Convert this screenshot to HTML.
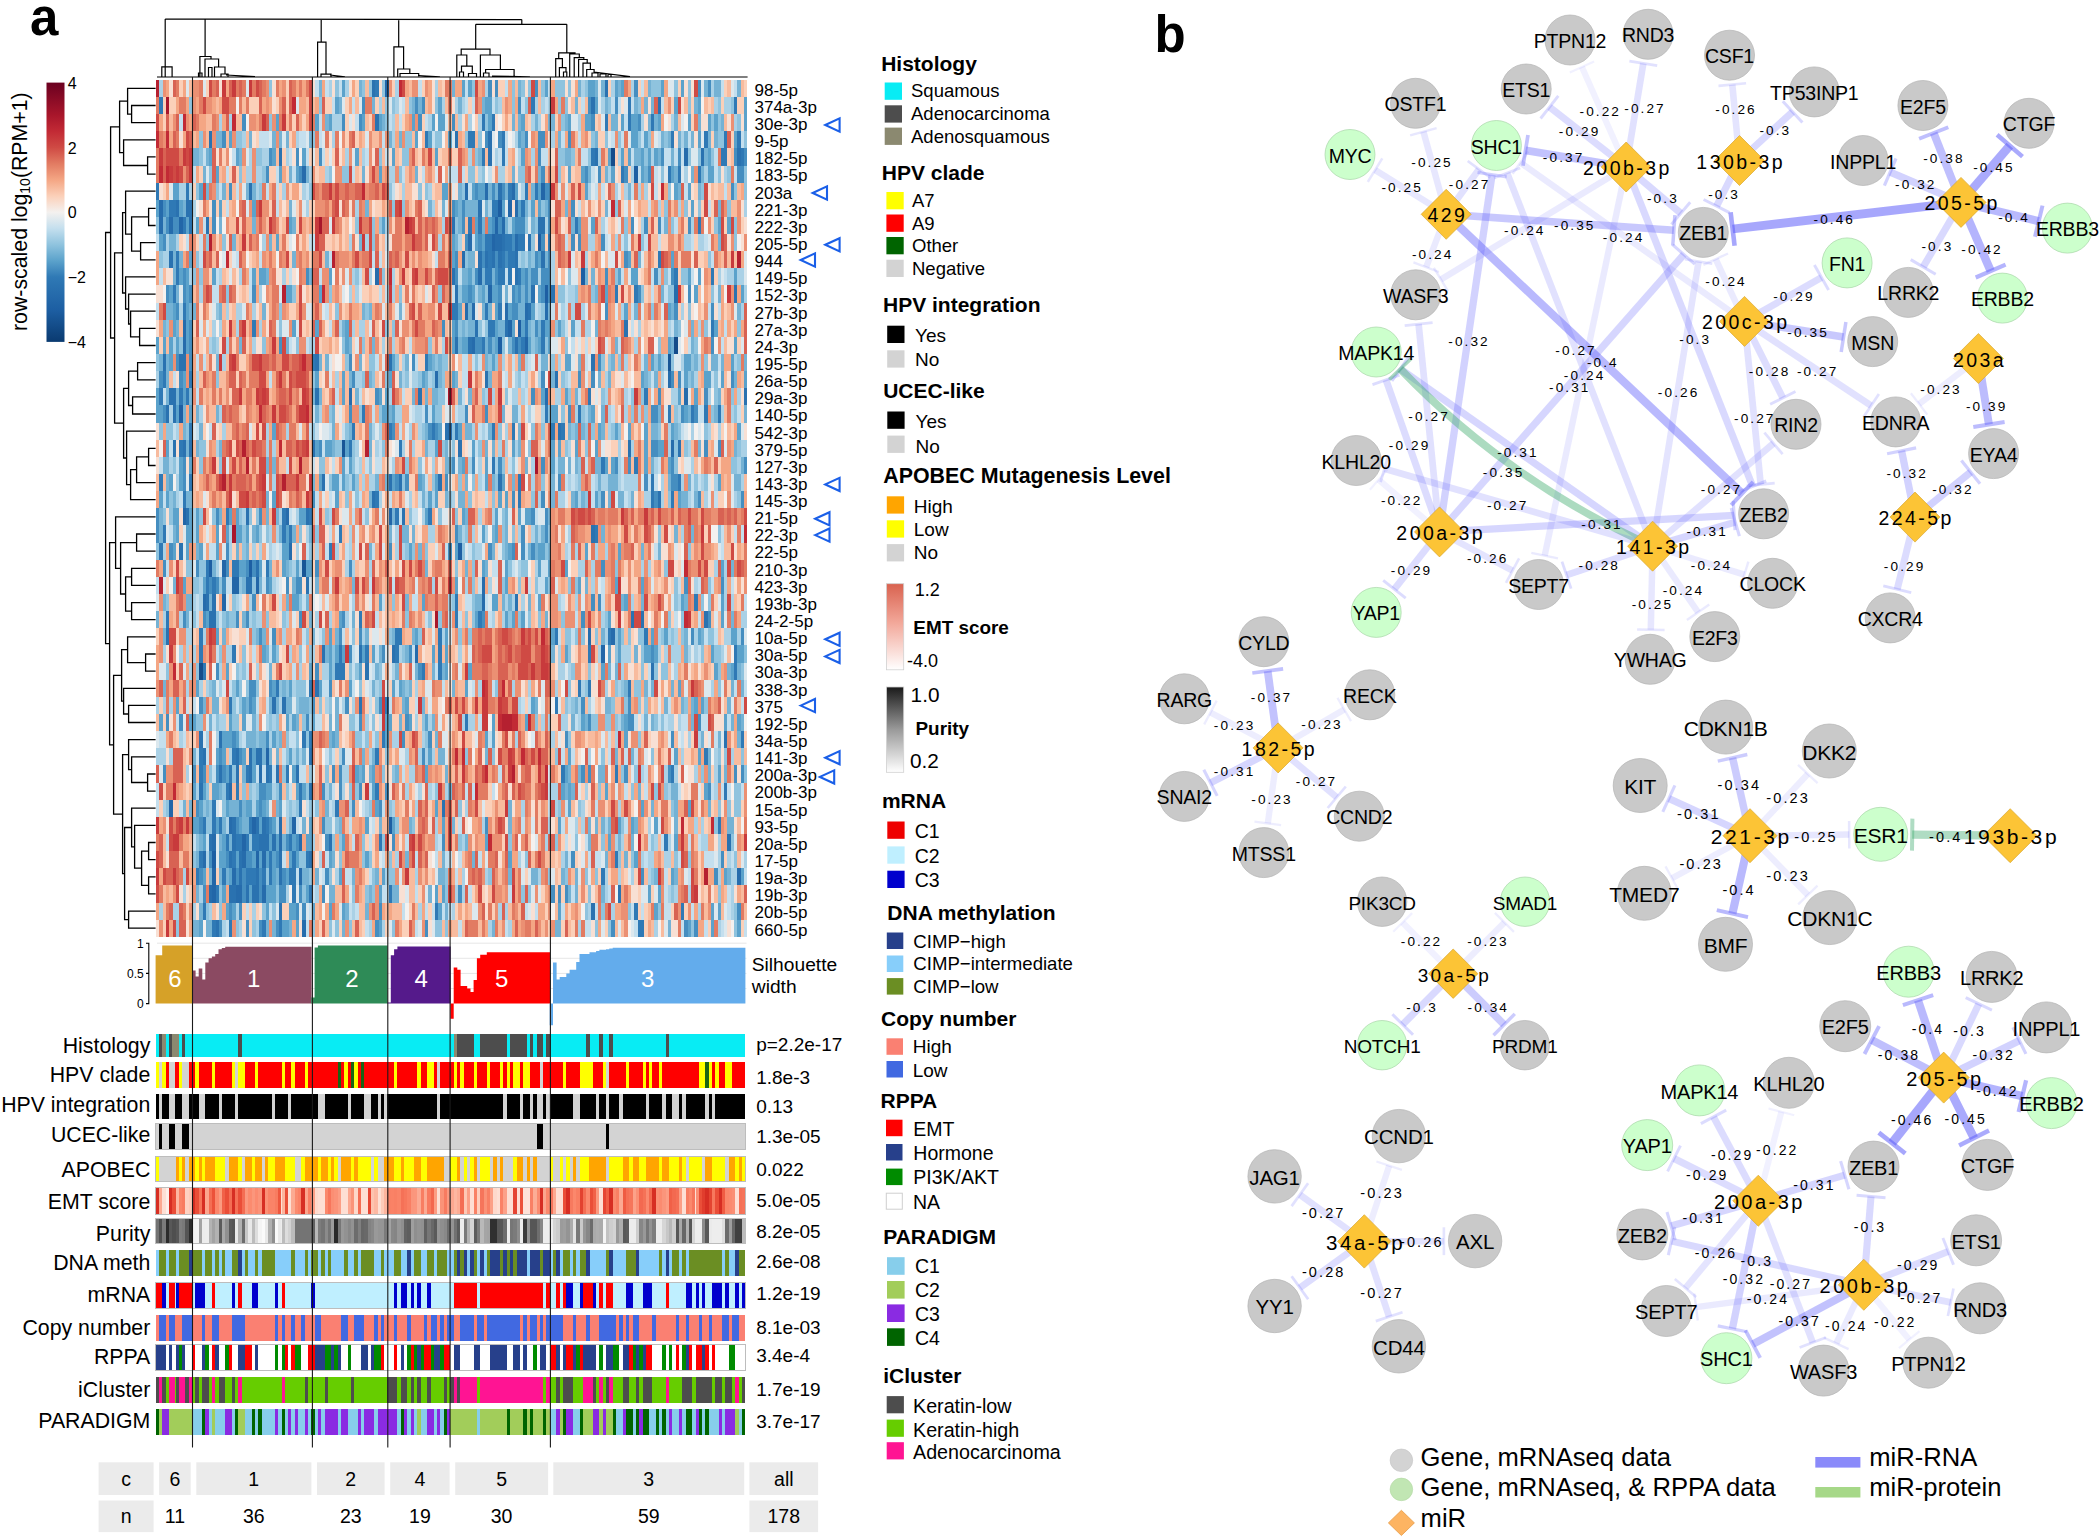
<!DOCTYPE html>
<html><head><meta charset="utf-8"><title>Figure</title>
<style>html,body{margin:0;padding:0;background:#fff;width:2100px;height:1537px;overflow:hidden}svg{display:block}</style></head>
<body>
<svg width="2100" height="1537" viewBox="0 0 2100 1537" font-family="'Liberation Sans', Arial, sans-serif" fill="#000">
<rect width="2100" height="1537" fill="#fff"/>
<text x="30.1" y="35.3" font-size="51" font-weight="bold">a</text>
<text x="1154.6" y="51.9" font-size="51" font-weight="bold">b</text>
<defs><linearGradient id="gb" x1="0" y1="0" x2="0" y2="1">
<stop offset="0.00%" stop-color="#6b0020"/>
<stop offset="12.50%" stop-color="#a8162b"/>
<stop offset="18.75%" stop-color="#c22a35"/>
<stop offset="25.00%" stop-color="#cf4a44"/>
<stop offset="31.25%" stop-color="#e27b62"/>
<stop offset="37.50%" stop-color="#f4a684"/>
<stop offset="43.75%" stop-color="#fbd0b9"/>
<stop offset="50.00%" stop-color="#f4f1ef"/>
<stop offset="56.25%" stop-color="#c4dfee"/>
<stop offset="62.50%" stop-color="#8fc3de"/>
<stop offset="68.75%" stop-color="#5ba2cb"/>
<stop offset="75.00%" stop-color="#2f79b5"/>
<stop offset="87.50%" stop-color="#1d5fa3"/>
<stop offset="100.00%" stop-color="#0a3a70"/>
</linearGradient>
<linearGradient id="ge" x1="0" y1="0" x2="0" y2="1"><stop offset="0" stop-color="#d9624f"/><stop offset="0.45" stop-color="#f2a799"/><stop offset="1" stop-color="#ffffff"/></linearGradient>
<linearGradient id="gp" x1="0" y1="0" x2="0" y2="1"><stop offset="0" stop-color="#1a1a1a"/><stop offset="0.5" stop-color="#9a9a9a"/><stop offset="1" stop-color="#ffffff"/></linearGradient>
</defs>
<rect x="46.5" y="82.6" width="18" height="259.3" fill="url(#gb)"/>
<text x="67.7" y="88.7" font-size="16">4</text>
<text x="67.7" y="153.5" font-size="16">2</text>
<text x="67.7" y="218.3" font-size="16">0</text>
<text x="67.7" y="283.1" font-size="16">−2</text>
<text x="67.7" y="347.9" font-size="16">−4</text>
<text transform="translate(27.3,331) rotate(-90)" font-size="21.3">row-scaled log<tspan font-size="14" dy="2.5">10</tspan><tspan dy="-2.5">(RPM+1)</tspan></text>
<g transform="translate(156,79.8) scale(3.3225,17.14)" shape-rendering="crispEdges">
<path fill="#144c8a" d="M137 4h1v1h-1zM156 15h1v1h-1zM13 34h1v1h-1z"/>
<path fill="#185696" d="M154 16h1v1h-1zM56 21h1v1h-1zM44 28h1v1h-1z"/>
<path fill="#1d5fa3" d="M144 5h1v1h-1zM103 7h1v1h-1zM115 9h1v1h-1zM128 11h1v1h-1zM117 12h1v1h-1zM109 14h1v1h-1zM103 15h1v1h-1zM7 19h1v1h-1zM91 27h1v1h-1zM16 28h1v1h-1zM28 28h1v1h-1zM70 43h1v1h-1zM17 45h1v1h-1z"/>
<path fill="#2266a8" d="M69 0h1v1h-1zM116 6h1v1h-1zM106 7h1v1h-1zM7 8h1v1h-1zM102 8h1v1h-1zM101 9h1v1h-1zM100 12h1v1h-1zM106 14h1v1h-1zM111 15h1v1h-1zM8 25h1v1h-1zM70 25h1v1h-1zM20 28h1v1h-1zM23 29h2v1h-2zM30 29h1v1h-1zM20 30h1v1h-1zM134 33h1v1h-1zM33 39h1v1h-1zM4 42h1v1h-1zM29 43h1v1h-1zM41 43h1v1h-1zM26 44h1v1h-1zM30 45h1v1h-1zM17 46h1v1h-1zM17 47h1v1h-1z"/>
<path fill="#266cac" d="M159 4h1v1h-1zM44 5h1v1h-1zM93 6h1v1h-1zM99 6h1v1h-1zM107 6h1v1h-1zM1 7h1v1h-1zM108 7h1v1h-1zM1 8h1v1h-1zM4 8h1v1h-1zM104 8h1v1h-1zM94 9h1v1h-1zM102 9h2v1h-2zM108 9h1v1h-1zM92 10h1v1h-1zM66 11h1v1h-1zM97 11h1v1h-1zM156 12h1v1h-1zM93 13h1v1h-1zM95 13h1v1h-1zM105 13h1v1h-1zM111 13h1v1h-1zM117 13h1v1h-1zM8 14h1v1h-1zM8 15h1v1h-1zM95 15h1v1h-1zM84 17h1v1h-1zM154 17h1v1h-1zM58 18h1v1h-1zM117 18h1v1h-1zM159 18h1v1h-1zM88 20h1v1h-1zM155 21h1v1h-1zM39 25h1v1h-1zM40 27h1v1h-1zM98 29h1v1h-1zM14 30h1v1h-1zM98 30h1v1h-1zM130 32h1v1h-1zM137 32h1v1h-1zM78 33h1v1h-1zM31 40h1v1h-1zM22 41h1v1h-1zM22 43h1v1h-1zM37 43h1v1h-1zM17 44h1v1h-1zM37 44h1v1h-1zM43 44h1v1h-1zM14 45h1v1h-1zM26 45h1v1h-1zM32 45h1v1h-1zM23 46h1v1h-1zM43 46h1v1h-1zM175 46h1v1h-1zM16 47h1v1h-1zM24 47h2v1h-2zM32 47h1v1h-1zM44 49h1v1h-1z"/>
<path fill="#2a72b0" d="M65 0h1v1h-1zM135 0h1v1h-1zM131 1h1v1h-1zM151 1h1v1h-1zM66 2h1v1h-1zM16 3h1v1h-1zM90 3h1v1h-1zM100 3h1v1h-1zM37 4h1v1h-1zM100 4h1v1h-1zM132 4h1v1h-1zM164 4h1v1h-1zM175 4h1v1h-1zM28 6h1v1h-1zM103 6h1v1h-1zM6 7h1v1h-1zM9 7h2v1h-2zM97 7h1v1h-1zM10 8h1v1h-1zM15 8h1v1h-1zM89 8h1v1h-1zM115 8h2v1h-2zM104 9h1v1h-1zM112 9h1v1h-1zM4 10h1v1h-1zM97 10h1v1h-1zM99 10h1v1h-1zM101 10h1v1h-1zM103 10h1v1h-1zM108 10h1v1h-1zM116 10h1v1h-1zM89 11h1v1h-1zM108 11h1v1h-1zM90 12h1v1h-1zM113 12h1v1h-1zM119 12h1v1h-1zM174 12h1v1h-1zM112 13h1v1h-1zM96 14h1v1h-1zM105 14h1v1h-1zM141 14h1v1h-1zM90 15h1v1h-1zM94 15h1v1h-1zM108 15h1v1h-1zM2 16h1v1h-1zM7 16h2v1h-2zM48 16h1v1h-1zM70 16h1v1h-1zM131 16h1v1h-1zM99 17h1v1h-1zM120 17h1v1h-1zM4 18h2v1h-2zM48 18h1v1h-1zM79 18h1v1h-1zM177 18h1v1h-1zM3 19h1v1h-1zM5 19h1v1h-1zM87 20h1v1h-1zM121 20h1v1h-1zM5 21h1v1h-1zM8 21h1v1h-1zM10 21h1v1h-1zM47 21h1v1h-1zM91 21h1v1h-1zM142 21h1v1h-1zM157 21h1v1h-1zM50 23h1v1h-1zM70 23h1v1h-1zM73 23h1v1h-1zM85 23h1v1h-1zM103 23h1v1h-1zM65 24h1v1h-1zM151 24h1v1h-1zM9 25h1v1h-1zM27 25h1v1h-1zM45 25h1v1h-1zM74 25h1v1h-1zM131 26h1v1h-1zM7 27h1v1h-1zM30 28h1v1h-1zM27 29h2v1h-2zM45 29h1v1h-1zM15 30h1v1h-1zM17 30h1v1h-1zM108 30h1v1h-1zM16 31h2v1h-2zM143 31h1v1h-1zM146 31h1v1h-1zM165 31h1v1h-1zM3 32h1v1h-1zM50 33h1v1h-1zM61 33h1v1h-1zM71 33h1v1h-1zM63 34h1v1h-1zM149 34h1v1h-1zM48 35h1v1h-1zM35 36h1v1h-1zM38 36h1v1h-1zM61 36h1v1h-1zM13 38h1v1h-1zM19 38h1v1h-1zM171 38h1v1h-1zM14 39h1v1h-1zM24 39h1v1h-1zM28 39h1v1h-1zM30 39h2v1h-2zM46 39h1v1h-1zM19 40h1v1h-1zM24 40h1v1h-1zM28 40h1v1h-1zM33 40h1v1h-1zM36 40h1v1h-1zM42 40h1v1h-1zM13 41h1v1h-1zM46 41h1v1h-1zM86 42h1v1h-1zM23 43h1v1h-1zM30 43h1v1h-1zM32 43h1v1h-1zM16 44h1v1h-1zM23 44h1v1h-1zM31 44h3v1h-3zM35 44h1v1h-1zM52 44h1v1h-1zM172 44h1v1h-1zM22 45h1v1h-1zM25 45h1v1h-1zM37 45h1v1h-1zM46 45h1v1h-1zM25 46h1v1h-1zM30 46h1v1h-1zM37 46h1v1h-1zM22 47h2v1h-2zM27 47h1v1h-1zM29 47h2v1h-2zM139 47h1v1h-1zM37 48h1v1h-1zM131 48h1v1h-1zM18 49h1v1h-1z"/>
<path fill="#2f79b5" d="M66 0h1v1h-1zM1 1h1v1h-1zM113 1h1v1h-1zM142 1h1v1h-1zM174 1h1v1h-1zM98 2h1v1h-1zM101 2h1v1h-1zM135 2h1v1h-1zM142 2h1v1h-1zM149 2h1v1h-1zM81 3h1v1h-1zM94 3h2v1h-2zM104 3h1v1h-1zM155 3h1v1h-1zM165 3h1v1h-1zM171 3h1v1h-1zM175 3h1v1h-1zM98 4h1v1h-1zM104 4h1v1h-1zM131 4h1v1h-1zM170 4h2v1h-2zM176 4h1v1h-1zM140 5h1v1h-1zM154 5h1v1h-1zM157 5h1v1h-1zM163 5h1v1h-1zM0 6h1v1h-1zM9 6h1v1h-1zM106 6h1v1h-1zM111 6h1v1h-1zM114 6h1v1h-1zM4 7h2v1h-2zM101 7h2v1h-2zM110 7h1v1h-1zM8 8h1v1h-1zM94 8h1v1h-1zM97 8h1v1h-1zM126 8h1v1h-1zM163 8h1v1h-1zM99 9h2v1h-2zM105 9h2v1h-2zM109 9h2v1h-2zM118 9h1v1h-1zM6 10h1v1h-1zM100 10h1v1h-1zM104 10h1v1h-1zM106 10h2v1h-2zM151 10h1v1h-1zM6 11h1v1h-1zM99 11h2v1h-2zM103 11h2v1h-2zM106 11h1v1h-1zM109 11h1v1h-1zM156 11h1v1h-1zM167 11h1v1h-1zM5 12h1v1h-1zM138 12h1v1h-1zM144 12h1v1h-1zM8 13h1v1h-1zM89 13h2v1h-2zM99 13h1v1h-1zM103 13h1v1h-1zM29 14h1v1h-1zM100 14h2v1h-2zM111 14h1v1h-1zM116 14h1v1h-1zM167 14h1v1h-1zM98 15h1v1h-1zM110 15h1v1h-1zM116 15h1v1h-1zM47 16h1v1h-1zM81 16h1v1h-1zM2 17h1v1h-1zM10 17h1v1h-1zM1 18h1v1h-1zM7 18h1v1h-1zM9 18h1v1h-1zM130 18h1v1h-1zM147 18h1v1h-1zM62 19h1v1h-1zM117 19h1v1h-1zM127 19h1v1h-1zM154 19h1v1h-1zM161 19h1v1h-1zM165 19h1v1h-1zM169 19h1v1h-1zM10 20h1v1h-1zM59 20h1v1h-1zM70 20h1v1h-1zM83 20h1v1h-1zM90 20h1v1h-1zM101 20h1v1h-1zM107 20h1v1h-1zM119 20h1v1h-1zM122 20h1v1h-1zM7 21h1v1h-1zM58 21h1v1h-1zM73 21h1v1h-1zM101 22h1v1h-1zM134 22h1v1h-1zM144 22h1v1h-1zM1 23h1v1h-1zM10 23h1v1h-1zM109 23h1v1h-1zM149 23h1v1h-1zM157 23h1v1h-1zM8 24h1v1h-1zM66 24h1v1h-1zM109 24h1v1h-1zM149 24h1v1h-1zM155 24h1v1h-1zM21 25h1v1h-1zM38 25h1v1h-1zM46 25h1v1h-1zM72 25h1v1h-1zM82 25h1v1h-1zM2 26h1v1h-1zM38 26h1v1h-1zM40 26h1v1h-1zM55 26h1v1h-1zM132 26h1v1h-1zM1 27h1v1h-1zM52 27h1v1h-1zM15 28h1v1h-1zM23 28h2v1h-2zM33 28h1v1h-1zM15 29h1v1h-1zM17 29h1v1h-1zM90 30h1v1h-1zM162 30h1v1h-1zM3 31h1v1h-1zM61 31h1v1h-1zM90 31h1v1h-1zM97 31h1v1h-1zM13 32h1v1h-1zM72 32h2v1h-2zM85 32h1v1h-1zM120 32h1v1h-1zM136 32h1v1h-1zM147 32h1v1h-1zM13 33h1v1h-1zM23 33h1v1h-1zM55 33h1v1h-1zM63 33h1v1h-1zM72 33h1v1h-1zM85 33h1v1h-1zM130 33h1v1h-1zM174 33h1v1h-1zM14 34h1v1h-1zM54 34h3v1h-3zM80 34h1v1h-1zM85 34h1v1h-1zM174 34h1v1h-1zM36 35h1v1h-1zM46 35h1v1h-1zM127 35h1v1h-1zM130 35h1v1h-1zM142 35h1v1h-1zM22 36h1v1h-1zM69 36h1v1h-1zM120 36h1v1h-1zM93 37h1v1h-1zM44 38h1v1h-1zM46 38h1v1h-1zM68 38h1v1h-1zM176 38h1v1h-1zM13 39h1v1h-1zM23 39h1v1h-1zM66 39h1v1h-1zM165 39h1v1h-1zM13 40h1v1h-1zM22 40h1v1h-1zM27 40h1v1h-1zM34 40h1v1h-1zM39 40h1v1h-1zM122 40h1v1h-1zM138 40h1v1h-1zM155 40h1v1h-1zM21 41h1v1h-1zM24 41h1v1h-1zM43 41h1v1h-1zM66 41h1v1h-1zM171 41h1v1h-1zM17 42h1v1h-1zM43 42h1v1h-1zM54 42h1v1h-1zM14 43h1v1h-1zM17 43h1v1h-1zM19 43h1v1h-1zM28 43h1v1h-1zM33 43h1v1h-1zM169 43h1v1h-1zM21 44h1v1h-1zM24 44h2v1h-2zM27 44h1v1h-1zM29 44h2v1h-2zM40 44h1v1h-1zM67 44h1v1h-1zM153 44h1v1h-1zM13 45h1v1h-1zM23 45h1v1h-1zM34 45h1v1h-1zM41 45h1v1h-1zM45 45h1v1h-1zM138 45h1v1h-1zM12 46h1v1h-1zM20 46h1v1h-1zM27 46h3v1h-3zM32 46h1v1h-1zM34 46h1v1h-1zM40 46h2v1h-2zM134 46h1v1h-1zM18 47h1v1h-1zM41 47h1v1h-1zM46 47h1v1h-1zM70 47h1v1h-1zM14 48h1v1h-1zM84 48h1v1h-1zM144 48h1v1h-1zM158 48h1v1h-1zM17 49h1v1h-1zM22 49h1v1h-1zM32 49h1v1h-1zM37 49h1v1h-1zM145 49h2v1h-2z"/>
<path fill="#458ec0" d="M100 0h1v1h-1zM102 0h1v1h-1zM114 0h1v1h-1zM144 0h1v1h-1zM163 0h1v1h-1zM166 0h1v1h-1zM62 1h1v1h-1zM78 1h1v1h-1zM80 1h1v1h-1zM109 1h1v1h-1zM130 1h1v1h-1zM138 1h1v1h-1zM26 2h1v1h-1zM56 2h1v1h-1zM61 2h1v1h-1zM79 2h1v1h-1zM89 2h1v1h-1zM131 2h1v1h-1zM145 2h1v1h-1zM20 3h1v1h-1zM99 3h1v1h-1zM103 3h1v1h-1zM111 3h1v1h-1zM115 3h2v1h-2zM124 3h1v1h-1zM34 4h1v1h-1zM42 4h1v1h-1zM49 4h1v1h-1zM115 4h1v1h-1zM152 4h1v1h-1zM157 4h1v1h-1zM174 4h1v1h-1zM177 4h1v1h-1zM33 5h1v1h-1zM43 5h1v1h-1zM116 5h1v1h-1zM129 5h1v1h-1zM133 5h1v1h-1zM141 5h1v1h-1zM148 5h1v1h-1zM175 5h2v1h-2zM22 6h1v1h-1zM96 6h1v1h-1zM101 6h1v1h-1zM104 6h1v1h-1zM117 6h2v1h-2zM173 6h1v1h-1zM2 7h1v1h-1zM17 7h1v1h-1zM89 7h1v1h-1zM92 7h1v1h-1zM118 7h1v1h-1zM125 7h1v1h-1zM3 8h1v1h-1zM5 8h2v1h-2zM17 8h1v1h-1zM92 8h1v1h-1zM101 8h1v1h-1zM103 8h1v1h-1zM108 8h3v1h-3zM118 8h1v1h-1zM143 8h1v1h-1zM147 8h1v1h-1zM151 8h1v1h-1zM160 8h1v1h-1zM2 9h1v1h-1zM93 9h1v1h-1zM97 9h1v1h-1zM107 9h1v1h-1zM116 9h1v1h-1zM125 9h1v1h-1zM127 9h1v1h-1zM134 9h1v1h-1zM90 10h1v1h-1zM98 10h1v1h-1zM102 10h1v1h-1zM105 10h1v1h-1zM114 10h1v1h-1zM118 10h1v1h-1zM141 10h1v1h-1zM8 11h1v1h-1zM45 11h1v1h-1zM90 11h1v1h-1zM96 11h1v1h-1zM102 11h1v1h-1zM111 11h1v1h-1zM113 11h2v1h-2zM116 11h3v1h-3zM135 11h1v1h-1zM150 11h1v1h-1zM155 11h1v1h-1zM3 12h1v1h-1zM8 12h1v1h-1zM10 12h1v1h-1zM29 12h1v1h-1zM94 12h1v1h-1zM103 12h1v1h-1zM107 12h1v1h-1zM109 12h1v1h-1zM111 12h1v1h-1zM116 12h1v1h-1zM118 12h1v1h-1zM145 12h1v1h-1zM160 12h1v1h-1zM6 13h1v1h-1zM107 13h2v1h-2zM135 13h1v1h-1zM156 13h1v1h-1zM167 13h1v1h-1zM10 14h1v1h-1zM86 14h1v1h-1zM90 14h1v1h-1zM114 14h1v1h-1zM10 15h1v1h-1zM37 15h1v1h-1zM96 15h2v1h-2zM100 15h1v1h-1zM107 15h1v1h-1zM109 15h1v1h-1zM167 15h1v1h-1zM6 16h1v1h-1zM10 16h1v1h-1zM58 16h1v1h-1zM77 16h1v1h-1zM133 16h1v1h-1zM1 17h1v1h-1zM7 17h1v1h-1zM59 17h1v1h-1zM116 17h1v1h-1zM127 17h1v1h-1zM131 17h1v1h-1zM155 17h1v1h-1zM157 17h1v1h-1zM173 17h1v1h-1zM66 18h1v1h-1zM113 18h1v1h-1zM151 18h1v1h-1zM165 18h1v1h-1zM2 19h1v1h-1zM58 19h1v1h-1zM81 19h1v1h-1zM93 19h1v1h-1zM99 19h1v1h-1zM124 19h1v1h-1zM149 19h2v1h-2zM158 19h1v1h-1zM162 19h1v1h-1zM71 20h1v1h-1zM82 20h1v1h-1zM84 20h1v1h-1zM49 21h1v1h-1zM149 21h2v1h-2zM165 21h1v1h-1zM169 21h1v1h-1zM8 22h1v1h-1zM89 22h1v1h-1zM95 22h1v1h-1zM103 22h1v1h-1zM116 22h1v1h-1zM138 22h1v1h-1zM142 22h1v1h-1zM155 22h1v1h-1zM177 22h1v1h-1zM8 23h1v1h-1zM72 23h1v1h-1zM75 23h1v1h-1zM87 23h1v1h-1zM121 23h1v1h-1zM147 23h1v1h-1zM155 23h2v1h-2zM47 24h1v1h-1zM107 24h1v1h-1zM116 24h1v1h-1zM134 24h1v1h-1zM150 24h1v1h-1zM163 24h1v1h-1zM176 24h1v1h-1zM0 25h1v1h-1zM18 25h1v1h-1zM31 25h1v1h-1zM113 25h1v1h-1zM117 25h1v1h-1zM0 26h1v1h-1zM90 26h1v1h-1zM110 26h1v1h-1zM117 26h1v1h-1zM4 27h1v1h-1zM21 27h1v1h-1zM70 27h1v1h-1zM88 27h1v1h-1zM100 27h1v1h-1zM107 27h1v1h-1zM110 27h1v1h-1zM113 27h1v1h-1zM2 28h1v1h-1zM12 28h1v1h-1zM21 28h1v1h-1zM27 28h1v1h-1zM29 28h1v1h-1zM48 28h1v1h-1zM58 28h1v1h-1zM134 28h1v1h-1zM16 29h1v1h-1zM18 29h1v1h-1zM20 29h1v1h-1zM33 29h1v1h-1zM39 29h1v1h-1zM42 29h2v1h-2zM159 29h1v1h-1zM170 29h1v1h-1zM29 30h1v1h-1zM131 30h1v1h-1zM133 30h1v1h-1zM8 31h1v1h-1zM14 31h1v1h-1zM24 31h1v1h-1zM27 31h1v1h-1zM43 31h1v1h-1zM56 31h1v1h-1zM98 31h1v1h-1zM128 31h1v1h-1zM166 31h1v1h-1zM31 32h1v1h-1zM35 32h1v1h-1zM55 32h1v1h-1zM61 32h1v1h-1zM161 32h1v1h-1zM176 32h1v1h-1zM58 33h1v1h-1zM68 33h1v1h-1zM76 33h1v1h-1zM149 33h1v1h-1zM18 34h1v1h-1zM48 34h1v1h-1zM79 34h1v1h-1zM28 35h2v1h-2zM34 35h1v1h-1zM52 35h1v1h-1zM13 36h1v1h-1zM28 36h1v1h-1zM47 36h1v1h-1zM57 36h1v1h-1zM67 36h1v1h-1zM128 36h1v1h-1zM142 36h1v1h-1zM3 37h1v1h-1zM7 37h1v1h-1zM45 37h1v1h-1zM61 37h1v1h-1zM75 37h1v1h-1zM130 37h1v1h-1zM142 37h2v1h-2zM163 37h1v1h-1zM23 38h1v1h-1zM33 38h1v1h-1zM74 38h1v1h-1zM82 38h1v1h-1zM123 38h1v1h-1zM155 38h1v1h-1zM19 39h1v1h-1zM25 39h1v1h-1zM56 39h1v1h-1zM80 39h1v1h-1zM2 40h1v1h-1zM11 40h1v1h-1zM14 40h1v1h-1zM18 40h1v1h-1zM20 40h1v1h-1zM53 40h1v1h-1zM55 40h1v1h-1zM128 40h1v1h-1zM130 40h1v1h-1zM141 40h1v1h-1zM154 40h1v1h-1zM174 40h1v1h-1zM176 40h1v1h-1zM31 41h2v1h-2zM37 41h1v1h-1zM50 41h1v1h-1zM55 41h1v1h-1zM61 41h1v1h-1zM69 41h1v1h-1zM166 41h1v1h-1zM12 42h1v1h-1zM25 42h1v1h-1zM31 42h1v1h-1zM59 42h1v1h-1zM67 42h1v1h-1zM13 43h1v1h-1zM24 43h1v1h-1zM34 43h1v1h-1zM50 43h1v1h-1zM99 43h1v1h-1zM39 44h1v1h-1zM42 44h1v1h-1zM51 44h1v1h-1zM71 44h1v1h-1zM86 44h1v1h-1zM16 45h1v1h-1zM21 45h1v1h-1zM27 45h2v1h-2zM36 45h1v1h-1zM125 45h1v1h-1zM170 45h1v1h-1zM13 46h1v1h-1zM24 46h1v1h-1zM26 46h1v1h-1zM31 46h1v1h-1zM38 46h1v1h-1zM51 46h1v1h-1zM146 46h1v1h-1zM168 46h1v1h-1zM14 47h1v1h-1zM26 47h1v1h-1zM31 47h1v1h-1zM37 47h2v1h-2zM43 47h1v1h-1zM50 47h1v1h-1zM91 47h1v1h-1zM119 47h1v1h-1zM121 47h1v1h-1zM123 47h1v1h-1zM22 48h1v1h-1zM25 48h1v1h-1zM42 48h1v1h-1zM44 48h1v1h-1zM67 48h1v1h-1zM175 48h1v1h-1zM19 49h1v1h-1zM27 49h1v1h-1zM31 49h1v1h-1zM36 49h1v1h-1zM66 49h1v1h-1zM81 49h1v1h-1zM137 49h1v1h-1zM159 49h1v1h-1zM162 49h1v1h-1z"/>
<path fill="#5ba2cb" d="M56 0h1v1h-1zM92 0h1v1h-1zM94 0h1v1h-1zM117 0h1v1h-1zM130 0h2v1h-2zM138 0h1v1h-1zM140 0h1v1h-1zM152 0h1v1h-1zM158 0h1v1h-1zM54 1h1v1h-1zM85 1h1v1h-1zM99 1h2v1h-2zM132 1h1v1h-1zM156 1h1v1h-1zM163 1h1v1h-1zM177 1h1v1h-1zM36 2h1v1h-1zM48 2h1v1h-1zM52 2h1v1h-1zM62 2h1v1h-1zM67 2h1v1h-1zM77 2h1v1h-1zM83 2h1v1h-1zM85 2h2v1h-2zM100 2h1v1h-1zM110 2h1v1h-1zM124 2h1v1h-1zM129 2h2v1h-2zM140 2h1v1h-1zM143 2h2v1h-2zM151 2h1v1h-1zM160 2h1v1h-1zM166 2h1v1h-1zM168 2h1v1h-1zM177 2h1v1h-1zM22 3h1v1h-1zM78 3h1v1h-1zM82 3h1v1h-1zM88 3h1v1h-1zM109 3h1v1h-1zM143 3h2v1h-2zM147 3h1v1h-1zM163 3h1v1h-1zM174 3h1v1h-1zM16 4h1v1h-1zM24 4h1v1h-1zM35 4h1v1h-1zM44 4h1v1h-1zM60 4h1v1h-1zM71 4h1v1h-1zM84 4h1v1h-1zM110 4h1v1h-1zM136 4h1v1h-1zM140 4h1v1h-1zM142 4h1v1h-1zM146 4h1v1h-1zM148 4h1v1h-1zM150 4h1v1h-1zM166 4h1v1h-1zM18 5h1v1h-1zM37 5h1v1h-1zM42 5h1v1h-1zM67 5h1v1h-1zM124 5h1v1h-1zM128 5h1v1h-1zM137 5h1v1h-1zM146 5h1v1h-1zM155 5h1v1h-1zM166 5h2v1h-2zM5 6h2v1h-2zM13 6h1v1h-1zM86 6h2v1h-2zM95 6h1v1h-1zM97 6h2v1h-2zM108 6h1v1h-1zM115 6h1v1h-1zM129 6h1v1h-1zM156 6h1v1h-1zM160 6h1v1h-1zM0 7h1v1h-1zM3 7h1v1h-1zM7 7h1v1h-1zM19 7h1v1h-1zM29 7h1v1h-1zM90 7h1v1h-1zM104 7h1v1h-1zM109 7h1v1h-1zM113 7h1v1h-1zM115 7h1v1h-1zM161 7h1v1h-1zM9 8h1v1h-1zM12 8h1v1h-1zM40 8h1v1h-1zM68 8h1v1h-1zM96 8h1v1h-1zM100 8h1v1h-1zM107 8h1v1h-1zM127 8h1v1h-1zM131 8h1v1h-1zM169 8h1v1h-1zM172 8h1v1h-1zM1 9h1v1h-1zM36 9h1v1h-1zM89 9h1v1h-1zM96 9h1v1h-1zM98 9h1v1h-1zM10 10h1v1h-1zM89 10h1v1h-1zM115 10h1v1h-1zM142 10h1v1h-1zM155 10h1v1h-1zM7 11h1v1h-1zM9 11h1v1h-1zM17 11h1v1h-1zM29 11h1v1h-1zM31 11h2v1h-2zM52 11h1v1h-1zM94 11h1v1h-1zM110 11h1v1h-1zM139 11h1v1h-1zM143 11h2v1h-2zM160 11h1v1h-1zM163 11h1v1h-1zM174 11h1v1h-1zM4 12h1v1h-1zM9 12h1v1h-1zM39 12h2v1h-2zM49 12h1v1h-1zM92 12h2v1h-2zM95 12h1v1h-1zM98 12h1v1h-1zM101 12h2v1h-2zM108 12h1v1h-1zM115 12h1v1h-1zM135 12h1v1h-1zM162 12h1v1h-1zM176 12h1v1h-1zM5 13h1v1h-1zM9 13h1v1h-1zM91 13h1v1h-1zM102 13h1v1h-1zM106 13h1v1h-1zM113 13h1v1h-1zM141 13h1v1h-1zM154 13h1v1h-1zM5 14h1v1h-1zM9 14h1v1h-1zM41 14h1v1h-1zM48 14h1v1h-1zM57 14h1v1h-1zM89 14h1v1h-1zM102 14h1v1h-1zM107 14h1v1h-1zM110 14h1v1h-1zM117 14h2v1h-2zM121 14h1v1h-1zM125 14h1v1h-1zM168 14h1v1h-1zM0 15h1v1h-1zM2 15h1v1h-1zM4 15h1v1h-1zM6 15h1v1h-1zM9 15h1v1h-1zM57 15h1v1h-1zM89 15h1v1h-1zM92 15h2v1h-2zM102 15h1v1h-1zM112 15h1v1h-1zM115 15h1v1h-1zM118 15h1v1h-1zM154 15h1v1h-1zM174 15h1v1h-1zM4 16h1v1h-1zM71 16h1v1h-1zM82 16h1v1h-1zM101 16h1v1h-1zM123 16h2v1h-2zM149 16h1v1h-1zM151 16h1v1h-1zM159 16h2v1h-2zM173 16h1v1h-1zM8 17h1v1h-1zM48 17h1v1h-1zM56 17h1v1h-1zM70 17h1v1h-1zM80 17h1v1h-1zM89 17h1v1h-1zM146 17h1v1h-1zM159 17h1v1h-1zM165 17h2v1h-2zM170 17h1v1h-1zM177 17h1v1h-1zM0 18h1v1h-1zM8 18h1v1h-1zM56 18h1v1h-1zM67 18h1v1h-1zM69 18h1v1h-1zM116 18h1v1h-1zM123 18h1v1h-1zM157 18h1v1h-1zM162 18h1v1h-1zM0 19h2v1h-2zM6 19h1v1h-1zM10 19h1v1h-1zM68 19h2v1h-2zM71 19h1v1h-1zM83 19h1v1h-1zM119 19h2v1h-2zM131 19h1v1h-1zM159 19h1v1h-1zM35 20h1v1h-1zM85 20h1v1h-1zM91 20h1v1h-1zM133 20h1v1h-1zM138 20h1v1h-1zM142 20h1v1h-1zM147 20h1v1h-1zM155 20h1v1h-1zM175 20h1v1h-1zM3 21h1v1h-1zM48 21h1v1h-1zM51 21h2v1h-2zM57 21h1v1h-1zM84 21h1v1h-1zM95 21h1v1h-1zM107 21h1v1h-1zM119 21h1v1h-1zM121 21h1v1h-1zM126 21h1v1h-1zM132 21h1v1h-1zM147 21h1v1h-1zM151 21h2v1h-2zM7 22h1v1h-1zM10 22h1v1h-1zM56 22h1v1h-1zM58 22h1v1h-1zM92 22h1v1h-1zM99 22h1v1h-1zM119 22h1v1h-1zM135 22h1v1h-1zM137 22h1v1h-1zM147 22h1v1h-1zM154 22h1v1h-1zM4 23h1v1h-1zM7 23h1v1h-1zM49 23h1v1h-1zM53 23h2v1h-2zM56 23h1v1h-1zM59 23h1v1h-1zM71 23h1v1h-1zM79 23h1v1h-1zM84 23h1v1h-1zM99 23h1v1h-1zM104 23h1v1h-1zM169 23h1v1h-1zM1 24h1v1h-1zM3 24h1v1h-1zM35 24h1v1h-1zM54 24h1v1h-1zM82 24h1v1h-1zM84 24h1v1h-1zM103 24h1v1h-1zM105 24h1v1h-1zM126 24h1v1h-1zM132 24h1v1h-1zM157 24h1v1h-1zM5 25h2v1h-2zM10 25h1v1h-1zM12 25h1v1h-1zM22 25h1v1h-1zM24 25h1v1h-1zM43 25h2v1h-2zM81 25h1v1h-1zM92 25h1v1h-1zM102 25h1v1h-1zM109 25h1v1h-1zM111 25h2v1h-2zM6 26h1v1h-1zM9 26h2v1h-2zM12 26h1v1h-1zM18 26h1v1h-1zM21 26h1v1h-1zM24 26h2v1h-2zM27 26h1v1h-1zM30 26h1v1h-1zM39 26h1v1h-1zM98 26h1v1h-1zM102 26h1v1h-1zM5 27h1v1h-1zM9 27h1v1h-1zM13 27h1v1h-1zM18 27h1v1h-1zM38 27h2v1h-2zM76 27h1v1h-1zM90 27h1v1h-1zM106 27h1v1h-1zM115 27h2v1h-2zM129 27h1v1h-1zM139 27h1v1h-1zM25 28h2v1h-2zM31 28h1v1h-1zM38 28h1v1h-1zM42 28h1v1h-1zM45 28h2v1h-2zM98 28h1v1h-1zM105 28h1v1h-1zM115 28h1v1h-1zM118 28h1v1h-1zM123 28h1v1h-1zM170 28h1v1h-1zM8 29h1v1h-1zM14 29h1v1h-1zM34 29h1v1h-1zM90 29h1v1h-1zM105 29h1v1h-1zM117 29h1v1h-1zM127 29h1v1h-1zM138 29h1v1h-1zM146 29h1v1h-1zM41 30h2v1h-2zM67 30h1v1h-1zM80 30h1v1h-1zM101 30h2v1h-2zM115 30h1v1h-1zM141 30h1v1h-1zM158 30h1v1h-1zM170 30h1v1h-1zM15 31h1v1h-1zM55 31h1v1h-1zM96 31h1v1h-1zM105 31h1v1h-1zM107 31h1v1h-1zM110 31h1v1h-1zM136 31h1v1h-1zM170 31h1v1h-1zM18 32h1v1h-1zM52 32h1v1h-1zM78 32h1v1h-1zM87 32h1v1h-1zM119 32h1v1h-1zM139 32h1v1h-1zM149 32h1v1h-1zM153 32h1v1h-1zM163 32h1v1h-1zM173 32h2v1h-2zM32 33h1v1h-1zM35 33h1v1h-1zM52 33h1v1h-1zM54 33h1v1h-1zM56 33h1v1h-1zM62 33h1v1h-1zM65 33h1v1h-1zM83 33h1v1h-1zM87 33h1v1h-1zM123 33h1v1h-1zM136 33h1v1h-1zM139 33h1v1h-1zM147 33h2v1h-2zM150 33h1v1h-1zM167 33h1v1h-1zM175 33h2v1h-2zM21 34h1v1h-1zM46 34h1v1h-1zM52 34h1v1h-1zM61 34h1v1h-1zM87 34h1v1h-1zM94 34h1v1h-1zM134 34h1v1h-1zM168 34h1v1h-1zM173 34h1v1h-1zM12 35h1v1h-1zM24 35h1v1h-1zM35 35h1v1h-1zM40 35h1v1h-1zM49 35h1v1h-1zM58 35h1v1h-1zM71 35h1v1h-1zM73 35h1v1h-1zM93 35h1v1h-1zM157 35h1v1h-1zM6 36h1v1h-1zM26 36h1v1h-1zM29 36h1v1h-1zM75 36h1v1h-1zM113 36h1v1h-1zM162 36h1v1h-1zM164 36h1v1h-1zM1 37h1v1h-1zM10 37h2v1h-2zM22 37h1v1h-1zM26 37h1v1h-1zM39 37h1v1h-1zM41 37h1v1h-1zM47 37h1v1h-1zM69 37h2v1h-2zM76 37h1v1h-1zM81 37h1v1h-1zM101 37h1v1h-1zM111 37h1v1h-1zM128 37h1v1h-1zM141 37h1v1h-1zM171 37h1v1h-1zM175 37h1v1h-1zM20 38h3v1h-3zM24 38h1v1h-1zM35 38h1v1h-1zM53 38h1v1h-1zM69 38h1v1h-1zM99 38h1v1h-1zM101 38h1v1h-1zM141 38h1v1h-1zM18 39h1v1h-1zM20 39h1v1h-1zM26 39h1v1h-1zM29 39h1v1h-1zM40 39h1v1h-1zM82 39h1v1h-1zM124 39h1v1h-1zM156 39h1v1h-1zM163 39h1v1h-1zM21 40h1v1h-1zM29 40h1v1h-1zM41 40h1v1h-1zM60 40h1v1h-1zM62 40h1v1h-1zM65 40h1v1h-1zM81 40h1v1h-1zM123 40h1v1h-1zM169 40h1v1h-1zM11 41h1v1h-1zM14 41h1v1h-1zM17 41h2v1h-2zM33 41h2v1h-2zM42 41h1v1h-1zM44 41h1v1h-1zM65 41h1v1h-1zM122 41h1v1h-1zM124 41h1v1h-1zM135 41h1v1h-1zM165 41h1v1h-1zM13 42h1v1h-1zM21 42h1v1h-1zM27 42h2v1h-2zM30 42h1v1h-1zM32 42h1v1h-1zM37 42h1v1h-1zM66 42h1v1h-1zM84 42h1v1h-1zM124 42h1v1h-1zM146 42h1v1h-1zM160 42h1v1h-1zM11 43h2v1h-2zM18 43h1v1h-1zM25 43h1v1h-1zM31 43h1v1h-1zM35 43h1v1h-1zM46 43h1v1h-1zM63 43h1v1h-1zM71 43h1v1h-1zM86 43h1v1h-1zM121 43h1v1h-1zM139 43h1v1h-1zM143 43h1v1h-1zM150 43h1v1h-1zM14 44h1v1h-1zM20 44h1v1h-1zM34 44h1v1h-1zM36 44h1v1h-1zM41 44h1v1h-1zM45 44h2v1h-2zM56 44h1v1h-1zM99 44h1v1h-1zM136 44h1v1h-1zM156 44h1v1h-1zM19 45h2v1h-2zM24 45h1v1h-1zM29 45h1v1h-1zM31 45h1v1h-1zM33 45h1v1h-1zM35 45h1v1h-1zM40 45h1v1h-1zM42 45h1v1h-1zM52 45h1v1h-1zM63 45h1v1h-1zM106 45h1v1h-1zM144 45h1v1h-1zM14 46h1v1h-1zM22 46h1v1h-1zM35 46h1v1h-1zM39 46h1v1h-1zM55 46h1v1h-1zM68 46h1v1h-1zM155 46h1v1h-1zM171 46h1v1h-1zM176 46h1v1h-1zM20 47h1v1h-1zM28 47h1v1h-1zM33 47h3v1h-3zM45 47h1v1h-1zM67 47h1v1h-1zM84 47h1v1h-1zM86 47h1v1h-1zM148 47h1v1h-1zM151 47h1v1h-1zM21 48h1v1h-1zM23 48h1v1h-1zM33 48h1v1h-1zM40 48h2v1h-2zM47 48h1v1h-1zM52 48h1v1h-1zM56 48h1v1h-1zM85 48h1v1h-1zM121 48h1v1h-1zM150 48h1v1h-1zM167 48h1v1h-1zM169 48h1v1h-1zM13 49h1v1h-1zM38 49h2v1h-2zM42 49h1v1h-1zM67 49h1v1h-1zM160 49h1v1h-1zM167 49h1v1h-1zM175 49h1v1h-1z"/>
<path fill="#75b2d4" d="M49 0h1v1h-1zM61 0h1v1h-1zM89 0h1v1h-1zM109 0h1v1h-1zM127 0h1v1h-1zM132 0h1v1h-1zM134 0h1v1h-1zM139 0h1v1h-1zM148 0h1v1h-1zM165 0h1v1h-1zM168 0h2v1h-2zM175 0h1v1h-1zM55 1h1v1h-1zM65 1h1v1h-1zM77 1h1v1h-1zM79 1h1v1h-1zM91 1h1v1h-1zM98 1h1v1h-1zM126 1h1v1h-1zM135 1h1v1h-1zM144 1h1v1h-1zM147 1h1v1h-1zM149 1h1v1h-1zM162 1h1v1h-1zM51 2h1v1h-1zM68 2h1v1h-1zM107 2h1v1h-1zM109 2h1v1h-1zM114 2h1v1h-1zM118 2h2v1h-2zM123 2h1v1h-1zM137 2h2v1h-2zM148 2h1v1h-1zM150 2h1v1h-1zM156 2h1v1h-1zM163 2h1v1h-1zM170 2h1v1h-1zM18 3h2v1h-2zM28 3h1v1h-1zM35 3h1v1h-1zM37 3h1v1h-1zM39 3h1v1h-1zM46 3h1v1h-1zM70 3h1v1h-1zM73 3h1v1h-1zM110 3h1v1h-1zM121 3h1v1h-1zM132 3h1v1h-1zM152 3h1v1h-1zM154 3h1v1h-1zM157 3h1v1h-1zM159 3h1v1h-1zM161 3h1v1h-1zM166 3h1v1h-1zM168 3h1v1h-1zM11 4h2v1h-2zM15 4h1v1h-1zM25 4h1v1h-1zM97 4h1v1h-1zM123 4h2v1h-2zM144 4h2v1h-2zM151 4h1v1h-1zM155 4h1v1h-1zM165 4h1v1h-1zM14 5h1v1h-1zM40 5h1v1h-1zM45 5h1v1h-1zM62 5h1v1h-1zM78 5h1v1h-1zM107 5h1v1h-1zM115 5h1v1h-1zM130 5h1v1h-1zM135 5h1v1h-1zM147 5h1v1h-1zM156 5h1v1h-1zM161 5h1v1h-1zM164 5h1v1h-1zM15 6h1v1h-1zM20 6h1v1h-1zM27 6h1v1h-1zM29 6h1v1h-1zM91 6h1v1h-1zM100 6h1v1h-1zM102 6h1v1h-1zM105 6h1v1h-1zM113 6h1v1h-1zM142 6h1v1h-1zM157 6h1v1h-1zM163 6h1v1h-1zM8 7h1v1h-1zM40 7h1v1h-1zM63 7h1v1h-1zM82 7h1v1h-1zM86 7h1v1h-1zM91 7h1v1h-1zM93 7h4v1h-4zM99 7h1v1h-1zM111 7h1v1h-1zM117 7h1v1h-1zM123 7h1v1h-1zM135 7h1v1h-1zM169 7h1v1h-1zM2 8h1v1h-1zM19 8h1v1h-1zM29 8h1v1h-1zM41 8h1v1h-1zM91 8h1v1h-1zM98 8h1v1h-1zM105 8h1v1h-1zM113 8h1v1h-1zM125 8h1v1h-1zM153 8h1v1h-1zM4 9h2v1h-2zM23 9h1v1h-1zM34 9h1v1h-1zM61 9h1v1h-1zM90 9h1v1h-1zM169 9h1v1h-1zM5 10h1v1h-1zM7 10h1v1h-1zM41 10h1v1h-1zM51 10h1v1h-1zM94 10h2v1h-2zM112 10h1v1h-1zM117 10h1v1h-1zM145 10h1v1h-1zM5 11h1v1h-1zM33 11h1v1h-1zM46 11h1v1h-1zM92 11h2v1h-2zM98 11h1v1h-1zM101 11h1v1h-1zM112 11h1v1h-1zM129 11h1v1h-1zM131 11h1v1h-1zM6 12h1v1h-1zM97 12h1v1h-1zM105 12h1v1h-1zM110 12h1v1h-1zM112 12h1v1h-1zM132 12h1v1h-1zM152 12h1v1h-1zM169 12h1v1h-1zM3 13h2v1h-2zM10 13h2v1h-2zM19 13h1v1h-1zM32 13h1v1h-1zM62 13h1v1h-1zM64 13h1v1h-1zM73 13h1v1h-1zM94 13h1v1h-1zM98 13h1v1h-1zM100 13h1v1h-1zM109 13h2v1h-2zM118 13h1v1h-1zM144 13h1v1h-1zM155 13h1v1h-1zM175 13h1v1h-1zM2 14h1v1h-1zM6 14h1v1h-1zM56 14h1v1h-1zM92 14h1v1h-1zM94 14h2v1h-2zM103 14h2v1h-2zM112 14h1v1h-1zM115 14h1v1h-1zM132 14h1v1h-1zM156 14h1v1h-1zM161 14h1v1h-1zM25 15h1v1h-1zM39 15h1v1h-1zM58 15h1v1h-1zM65 15h1v1h-1zM91 15h1v1h-1zM99 15h1v1h-1zM101 15h1v1h-1zM106 15h1v1h-1zM114 15h1v1h-1zM138 15h1v1h-1zM155 15h1v1h-1zM161 15h1v1h-1zM1 16h1v1h-1zM3 16h1v1h-1zM18 16h1v1h-1zM49 16h1v1h-1zM51 16h1v1h-1zM61 16h1v1h-1zM75 16h1v1h-1zM83 16h1v1h-1zM85 16h1v1h-1zM99 16h1v1h-1zM109 16h1v1h-1zM116 16h2v1h-2zM127 16h1v1h-1zM137 16h1v1h-1zM147 16h1v1h-1zM162 16h1v1h-1zM167 16h2v1h-2zM170 16h1v1h-1zM177 16h1v1h-1zM3 17h1v1h-1zM58 17h1v1h-1zM64 17h1v1h-1zM73 17h1v1h-1zM81 17h1v1h-1zM85 17h1v1h-1zM90 17h1v1h-1zM100 17h1v1h-1zM119 17h1v1h-1zM133 17h1v1h-1zM136 17h1v1h-1zM147 17h1v1h-1zM150 17h1v1h-1zM161 17h1v1h-1zM174 17h1v1h-1zM3 18h1v1h-1zM6 18h1v1h-1zM10 18h1v1h-1zM47 18h1v1h-1zM49 18h1v1h-1zM60 18h1v1h-1zM77 18h1v1h-1zM81 18h1v1h-1zM83 18h2v1h-2zM91 18h1v1h-1zM94 18h1v1h-1zM126 18h1v1h-1zM169 18h1v1h-1zM8 19h1v1h-1zM12 19h1v1h-1zM18 19h1v1h-1zM48 19h1v1h-1zM53 19h1v1h-1zM70 19h1v1h-1zM104 19h1v1h-1zM107 19h2v1h-2zM130 19h1v1h-1zM134 19h1v1h-1zM151 19h1v1h-1zM160 19h1v1h-1zM168 19h1v1h-1zM177 19h1v1h-1zM8 20h1v1h-1zM13 20h1v1h-1zM53 20h1v1h-1zM58 20h1v1h-1zM64 20h1v1h-1zM81 20h1v1h-1zM93 20h2v1h-2zM100 20h1v1h-1zM109 20h1v1h-1zM124 20h1v1h-1zM126 20h1v1h-1zM128 20h1v1h-1zM134 20h1v1h-1zM149 20h2v1h-2zM156 20h1v1h-1zM9 21h1v1h-1zM12 21h1v1h-1zM19 21h1v1h-1zM53 21h1v1h-1zM64 21h1v1h-1zM81 21h1v1h-1zM87 21h1v1h-1zM99 21h1v1h-1zM101 21h1v1h-1zM109 21h1v1h-1zM163 21h1v1h-1zM174 21h1v1h-1zM2 22h2v1h-2zM33 22h1v1h-1zM35 22h1v1h-1zM87 22h2v1h-2zM91 22h1v1h-1zM111 22h1v1h-1zM121 22h2v1h-2zM124 22h1v1h-1zM126 22h1v1h-1zM132 22h2v1h-2zM149 22h1v1h-1zM176 22h1v1h-1zM3 23h1v1h-1zM47 23h1v1h-1zM66 23h1v1h-1zM69 23h1v1h-1zM80 23h1v1h-1zM93 23h1v1h-1zM101 23h1v1h-1zM107 23h1v1h-1zM119 23h1v1h-1zM133 23h1v1h-1zM136 23h3v1h-3zM154 23h1v1h-1zM160 23h1v1h-1zM174 23h2v1h-2zM5 24h1v1h-1zM9 24h2v1h-2zM33 24h1v1h-1zM64 24h1v1h-1zM80 24h1v1h-1zM87 24h1v1h-1zM91 24h2v1h-2zM119 24h1v1h-1zM125 24h1v1h-1zM128 24h1v1h-1zM136 24h1v1h-1zM139 24h2v1h-2zM143 24h1v1h-1zM158 24h2v1h-2zM162 24h1v1h-1zM1 25h1v1h-1zM19 25h1v1h-1zM33 25h1v1h-1zM36 25h1v1h-1zM71 25h1v1h-1zM93 25h1v1h-1zM105 25h1v1h-1zM118 25h1v1h-1zM1 26h1v1h-1zM5 26h1v1h-1zM29 26h1v1h-1zM37 26h1v1h-1zM41 26h1v1h-1zM46 26h1v1h-1zM70 26h1v1h-1zM74 26h2v1h-2zM77 26h1v1h-1zM91 26h1v1h-1zM101 26h1v1h-1zM105 26h1v1h-1zM114 26h1v1h-1zM116 26h1v1h-1zM134 26h1v1h-1zM156 26h1v1h-1zM161 26h1v1h-1zM12 27h1v1h-1zM24 27h1v1h-1zM27 27h1v1h-1zM64 27h1v1h-1zM79 27h1v1h-1zM101 27h1v1h-1zM105 27h1v1h-1zM112 27h1v1h-1zM114 27h1v1h-1zM118 27h1v1h-1zM146 27h1v1h-1zM151 27h1v1h-1zM17 28h1v1h-1zM34 28h1v1h-1zM39 28h1v1h-1zM81 28h1v1h-1zM93 28h1v1h-1zM99 28h1v1h-1zM173 28h1v1h-1zM5 29h1v1h-1zM26 29h1v1h-1zM31 29h1v1h-1zM41 29h1v1h-1zM48 29h1v1h-1zM59 29h1v1h-1zM129 29h1v1h-1zM2 30h1v1h-1zM9 30h2v1h-2zM16 30h1v1h-1zM39 30h1v1h-1zM45 30h1v1h-1zM75 30h1v1h-1zM96 30h2v1h-2zM104 30h1v1h-1zM106 30h1v1h-1zM112 30h1v1h-1zM140 30h1v1h-1zM146 30h1v1h-1zM159 30h1v1h-1zM0 31h1v1h-1zM9 31h1v1h-1zM21 31h1v1h-1zM26 31h1v1h-1zM46 31h1v1h-1zM59 31h1v1h-1zM117 31h1v1h-1zM173 31h1v1h-1zM2 32h1v1h-1zM20 32h1v1h-1zM30 32h1v1h-1zM32 32h1v1h-1zM47 32h1v1h-1zM54 32h1v1h-1zM63 32h1v1h-1zM71 32h1v1h-1zM77 32h1v1h-1zM134 32h1v1h-1zM159 32h1v1h-1zM164 32h1v1h-1zM33 33h1v1h-1zM51 33h1v1h-1zM67 33h1v1h-1zM75 33h1v1h-1zM119 33h1v1h-1zM144 33h1v1h-1zM159 33h1v1h-1zM34 34h1v1h-1zM66 34h1v1h-1zM72 34h1v1h-1zM78 34h1v1h-1zM83 34h1v1h-1zM86 34h1v1h-1zM136 34h1v1h-1zM138 34h1v1h-1zM172 34h1v1h-1zM175 34h1v1h-1zM2 35h1v1h-1zM17 35h1v1h-1zM38 35h1v1h-1zM65 35h1v1h-1zM74 35h1v1h-1zM76 35h1v1h-1zM89 35h1v1h-1zM141 35h1v1h-1zM147 35h1v1h-1zM149 35h1v1h-1zM155 35h1v1h-1zM173 35h1v1h-1zM176 35h1v1h-1zM14 36h1v1h-1zM17 36h2v1h-2zM27 36h1v1h-1zM34 36h1v1h-1zM36 36h1v1h-1zM39 36h2v1h-2zM43 36h3v1h-3zM54 36h1v1h-1zM74 36h1v1h-1zM80 36h1v1h-1zM114 36h1v1h-1zM126 36h1v1h-1zM135 36h2v1h-2zM153 36h1v1h-1zM158 36h1v1h-1zM161 36h1v1h-1zM172 36h1v1h-1zM16 37h1v1h-1zM29 37h1v1h-1zM42 37h1v1h-1zM52 37h1v1h-1zM54 37h1v1h-1zM73 37h1v1h-1zM83 37h1v1h-1zM125 37h1v1h-1zM129 37h1v1h-1zM140 37h1v1h-1zM147 37h1v1h-1zM149 37h1v1h-1zM161 37h1v1h-1zM173 37h1v1h-1zM176 37h1v1h-1zM27 38h3v1h-3zM31 38h2v1h-2zM37 38h1v1h-1zM52 38h1v1h-1zM54 38h1v1h-1zM84 38h1v1h-1zM164 38h1v1h-1zM169 38h1v1h-1zM175 38h1v1h-1zM11 39h1v1h-1zM32 39h1v1h-1zM34 39h1v1h-1zM36 39h1v1h-1zM42 39h1v1h-1zM44 39h1v1h-1zM62 39h1v1h-1zM65 39h1v1h-1zM85 39h2v1h-2zM99 39h1v1h-1zM138 39h1v1h-1zM143 39h1v1h-1zM166 39h1v1h-1zM26 40h1v1h-1zM61 40h1v1h-1zM64 40h1v1h-1zM72 40h1v1h-1zM87 40h1v1h-1zM124 40h1v1h-1zM127 40h1v1h-1zM133 40h2v1h-2zM166 40h1v1h-1zM171 40h1v1h-1zM19 41h1v1h-1zM52 41h1v1h-1zM88 41h1v1h-1zM123 41h1v1h-1zM125 41h1v1h-1zM145 41h1v1h-1zM155 41h2v1h-2zM8 42h1v1h-1zM10 42h1v1h-1zM15 42h1v1h-1zM22 42h3v1h-3zM26 42h1v1h-1zM33 42h1v1h-1zM36 42h1v1h-1zM51 42h1v1h-1zM106 42h1v1h-1zM149 42h1v1h-1zM156 42h1v1h-1zM166 42h1v1h-1zM20 43h1v1h-1zM26 43h2v1h-2zM40 43h1v1h-1zM44 43h1v1h-1zM55 43h1v1h-1zM67 43h1v1h-1zM76 43h1v1h-1zM89 43h1v1h-1zM106 43h1v1h-1zM130 43h1v1h-1zM132 43h1v1h-1zM134 43h1v1h-1zM136 43h1v1h-1zM144 43h1v1h-1zM156 43h1v1h-1zM172 43h2v1h-2zM13 44h1v1h-1zM19 44h1v1h-1zM22 44h1v1h-1zM38 44h1v1h-1zM93 44h1v1h-1zM130 44h1v1h-1zM139 44h1v1h-1zM143 44h1v1h-1zM12 45h1v1h-1zM53 45h1v1h-1zM75 45h1v1h-1zM86 45h1v1h-1zM95 45h1v1h-1zM123 45h1v1h-1zM135 45h1v1h-1zM141 45h1v1h-1zM16 46h1v1h-1zM19 46h1v1h-1zM21 46h1v1h-1zM36 46h1v1h-1zM44 46h2v1h-2zM48 46h1v1h-1zM59 46h1v1h-1zM66 46h1v1h-1zM85 46h2v1h-2zM106 46h1v1h-1zM113 46h2v1h-2zM122 46h1v1h-1zM126 46h1v1h-1zM150 46h1v1h-1zM156 46h1v1h-1zM172 46h1v1h-1zM12 47h1v1h-1zM52 47h2v1h-2zM64 47h1v1h-1zM71 47h2v1h-2zM82 47h1v1h-1zM124 47h1v1h-1zM126 47h1v1h-1zM134 47h1v1h-1zM13 48h1v1h-1zM57 48h1v1h-1zM63 48h1v1h-1zM87 48h1v1h-1zM11 49h2v1h-2zM15 49h2v1h-2zM33 49h1v1h-1zM35 49h1v1h-1zM40 49h1v1h-1zM56 49h1v1h-1zM101 49h1v1h-1zM120 49h2v1h-2zM154 49h1v1h-1z"/>
<path fill="#8fc3de" d="M34 0h1v1h-1zM54 0h1v1h-1zM62 0h1v1h-1zM64 0h1v1h-1zM68 0h1v1h-1zM95 0h1v1h-1zM107 0h1v1h-1zM110 0h1v1h-1zM112 0h1v1h-1zM116 0h1v1h-1zM120 0h3v1h-3zM124 0h1v1h-1zM129 0h1v1h-1zM149 0h3v1h-3zM156 0h1v1h-1zM160 0h1v1h-1zM10 1h1v1h-1zM49 1h1v1h-1zM69 1h1v1h-1zM71 1h1v1h-1zM76 1h1v1h-1zM84 1h1v1h-1zM102 1h1v1h-1zM107 1h1v1h-1zM111 1h1v1h-1zM121 1h1v1h-1zM123 1h1v1h-1zM136 1h1v1h-1zM145 1h1v1h-1zM160 1h1v1h-1zM169 1h1v1h-1zM173 1h1v1h-1zM34 2h1v1h-1zM69 2h1v1h-1zM99 2h1v1h-1zM122 2h1v1h-1zM167 2h1v1h-1zM169 2h1v1h-1zM175 2h1v1h-1zM13 3h1v1h-1zM24 3h2v1h-2zM47 3h1v1h-1zM75 3h2v1h-2zM84 3h2v1h-2zM93 3h1v1h-1zM97 3h1v1h-1zM131 3h1v1h-1zM135 3h1v1h-1zM139 3h1v1h-1zM145 3h1v1h-1zM148 3h1v1h-1zM153 3h1v1h-1zM169 3h2v1h-2zM177 3h1v1h-1zM13 4h1v1h-1zM30 4h2v1h-2zM67 4h1v1h-1zM74 4h2v1h-2zM96 4h1v1h-1zM121 4h2v1h-2zM125 4h1v1h-1zM130 4h1v1h-1zM147 4h1v1h-1zM160 4h1v1h-1zM163 4h1v1h-1zM167 4h1v1h-1zM16 5h1v1h-1zM25 5h1v1h-1zM32 5h1v1h-1zM52 5h1v1h-1zM56 5h2v1h-2zM73 5h1v1h-1zM94 5h2v1h-2zM98 5h1v1h-1zM109 5h2v1h-2zM121 5h1v1h-1zM152 5h1v1h-1zM169 5h1v1h-1zM172 5h1v1h-1zM177 5h1v1h-1zM12 6h1v1h-1zM18 6h1v1h-1zM31 6h1v1h-1zM46 6h1v1h-1zM70 6h1v1h-1zM79 6h1v1h-1zM81 6h1v1h-1zM92 6h1v1h-1zM154 6h1v1h-1zM164 6h1v1h-1zM174 6h1v1h-1zM177 6h1v1h-1zM71 7h1v1h-1zM74 7h1v1h-1zM116 7h1v1h-1zM138 7h1v1h-1zM153 7h1v1h-1zM159 7h1v1h-1zM163 7h1v1h-1zM172 7h1v1h-1zM0 8h1v1h-1zM60 8h1v1h-1zM65 8h1v1h-1zM67 8h1v1h-1zM90 8h1v1h-1zM111 8h1v1h-1zM114 8h1v1h-1zM141 8h1v1h-1zM155 8h1v1h-1zM168 8h1v1h-1zM174 8h1v1h-1zM15 9h1v1h-1zM20 9h1v1h-1zM65 9h1v1h-1zM113 9h1v1h-1zM141 9h1v1h-1zM146 9h1v1h-1zM174 9h1v1h-1zM1 10h1v1h-1zM12 10h1v1h-1zM93 10h1v1h-1zM110 10h1v1h-1zM113 10h1v1h-1zM166 10h1v1h-1zM11 11h1v1h-1zM13 11h1v1h-1zM60 11h1v1h-1zM68 11h1v1h-1zM95 11h1v1h-1zM124 11h1v1h-1zM138 11h1v1h-1zM153 11h1v1h-1zM158 11h2v1h-2zM21 12h1v1h-1zM41 12h1v1h-1zM52 12h1v1h-1zM73 12h1v1h-1zM85 12h1v1h-1zM91 12h1v1h-1zM99 12h1v1h-1zM121 12h2v1h-2zM126 12h1v1h-1zM131 12h1v1h-1zM146 12h1v1h-1zM154 12h2v1h-2zM167 12h1v1h-1zM18 13h1v1h-1zM37 13h1v1h-1zM54 13h1v1h-1zM63 13h1v1h-1zM116 13h1v1h-1zM149 13h1v1h-1zM160 13h1v1h-1zM3 14h1v1h-1zM37 14h1v1h-1zM69 14h1v1h-1zM71 14h1v1h-1zM91 14h1v1h-1zM93 14h1v1h-1zM97 14h1v1h-1zM99 14h1v1h-1zM113 14h1v1h-1zM120 14h1v1h-1zM122 14h1v1h-1zM157 14h1v1h-1zM165 14h1v1h-1zM175 14h1v1h-1zM7 15h1v1h-1zM17 15h1v1h-1zM32 15h1v1h-1zM42 15h1v1h-1zM56 15h1v1h-1zM62 15h1v1h-1zM82 15h1v1h-1zM104 15h1v1h-1zM113 15h1v1h-1zM117 15h1v1h-1zM123 15h1v1h-1zM151 15h1v1h-1zM162 15h1v1h-1zM0 16h1v1h-1zM57 16h1v1h-1zM64 16h2v1h-2zM72 16h1v1h-1zM84 16h1v1h-1zM86 16h2v1h-2zM96 16h1v1h-1zM100 16h1v1h-1zM102 16h1v1h-1zM119 16h1v1h-1zM134 16h1v1h-1zM136 16h1v1h-1zM139 16h1v1h-1zM150 16h1v1h-1zM152 16h1v1h-1zM155 16h1v1h-1zM161 16h1v1h-1zM165 16h1v1h-1zM175 16h1v1h-1zM18 17h1v1h-1zM47 17h1v1h-1zM62 17h1v1h-1zM65 17h1v1h-1zM69 17h1v1h-1zM75 17h1v1h-1zM79 17h1v1h-1zM83 17h1v1h-1zM86 17h1v1h-1zM109 17h1v1h-1zM122 17h1v1h-1zM148 17h1v1h-1zM160 17h1v1h-1zM168 17h1v1h-1zM85 18h2v1h-2zM98 18h1v1h-1zM105 18h1v1h-1zM124 18h1v1h-1zM134 18h1v1h-1zM143 18h1v1h-1zM146 18h1v1h-1zM168 18h1v1h-1zM173 18h1v1h-1zM52 19h1v1h-1zM61 19h1v1h-1zM67 19h1v1h-1zM84 19h2v1h-2zM118 19h1v1h-1zM122 19h1v1h-1zM128 19h1v1h-1zM143 19h1v1h-1zM147 19h1v1h-1zM156 19h1v1h-1zM167 19h1v1h-1zM174 19h1v1h-1zM1 20h1v1h-1zM3 20h2v1h-2zM9 20h1v1h-1zM47 20h1v1h-1zM57 20h1v1h-1zM80 20h1v1h-1zM89 20h1v1h-1zM103 20h1v1h-1zM113 20h1v1h-1zM116 20h1v1h-1zM125 20h1v1h-1zM129 20h1v1h-1zM131 20h1v1h-1zM137 20h1v1h-1zM139 20h1v1h-1zM151 20h1v1h-1zM157 20h1v1h-1zM165 20h1v1h-1zM13 21h2v1h-2zM54 21h2v1h-2zM59 21h1v1h-1zM68 21h1v1h-1zM86 21h1v1h-1zM89 21h1v1h-1zM97 21h1v1h-1zM112 21h1v1h-1zM123 21h1v1h-1zM129 21h1v1h-1zM156 21h1v1h-1zM159 21h1v1h-1zM175 21h1v1h-1zM5 22h1v1h-1zM13 22h1v1h-1zM19 22h1v1h-1zM49 22h2v1h-2zM59 22h1v1h-1zM64 22h1v1h-1zM75 22h1v1h-1zM79 22h1v1h-1zM104 22h1v1h-1zM107 22h1v1h-1zM127 22h1v1h-1zM156 22h1v1h-1zM173 22h2v1h-2zM52 23h1v1h-1zM57 23h1v1h-1zM60 23h1v1h-1zM74 23h1v1h-1zM83 23h1v1h-1zM91 23h1v1h-1zM95 23h1v1h-1zM102 23h1v1h-1zM116 23h1v1h-1zM127 23h1v1h-1zM162 23h1v1h-1zM165 23h1v1h-1zM4 24h1v1h-1zM57 24h1v1h-1zM60 24h1v1h-1zM88 24h1v1h-1zM94 24h1v1h-1zM101 24h1v1h-1zM113 24h1v1h-1zM129 24h1v1h-1zM133 24h1v1h-1zM154 24h1v1h-1zM175 24h1v1h-1zM2 25h1v1h-1zM4 25h1v1h-1zM13 25h1v1h-1zM17 25h1v1h-1zM25 25h1v1h-1zM28 25h1v1h-1zM30 25h1v1h-1zM51 25h1v1h-1zM63 25h1v1h-1zM76 25h1v1h-1zM85 25h1v1h-1zM90 25h1v1h-1zM104 25h1v1h-1zM26 26h1v1h-1zM31 26h1v1h-1zM33 26h1v1h-1zM43 26h1v1h-1zM48 26h1v1h-1zM93 26h1v1h-1zM104 26h1v1h-1zM107 26h1v1h-1zM118 26h1v1h-1zM151 26h1v1h-1zM169 26h1v1h-1zM0 27h1v1h-1zM26 27h1v1h-1zM46 27h1v1h-1zM75 27h1v1h-1zM77 27h1v1h-1zM81 27h1v1h-1zM92 27h1v1h-1zM95 27h1v1h-1zM104 27h1v1h-1zM117 27h1v1h-1zM160 27h1v1h-1zM9 28h2v1h-2zM13 28h2v1h-2zM40 28h1v1h-1zM90 28h1v1h-1zM95 28h1v1h-1zM106 28h1v1h-1zM110 28h2v1h-2zM138 28h1v1h-1zM153 28h1v1h-1zM11 29h2v1h-2zM19 29h1v1h-1zM25 29h1v1h-1zM29 29h1v1h-1zM95 29h1v1h-1zM104 29h1v1h-1zM109 29h1v1h-1zM114 29h1v1h-1zM118 29h1v1h-1zM124 29h1v1h-1zM126 29h1v1h-1zM156 29h1v1h-1zM166 29h1v1h-1zM3 30h1v1h-1zM23 30h1v1h-1zM43 30h1v1h-1zM71 30h1v1h-1zM89 30h1v1h-1zM95 30h1v1h-1zM156 30h1v1h-1zM164 30h1v1h-1zM166 30h1v1h-1zM11 31h1v1h-1zM18 31h1v1h-1zM20 31h1v1h-1zM22 31h2v1h-2zM29 31h1v1h-1zM33 31h1v1h-1zM38 31h1v1h-1zM75 31h1v1h-1zM82 31h1v1h-1zM85 31h1v1h-1zM93 31h1v1h-1zM95 31h1v1h-1zM106 31h1v1h-1zM109 31h1v1h-1zM112 31h1v1h-1zM115 31h1v1h-1zM122 31h1v1h-1zM135 31h1v1h-1zM154 31h1v1h-1zM158 31h1v1h-1zM29 32h1v1h-1zM45 32h1v1h-1zM50 32h1v1h-1zM59 32h1v1h-1zM70 32h1v1h-1zM79 32h1v1h-1zM91 32h1v1h-1zM94 32h1v1h-1zM123 32h2v1h-2zM126 32h1v1h-1zM128 32h1v1h-1zM132 32h1v1h-1zM138 32h1v1h-1zM140 32h1v1h-1zM142 32h1v1h-1zM145 32h2v1h-2zM152 32h1v1h-1zM155 32h1v1h-1zM158 32h1v1h-1zM166 32h2v1h-2zM19 33h1v1h-1zM26 33h1v1h-1zM36 33h1v1h-1zM43 33h1v1h-1zM46 33h1v1h-1zM53 33h1v1h-1zM74 33h1v1h-1zM124 33h1v1h-1zM138 33h1v1h-1zM146 33h1v1h-1zM164 33h1v1h-1zM168 33h2v1h-2zM177 33h1v1h-1zM3 34h1v1h-1zM12 34h1v1h-1zM24 34h1v1h-1zM26 34h1v1h-1zM53 34h1v1h-1zM58 34h1v1h-1zM60 34h1v1h-1zM67 34h1v1h-1zM125 34h1v1h-1zM130 34h1v1h-1zM146 34h1v1h-1zM150 34h1v1h-1zM152 34h2v1h-2zM169 34h1v1h-1zM176 34h1v1h-1zM16 35h1v1h-1zM23 35h1v1h-1zM25 35h1v1h-1zM27 35h1v1h-1zM30 35h1v1h-1zM37 35h1v1h-1zM39 35h1v1h-1zM42 35h3v1h-3zM61 35h1v1h-1zM67 35h1v1h-1zM75 35h1v1h-1zM102 35h1v1h-1zM124 35h1v1h-1zM129 35h1v1h-1zM138 35h1v1h-1zM140 35h1v1h-1zM144 35h2v1h-2zM169 35h1v1h-1zM23 36h1v1h-1zM25 36h1v1h-1zM42 36h1v1h-1zM46 36h1v1h-1zM49 36h1v1h-1zM52 36h1v1h-1zM66 36h1v1h-1zM123 36h1v1h-1zM125 36h1v1h-1zM137 36h1v1h-1zM141 36h1v1h-1zM145 36h1v1h-1zM147 36h1v1h-1zM159 36h1v1h-1zM165 36h1v1h-1zM12 37h2v1h-2zM18 37h1v1h-1zM23 37h2v1h-2zM34 37h1v1h-1zM36 37h1v1h-1zM44 37h1v1h-1zM58 37h2v1h-2zM65 37h1v1h-1zM80 37h1v1h-1zM114 37h1v1h-1zM131 37h2v1h-2zM135 37h2v1h-2zM138 37h1v1h-1zM150 37h1v1h-1zM152 37h1v1h-1zM30 38h1v1h-1zM36 38h1v1h-1zM39 38h1v1h-1zM42 38h1v1h-1zM45 38h1v1h-1zM60 38h2v1h-2zM63 38h1v1h-1zM66 38h1v1h-1zM81 38h1v1h-1zM124 38h1v1h-1zM145 38h1v1h-1zM39 39h1v1h-1zM52 39h1v1h-1zM69 39h1v1h-1zM93 39h1v1h-1zM101 39h1v1h-1zM120 39h1v1h-1zM134 39h1v1h-1zM149 39h1v1h-1zM169 39h1v1h-1zM171 39h1v1h-1zM176 39h1v1h-1zM16 40h1v1h-1zM23 40h1v1h-1zM38 40h1v1h-1zM46 40h1v1h-1zM51 40h1v1h-1zM68 40h1v1h-1zM71 40h1v1h-1zM140 40h1v1h-1zM144 40h1v1h-1zM164 40h1v1h-1zM177 40h1v1h-1zM15 41h1v1h-1zM20 41h1v1h-1zM26 41h1v1h-1zM28 41h1v1h-1zM30 41h1v1h-1zM36 41h1v1h-1zM39 41h1v1h-1zM45 41h1v1h-1zM58 41h1v1h-1zM60 41h1v1h-1zM84 41h1v1h-1zM133 41h1v1h-1zM143 41h1v1h-1zM150 41h1v1h-1zM153 41h1v1h-1zM174 41h2v1h-2zM3 42h1v1h-1zM14 42h1v1h-1zM16 42h1v1h-1zM20 42h1v1h-1zM40 42h1v1h-1zM42 42h1v1h-1zM46 42h1v1h-1zM48 42h1v1h-1zM64 42h1v1h-1zM70 42h1v1h-1zM91 42h1v1h-1zM121 42h1v1h-1zM127 42h1v1h-1zM155 42h1v1h-1zM169 42h1v1h-1zM172 42h1v1h-1zM174 42h2v1h-2zM15 43h2v1h-2zM51 43h2v1h-2zM54 43h1v1h-1zM72 43h1v1h-1zM77 43h1v1h-1zM140 43h1v1h-1zM168 43h1v1h-1zM12 44h1v1h-1zM28 44h1v1h-1zM53 44h1v1h-1zM55 44h1v1h-1zM62 44h1v1h-1zM68 44h1v1h-1zM91 44h1v1h-1zM106 44h1v1h-1zM120 44h1v1h-1zM126 44h1v1h-1zM134 44h1v1h-1zM149 44h1v1h-1zM173 44h1v1h-1zM11 45h1v1h-1zM43 45h2v1h-2zM55 45h1v1h-1zM62 45h1v1h-1zM64 45h1v1h-1zM70 45h1v1h-1zM111 45h1v1h-1zM139 45h1v1h-1zM143 45h1v1h-1zM156 45h1v1h-1zM160 45h1v1h-1zM174 45h1v1h-1zM33 46h1v1h-1zM46 46h1v1h-1zM52 46h1v1h-1zM65 46h1v1h-1zM70 46h2v1h-2zM87 46h1v1h-1zM100 46h1v1h-1zM118 46h1v1h-1zM123 46h1v1h-1zM129 46h1v1h-1zM132 46h1v1h-1zM149 46h1v1h-1zM19 47h1v1h-1zM36 47h1v1h-1zM44 47h1v1h-1zM59 47h1v1h-1zM63 47h1v1h-1zM65 47h1v1h-1zM87 47h1v1h-1zM110 47h1v1h-1zM112 47h1v1h-1zM130 47h1v1h-1zM155 47h1v1h-1zM169 47h1v1h-1zM15 48h1v1h-1zM19 48h1v1h-1zM32 48h1v1h-1zM35 48h1v1h-1zM129 48h1v1h-1zM134 48h1v1h-1zM142 48h1v1h-1zM151 48h1v1h-1zM174 48h1v1h-1zM6 49h1v1h-1zM24 49h1v1h-1zM29 49h1v1h-1zM47 49h1v1h-1zM52 49h1v1h-1zM54 49h1v1h-1zM58 49h1v1h-1zM71 49h1v1h-1zM84 49h2v1h-2zM87 49h1v1h-1zM132 49h1v1h-1zM136 49h1v1h-1zM161 49h1v1h-1zM174 49h1v1h-1z"/>
<path fill="#aad1e6" d="M1 0h1v1h-1zM52 0h1v1h-1zM57 0h1v1h-1zM72 0h1v1h-1zM84 0h1v1h-1zM99 0h1v1h-1zM128 0h1v1h-1zM137 0h1v1h-1zM143 0h1v1h-1zM167 0h1v1h-1zM67 1h1v1h-1zM72 1h1v1h-1zM86 1h1v1h-1zM90 1h1v1h-1zM92 1h1v1h-1zM103 1h1v1h-1zM114 1h1v1h-1zM116 1h1v1h-1zM118 1h1v1h-1zM134 1h1v1h-1zM168 1h1v1h-1zM171 1h2v1h-2zM19 2h1v1h-1zM22 2h1v1h-1zM53 2h3v1h-3zM71 2h1v1h-1zM82 2h1v1h-1zM91 2h1v1h-1zM94 2h1v1h-1zM97 2h1v1h-1zM113 2h1v1h-1zM115 2h1v1h-1zM127 2h1v1h-1zM146 2h1v1h-1zM155 2h1v1h-1zM174 2h1v1h-1zM26 3h1v1h-1zM42 3h1v1h-1zM53 3h1v1h-1zM71 3h1v1h-1zM108 3h1v1h-1zM119 3h1v1h-1zM158 3h1v1h-1zM28 4h1v1h-1zM32 4h2v1h-2zM39 4h1v1h-1zM57 4h1v1h-1zM62 4h1v1h-1zM94 4h1v1h-1zM102 4h1v1h-1zM109 4h1v1h-1zM113 4h1v1h-1zM133 4h1v1h-1zM139 4h1v1h-1zM149 4h1v1h-1zM27 5h2v1h-2zM30 5h2v1h-2zM46 5h1v1h-1zM51 5h1v1h-1zM70 5h2v1h-2zM97 5h1v1h-1zM103 5h2v1h-2zM136 5h1v1h-1zM143 5h1v1h-1zM159 5h1v1h-1zM165 5h1v1h-1zM171 5h1v1h-1zM7 6h2v1h-2zM10 6h1v1h-1zM30 6h1v1h-1zM38 6h1v1h-1zM44 6h1v1h-1zM74 6h1v1h-1zM82 6h1v1h-1zM110 6h1v1h-1zM130 6h1v1h-1zM138 6h1v1h-1zM141 6h1v1h-1zM145 6h1v1h-1zM147 6h1v1h-1zM11 7h1v1h-1zM45 7h1v1h-1zM60 7h1v1h-1zM83 7h1v1h-1zM100 7h1v1h-1zM112 7h1v1h-1zM151 7h1v1h-1zM157 7h1v1h-1zM177 7h1v1h-1zM69 8h1v1h-1zM86 8h1v1h-1zM106 8h1v1h-1zM117 8h1v1h-1zM134 8h1v1h-1zM146 8h1v1h-1zM161 8h1v1h-1zM3 9h1v1h-1zM6 9h1v1h-1zM32 9h1v1h-1zM58 9h1v1h-1zM63 9h1v1h-1zM85 9h1v1h-1zM91 9h1v1h-1zM130 9h2v1h-2zM138 9h1v1h-1zM159 9h2v1h-2zM163 9h2v1h-2zM2 10h2v1h-2zM109 10h1v1h-1zM111 10h1v1h-1zM119 10h1v1h-1zM129 10h1v1h-1zM10 11h1v1h-1zM19 11h1v1h-1zM25 11h1v1h-1zM38 11h1v1h-1zM59 11h1v1h-1zM64 11h1v1h-1zM71 11h1v1h-1zM115 11h1v1h-1zM119 11h1v1h-1zM151 11h1v1h-1zM169 11h1v1h-1zM172 11h2v1h-2zM175 11h2v1h-2zM13 12h1v1h-1zM31 12h1v1h-1zM58 12h1v1h-1zM60 12h1v1h-1zM71 12h1v1h-1zM96 12h1v1h-1zM124 12h2v1h-2zM177 12h1v1h-1zM7 13h1v1h-1zM21 13h1v1h-1zM24 13h2v1h-2zM29 13h1v1h-1zM115 13h1v1h-1zM122 13h1v1h-1zM125 13h1v1h-1zM128 13h1v1h-1zM140 13h1v1h-1zM158 13h1v1h-1zM176 13h1v1h-1zM17 14h1v1h-1zM19 14h1v1h-1zM24 14h1v1h-1zM31 14h1v1h-1zM55 14h1v1h-1zM59 14h1v1h-1zM61 14h2v1h-2zM129 14h2v1h-2zM145 14h1v1h-1zM154 14h1v1h-1zM163 14h1v1h-1zM5 15h1v1h-1zM16 15h1v1h-1zM18 15h1v1h-1zM21 15h1v1h-1zM29 15h1v1h-1zM46 15h2v1h-2zM68 15h1v1h-1zM71 15h1v1h-1zM86 15h1v1h-1zM144 15h1v1h-1zM20 16h1v1h-1zM74 16h1v1h-1zM104 16h1v1h-1zM111 16h1v1h-1zM121 16h1v1h-1zM141 16h1v1h-1zM153 16h1v1h-1zM158 16h1v1h-1zM163 16h1v1h-1zM174 16h1v1h-1zM0 17h1v1h-1zM12 17h1v1h-1zM54 17h1v1h-1zM60 17h2v1h-2zM74 17h1v1h-1zM77 17h2v1h-2zM82 17h1v1h-1zM108 17h1v1h-1zM111 17h1v1h-1zM115 17h1v1h-1zM123 17h1v1h-1zM135 17h1v1h-1zM152 17h1v1h-1zM162 17h1v1h-1zM70 18h1v1h-1zM99 18h1v1h-1zM101 18h1v1h-1zM107 18h2v1h-2zM110 18h1v1h-1zM120 18h2v1h-2zM135 18h1v1h-1zM141 18h1v1h-1zM155 18h2v1h-2zM166 18h1v1h-1zM175 18h1v1h-1zM4 19h1v1h-1zM13 19h1v1h-1zM19 19h1v1h-1zM49 19h1v1h-1zM72 19h2v1h-2zM78 19h2v1h-2zM91 19h2v1h-2zM112 19h1v1h-1zM116 19h1v1h-1zM126 19h1v1h-1zM129 19h1v1h-1zM136 19h1v1h-1zM141 19h1v1h-1zM145 19h1v1h-1zM157 19h1v1h-1zM170 19h1v1h-1zM173 19h1v1h-1zM6 20h1v1h-1zM20 20h1v1h-1zM33 20h1v1h-1zM39 20h1v1h-1zM65 20h1v1h-1zM67 20h1v1h-1zM76 20h1v1h-1zM79 20h1v1h-1zM95 20h1v1h-1zM98 20h1v1h-1zM105 20h1v1h-1zM136 20h1v1h-1zM154 20h1v1h-1zM161 20h1v1h-1zM166 20h1v1h-1zM169 20h1v1h-1zM18 21h1v1h-1zM33 21h1v1h-1zM35 21h1v1h-1zM60 21h1v1h-1zM66 21h1v1h-1zM74 21h1v1h-1zM77 21h1v1h-1zM82 21h2v1h-2zM103 21h1v1h-1zM105 21h1v1h-1zM108 21h1v1h-1zM124 21h1v1h-1zM139 21h1v1h-1zM143 21h1v1h-1zM154 21h1v1h-1zM160 21h1v1h-1zM176 21h2v1h-2zM4 22h1v1h-1zM61 22h1v1h-1zM71 22h1v1h-1zM83 22h1v1h-1zM94 22h1v1h-1zM97 22h1v1h-1zM102 22h1v1h-1zM113 22h1v1h-1zM139 22h1v1h-1zM150 22h1v1h-1zM161 22h1v1h-1zM175 22h1v1h-1zM6 23h1v1h-1zM35 23h1v1h-1zM58 23h1v1h-1zM62 23h1v1h-1zM64 23h2v1h-2zM97 23h1v1h-1zM113 23h1v1h-1zM124 23h1v1h-1zM126 23h1v1h-1zM132 23h1v1h-1zM134 23h2v1h-2zM139 23h1v1h-1zM141 23h4v1h-4zM152 23h1v1h-1zM158 23h1v1h-1zM164 23h1v1h-1zM168 23h1v1h-1zM176 23h1v1h-1zM6 24h1v1h-1zM67 24h1v1h-1zM76 24h1v1h-1zM81 24h1v1h-1zM83 24h1v1h-1zM89 24h1v1h-1zM115 24h1v1h-1zM121 24h2v1h-2zM127 24h1v1h-1zM142 24h1v1h-1zM147 24h2v1h-2zM152 24h1v1h-1zM160 24h1v1h-1zM165 24h1v1h-1zM174 24h1v1h-1zM11 25h1v1h-1zM26 25h1v1h-1zM37 25h1v1h-1zM42 25h1v1h-1zM52 25h1v1h-1zM80 25h1v1h-1zM97 25h1v1h-1zM101 25h1v1h-1zM11 26h1v1h-1zM22 26h1v1h-1zM34 26h1v1h-1zM36 26h1v1h-1zM45 26h1v1h-1zM58 26h1v1h-1zM72 26h1v1h-1zM82 26h2v1h-2zM92 26h1v1h-1zM95 26h1v1h-1zM99 26h1v1h-1zM109 26h1v1h-1zM113 26h1v1h-1zM115 26h1v1h-1zM124 26h1v1h-1zM158 26h1v1h-1zM2 27h1v1h-1zM22 27h1v1h-1zM29 27h1v1h-1zM31 27h1v1h-1zM34 27h1v1h-1zM42 27h1v1h-1zM48 27h1v1h-1zM54 27h1v1h-1zM58 27h1v1h-1zM72 27h1v1h-1zM74 27h1v1h-1zM96 27h2v1h-2zM123 27h1v1h-1zM126 27h1v1h-1zM132 27h1v1h-1zM135 27h1v1h-1zM18 28h1v1h-1zM41 28h1v1h-1zM43 28h1v1h-1zM57 28h1v1h-1zM59 28h1v1h-1zM64 28h1v1h-1zM109 28h1v1h-1zM114 28h1v1h-1zM127 28h2v1h-2zM131 28h1v1h-1zM146 28h1v1h-1zM148 28h1v1h-1zM168 28h1v1h-1zM171 28h1v1h-1zM13 29h1v1h-1zM35 29h1v1h-1zM83 29h1v1h-1zM93 29h1v1h-1zM100 29h1v1h-1zM131 29h1v1h-1zM162 29h1v1h-1zM171 29h1v1h-1zM11 30h1v1h-1zM13 30h1v1h-1zM24 30h1v1h-1zM28 30h1v1h-1zM59 30h1v1h-1zM88 30h1v1h-1zM105 30h1v1h-1zM107 30h1v1h-1zM110 30h1v1h-1zM121 30h1v1h-1zM126 30h1v1h-1zM143 30h1v1h-1zM157 30h1v1h-1zM171 30h1v1h-1zM173 30h1v1h-1zM2 31h1v1h-1zM7 31h1v1h-1zM28 31h1v1h-1zM30 31h2v1h-2zM39 31h1v1h-1zM48 31h1v1h-1zM52 31h1v1h-1zM57 31h1v1h-1zM101 31h1v1h-1zM104 31h1v1h-1zM134 31h1v1h-1zM176 31h2v1h-2zM9 32h2v1h-2zM14 32h1v1h-1zM38 32h1v1h-1zM62 32h1v1h-1zM86 32h1v1h-1zM135 32h1v1h-1zM151 32h1v1h-1zM154 32h1v1h-1zM156 32h1v1h-1zM162 32h1v1h-1zM171 32h2v1h-2zM175 32h1v1h-1zM2 33h1v1h-1zM7 33h1v1h-1zM9 33h1v1h-1zM11 33h1v1h-1zM21 33h2v1h-2zM40 33h1v1h-1zM47 33h1v1h-1zM73 33h1v1h-1zM91 33h1v1h-1zM121 33h1v1h-1zM133 33h1v1h-1zM140 33h3v1h-3zM151 33h1v1h-1zM153 33h1v1h-1zM155 33h3v1h-3zM160 33h1v1h-1zM162 33h1v1h-1zM170 33h1v1h-1zM10 34h1v1h-1zM19 34h1v1h-1zM25 34h1v1h-1zM30 34h1v1h-1zM43 34h1v1h-1zM50 34h2v1h-2zM71 34h1v1h-1zM121 34h2v1h-2zM124 34h1v1h-1zM140 34h1v1h-1zM156 34h1v1h-1zM9 35h1v1h-1zM13 35h1v1h-1zM15 35h1v1h-1zM19 35h1v1h-1zM41 35h1v1h-1zM66 35h1v1h-1zM78 35h1v1h-1zM97 35h1v1h-1zM107 35h1v1h-1zM112 35h1v1h-1zM120 35h1v1h-1zM128 35h1v1h-1zM135 35h1v1h-1zM139 35h1v1h-1zM167 35h1v1h-1zM0 36h1v1h-1zM2 36h1v1h-1zM4 36h1v1h-1zM37 36h1v1h-1zM51 36h1v1h-1zM56 36h1v1h-1zM59 36h1v1h-1zM109 36h1v1h-1zM124 36h1v1h-1zM127 36h1v1h-1zM130 36h1v1h-1zM19 37h2v1h-2zM30 37h1v1h-1zM33 37h1v1h-1zM35 37h1v1h-1zM40 37h1v1h-1zM46 37h1v1h-1zM63 37h1v1h-1zM78 37h1v1h-1zM82 37h1v1h-1zM92 37h1v1h-1zM94 37h2v1h-2zM116 37h1v1h-1zM118 37h1v1h-1zM122 37h2v1h-2zM127 37h1v1h-1zM139 37h1v1h-1zM154 37h2v1h-2zM157 37h1v1h-1zM7 38h1v1h-1zM15 38h1v1h-1zM18 38h1v1h-1zM25 38h1v1h-1zM34 38h1v1h-1zM71 38h2v1h-2zM80 38h1v1h-1zM108 38h1v1h-1zM119 38h1v1h-1zM138 38h1v1h-1zM160 38h1v1h-1zM163 38h1v1h-1zM0 39h3v1h-3zM4 39h1v1h-1zM22 39h1v1h-1zM41 39h1v1h-1zM43 39h1v1h-1zM55 39h1v1h-1zM64 39h1v1h-1zM75 39h1v1h-1zM79 39h1v1h-1zM81 39h1v1h-1zM83 39h1v1h-1zM130 39h1v1h-1zM158 39h1v1h-1zM168 39h1v1h-1zM173 39h1v1h-1zM9 40h1v1h-1zM56 40h2v1h-2zM76 40h2v1h-2zM146 40h1v1h-1zM153 40h1v1h-1zM156 40h1v1h-1zM162 40h1v1h-1zM168 40h1v1h-1zM12 41h1v1h-1zM29 41h1v1h-1zM35 41h1v1h-1zM51 41h1v1h-1zM56 41h1v1h-1zM75 41h1v1h-1zM79 41h1v1h-1zM82 41h1v1h-1zM87 41h1v1h-1zM119 41h2v1h-2zM129 41h1v1h-1zM154 41h1v1h-1zM168 41h1v1h-1zM2 42h1v1h-1zM29 42h1v1h-1zM39 42h1v1h-1zM41 42h1v1h-1zM53 42h1v1h-1zM58 42h1v1h-1zM63 42h1v1h-1zM71 42h1v1h-1zM78 42h1v1h-1zM93 42h1v1h-1zM110 42h1v1h-1zM120 42h1v1h-1zM128 42h1v1h-1zM139 42h1v1h-1zM21 43h1v1h-1zM36 43h1v1h-1zM39 43h1v1h-1zM84 43h1v1h-1zM98 43h1v1h-1zM118 43h1v1h-1zM126 43h1v1h-1zM128 43h1v1h-1zM135 43h1v1h-1zM148 43h1v1h-1zM162 43h1v1h-1zM164 43h1v1h-1zM47 44h1v1h-1zM84 44h1v1h-1zM92 44h1v1h-1zM117 44h1v1h-1zM138 44h1v1h-1zM140 44h1v1h-1zM150 44h1v1h-1zM154 44h1v1h-1zM164 44h2v1h-2zM169 44h1v1h-1zM15 45h1v1h-1zM49 45h1v1h-1zM72 45h1v1h-1zM109 45h1v1h-1zM122 45h1v1h-1zM146 45h1v1h-1zM148 45h2v1h-2zM153 45h2v1h-2zM169 45h1v1h-1zM172 45h1v1h-1zM177 45h1v1h-1zM8 46h1v1h-1zM54 46h1v1h-1zM69 46h1v1h-1zM78 46h1v1h-1zM92 46h1v1h-1zM99 46h1v1h-1zM115 46h1v1h-1zM135 46h1v1h-1zM139 46h1v1h-1zM143 46h1v1h-1zM148 46h1v1h-1zM169 46h1v1h-1zM173 46h2v1h-2zM8 47h1v1h-1zM13 47h1v1h-1zM39 47h1v1h-1zM48 47h1v1h-1zM90 47h1v1h-1zM92 47h1v1h-1zM135 47h1v1h-1zM154 47h1v1h-1zM156 47h1v1h-1zM160 47h1v1h-1zM173 47h1v1h-1zM1 48h1v1h-1zM5 48h2v1h-2zM11 48h1v1h-1zM16 48h1v1h-1zM24 48h1v1h-1zM29 48h1v1h-1zM59 48h1v1h-1zM79 48h1v1h-1zM89 48h1v1h-1zM103 48h1v1h-1zM105 48h1v1h-1zM130 48h1v1h-1zM137 48h1v1h-1zM163 48h1v1h-1zM173 48h1v1h-1zM20 49h1v1h-1zM25 49h1v1h-1zM30 49h1v1h-1zM64 49h1v1h-1zM68 49h1v1h-1zM100 49h1v1h-1zM106 49h1v1h-1zM127 49h1v1h-1zM150 49h1v1h-1zM169 49h1v1h-1z"/>
<path fill="#c4dfee" d="M48 0h1v1h-1zM51 0h1v1h-1zM55 0h1v1h-1zM79 0h1v1h-1zM93 0h1v1h-1zM105 0h1v1h-1zM118 0h1v1h-1zM146 0h1v1h-1zM170 0h1v1h-1zM174 0h1v1h-1zM53 1h1v1h-1zM59 1h1v1h-1zM74 1h1v1h-1zM93 1h1v1h-1zM95 1h1v1h-1zM101 1h1v1h-1zM110 1h1v1h-1zM117 1h1v1h-1zM128 1h1v1h-1zM137 1h1v1h-1zM139 1h1v1h-1zM143 1h1v1h-1zM152 1h1v1h-1zM7 2h1v1h-1zM49 2h1v1h-1zM60 2h1v1h-1zM70 2h1v1h-1zM73 2h1v1h-1zM81 2h1v1h-1zM141 2h1v1h-1zM31 3h3v1h-3zM43 3h2v1h-2zM49 3h1v1h-1zM68 3h1v1h-1zM83 3h1v1h-1zM105 3h1v1h-1zM122 3h1v1h-1zM127 3h1v1h-1zM137 3h1v1h-1zM140 3h1v1h-1zM146 3h1v1h-1zM151 3h1v1h-1zM160 3h1v1h-1zM176 3h1v1h-1zM14 4h1v1h-1zM23 4h1v1h-1zM40 4h1v1h-1zM45 4h1v1h-1zM50 4h1v1h-1zM63 4h1v1h-1zM69 4h1v1h-1zM103 4h1v1h-1zM105 4h1v1h-1zM116 4h2v1h-2zM128 4h2v1h-2zM143 4h1v1h-1zM153 4h2v1h-2zM156 4h1v1h-1zM158 4h1v1h-1zM168 4h1v1h-1zM11 5h1v1h-1zM21 5h1v1h-1zM36 5h1v1h-1zM41 5h1v1h-1zM59 5h1v1h-1zM74 5h1v1h-1zM80 5h1v1h-1zM88 5h3v1h-3zM92 5h1v1h-1zM100 5h1v1h-1zM131 5h1v1h-1zM145 5h1v1h-1zM150 5h1v1h-1zM168 5h1v1h-1zM174 5h1v1h-1zM19 6h1v1h-1zM24 6h1v1h-1zM33 6h1v1h-1zM36 6h1v1h-1zM45 6h1v1h-1zM71 6h1v1h-1zM94 6h1v1h-1zM132 6h1v1h-1zM134 6h1v1h-1zM143 6h1v1h-1zM150 6h1v1h-1zM159 6h1v1h-1zM171 6h1v1h-1zM21 7h1v1h-1zM36 7h1v1h-1zM127 7h1v1h-1zM148 7h1v1h-1zM166 7h1v1h-1zM11 8h1v1h-1zM14 8h1v1h-1zM152 8h1v1h-1zM156 8h1v1h-1zM0 9h1v1h-1zM9 9h1v1h-1zM13 9h1v1h-1zM46 9h2v1h-2zM69 9h1v1h-1zM95 9h1v1h-1zM123 9h1v1h-1zM135 9h1v1h-1zM140 9h1v1h-1zM147 9h1v1h-1zM151 9h1v1h-1zM161 9h1v1h-1zM165 9h1v1h-1zM13 10h1v1h-1zM24 10h1v1h-1zM31 10h1v1h-1zM52 10h1v1h-1zM65 10h1v1h-1zM67 10h1v1h-1zM84 10h1v1h-1zM167 10h1v1h-1zM1 11h1v1h-1zM18 11h1v1h-1zM28 11h1v1h-1zM40 11h1v1h-1zM49 11h1v1h-1zM61 11h1v1h-1zM91 11h1v1h-1zM105 11h1v1h-1zM140 11h1v1h-1zM149 11h1v1h-1zM154 11h1v1h-1zM161 11h1v1h-1zM171 11h1v1h-1zM17 12h2v1h-2zM28 12h1v1h-1zM67 12h1v1h-1zM69 12h1v1h-1zM89 12h1v1h-1zM123 12h1v1h-1zM149 12h1v1h-1zM153 12h1v1h-1zM0 13h1v1h-1zM51 13h1v1h-1zM114 13h1v1h-1zM119 13h1v1h-1zM123 13h1v1h-1zM143 13h1v1h-1zM166 13h1v1h-1zM169 13h1v1h-1zM52 14h1v1h-1zM98 14h1v1h-1zM123 14h1v1h-1zM126 14h2v1h-2zM143 14h1v1h-1zM155 14h1v1h-1zM171 14h1v1h-1zM40 15h1v1h-1zM45 15h1v1h-1zM76 15h1v1h-1zM125 15h1v1h-1zM129 15h1v1h-1zM139 15h1v1h-1zM160 15h1v1h-1zM170 15h1v1h-1zM12 16h1v1h-1zM14 16h1v1h-1zM66 16h1v1h-1zM78 16h1v1h-1zM92 16h2v1h-2zM95 16h1v1h-1zM97 16h1v1h-1zM107 16h1v1h-1zM112 16h1v1h-1zM115 16h1v1h-1zM129 16h1v1h-1zM146 16h1v1h-1zM169 16h1v1h-1zM5 17h1v1h-1zM34 17h1v1h-1zM92 17h2v1h-2zM105 17h1v1h-1zM110 17h1v1h-1zM124 17h1v1h-1zM149 17h1v1h-1zM158 17h1v1h-1zM167 17h1v1h-1zM2 18h1v1h-1zM12 18h1v1h-1zM54 18h1v1h-1zM61 18h1v1h-1zM74 18h1v1h-1zM92 18h1v1h-1zM111 18h1v1h-1zM127 18h1v1h-1zM142 18h1v1h-1zM47 19h1v1h-1zM65 19h1v1h-1zM77 19h1v1h-1zM80 19h1v1h-1zM82 19h1v1h-1zM90 19h1v1h-1zM109 19h1v1h-1zM137 19h1v1h-1zM163 19h2v1h-2zM175 19h1v1h-1zM5 20h1v1h-1zM12 20h1v1h-1zM16 20h1v1h-1zM46 20h1v1h-1zM48 20h1v1h-1zM52 20h1v1h-1zM56 20h1v1h-1zM73 20h1v1h-1zM97 20h1v1h-1zM99 20h1v1h-1zM158 20h1v1h-1zM4 21h1v1h-1zM50 21h1v1h-1zM67 21h1v1h-1zM88 21h1v1h-1zM96 21h1v1h-1zM1 22h1v1h-1zM6 22h1v1h-1zM39 22h1v1h-1zM47 22h1v1h-1zM53 22h1v1h-1zM57 22h1v1h-1zM60 22h1v1h-1zM63 22h1v1h-1zM66 22h2v1h-2zM106 22h1v1h-1zM120 22h1v1h-1zM129 22h1v1h-1zM140 22h1v1h-1zM151 22h1v1h-1zM55 23h1v1h-1zM81 23h1v1h-1zM98 23h1v1h-1zM123 23h1v1h-1zM125 23h1v1h-1zM131 23h1v1h-1zM140 23h1v1h-1zM148 23h1v1h-1zM150 23h1v1h-1zM161 23h1v1h-1zM163 23h1v1h-1zM2 24h1v1h-1zM7 24h1v1h-1zM48 24h1v1h-1zM52 24h1v1h-1zM61 24h1v1h-1zM70 24h1v1h-1zM79 24h1v1h-1zM99 24h1v1h-1zM131 24h1v1h-1zM141 24h1v1h-1zM161 24h1v1h-1zM168 24h1v1h-1zM40 25h1v1h-1zM48 25h1v1h-1zM59 25h1v1h-1zM62 25h1v1h-1zM73 25h1v1h-1zM77 25h2v1h-2zM114 25h1v1h-1zM4 26h1v1h-1zM52 26h1v1h-1zM170 26h1v1h-1zM174 26h1v1h-1zM176 26h1v1h-1zM16 27h2v1h-2zM35 27h1v1h-1zM37 27h1v1h-1zM45 27h1v1h-1zM51 27h1v1h-1zM57 27h1v1h-1zM65 27h1v1h-1zM87 27h1v1h-1zM94 27h1v1h-1zM111 27h1v1h-1zM124 27h1v1h-1zM150 27h1v1h-1zM170 27h1v1h-1zM3 28h1v1h-1zM101 28h2v1h-2zM107 28h1v1h-1zM116 28h2v1h-2zM0 29h1v1h-1zM21 29h2v1h-2zM32 29h1v1h-1zM36 29h1v1h-1zM46 29h1v1h-1zM64 29h1v1h-1zM71 29h1v1h-1zM97 29h1v1h-1zM112 29h1v1h-1zM115 29h2v1h-2zM134 29h1v1h-1zM157 29h1v1h-1zM163 29h1v1h-1zM167 29h1v1h-1zM173 29h1v1h-1zM12 30h1v1h-1zM25 30h1v1h-1zM37 30h1v1h-1zM44 30h1v1h-1zM68 30h1v1h-1zM77 30h2v1h-2zM93 30h2v1h-2zM99 30h1v1h-1zM122 30h1v1h-1zM134 30h1v1h-1zM177 30h1v1h-1zM10 31h1v1h-1zM12 31h1v1h-1zM19 31h1v1h-1zM66 31h1v1h-1zM81 31h1v1h-1zM88 31h1v1h-1zM91 31h1v1h-1zM100 31h1v1h-1zM126 31h1v1h-1zM156 31h1v1h-1zM163 31h1v1h-1zM44 32h1v1h-1zM49 32h1v1h-1zM56 32h1v1h-1zM121 32h1v1h-1zM125 32h1v1h-1zM165 32h1v1h-1zM168 32h1v1h-1zM18 33h1v1h-1zM29 33h1v1h-1zM34 33h1v1h-1zM59 33h1v1h-1zM66 33h1v1h-1zM77 33h1v1h-1zM163 33h1v1h-1zM27 34h1v1h-1zM41 34h1v1h-1zM59 34h1v1h-1zM65 34h1v1h-1zM84 34h1v1h-1zM148 34h1v1h-1zM22 35h1v1h-1zM50 35h2v1h-2zM59 35h1v1h-1zM64 35h1v1h-1zM72 35h1v1h-1zM86 35h1v1h-1zM95 35h1v1h-1zM101 35h1v1h-1zM148 35h1v1h-1zM174 35h1v1h-1zM177 35h1v1h-1zM9 36h1v1h-1zM11 36h1v1h-1zM24 36h1v1h-1zM30 36h1v1h-1zM33 36h1v1h-1zM64 36h1v1h-1zM70 36h1v1h-1zM78 36h1v1h-1zM110 36h1v1h-1zM112 36h1v1h-1zM154 36h1v1h-1zM176 36h1v1h-1zM6 37h1v1h-1zM17 37h1v1h-1zM48 37h2v1h-2zM60 37h1v1h-1zM67 37h1v1h-1zM97 37h1v1h-1zM126 37h1v1h-1zM144 37h1v1h-1zM146 37h1v1h-1zM151 37h1v1h-1zM153 37h1v1h-1zM158 37h2v1h-2zM164 37h2v1h-2zM172 37h1v1h-1zM1 38h2v1h-2zM8 38h1v1h-1zM26 38h1v1h-1zM40 38h2v1h-2zM62 38h1v1h-1zM65 38h1v1h-1zM100 38h1v1h-1zM136 38h1v1h-1zM158 38h1v1h-1zM168 38h1v1h-1zM12 39h1v1h-1zM15 39h1v1h-1zM38 39h1v1h-1zM51 39h1v1h-1zM53 39h1v1h-1zM122 39h1v1h-1zM125 39h1v1h-1zM136 39h1v1h-1zM141 39h1v1h-1zM144 39h1v1h-1zM17 40h1v1h-1zM30 40h1v1h-1zM32 40h1v1h-1zM35 40h1v1h-1zM43 40h2v1h-2zM74 40h1v1h-1zM103 40h1v1h-1zM147 40h1v1h-1zM0 41h1v1h-1zM40 41h1v1h-1zM53 41h1v1h-1zM64 41h1v1h-1zM83 41h1v1h-1zM93 41h1v1h-1zM95 41h1v1h-1zM101 41h1v1h-1zM118 41h1v1h-1zM141 41h1v1h-1zM147 41h1v1h-1zM157 41h1v1h-1zM167 41h1v1h-1zM170 41h1v1h-1zM172 41h1v1h-1zM176 41h1v1h-1zM0 42h1v1h-1zM7 42h1v1h-1zM45 42h1v1h-1zM47 42h1v1h-1zM52 42h1v1h-1zM62 42h1v1h-1zM68 42h1v1h-1zM118 42h1v1h-1zM123 42h1v1h-1zM132 42h1v1h-1zM42 43h1v1h-1zM58 43h1v1h-1zM65 43h1v1h-1zM91 43h1v1h-1zM110 43h1v1h-1zM122 43h1v1h-1zM141 43h1v1h-1zM3 44h1v1h-1zM11 44h1v1h-1zM15 44h1v1h-1zM59 44h1v1h-1zM64 44h1v1h-1zM75 44h1v1h-1zM85 44h1v1h-1zM123 44h1v1h-1zM129 44h1v1h-1zM148 44h1v1h-1zM152 44h1v1h-1zM160 44h1v1h-1zM163 44h1v1h-1zM38 45h1v1h-1zM51 45h1v1h-1zM68 45h1v1h-1zM78 45h1v1h-1zM84 45h1v1h-1zM87 45h2v1h-2zM91 45h1v1h-1zM97 45h1v1h-1zM124 45h1v1h-1zM130 45h1v1h-1zM132 45h2v1h-2zM147 45h1v1h-1zM157 45h1v1h-1zM165 45h3v1h-3zM173 45h1v1h-1zM42 46h1v1h-1zM50 46h1v1h-1zM57 46h2v1h-2zM64 46h1v1h-1zM90 46h1v1h-1zM153 46h1v1h-1zM160 46h1v1h-1zM177 46h1v1h-1zM47 47h1v1h-1zM68 47h2v1h-2zM78 47h1v1h-1zM94 47h1v1h-1zM106 47h1v1h-1zM125 47h1v1h-1zM136 47h1v1h-1zM153 47h1v1h-1zM172 47h1v1h-1zM27 48h1v1h-1zM34 48h1v1h-1zM46 48h1v1h-1zM58 48h1v1h-1zM60 48h1v1h-1zM74 48h1v1h-1zM81 48h1v1h-1zM83 48h1v1h-1zM86 48h1v1h-1zM88 48h1v1h-1zM111 48h1v1h-1zM114 48h1v1h-1zM122 48h1v1h-1zM132 48h1v1h-1zM143 48h1v1h-1zM146 48h1v1h-1zM153 48h2v1h-2zM161 48h1v1h-1zM172 48h1v1h-1zM21 49h1v1h-1zM45 49h1v1h-1zM63 49h1v1h-1zM78 49h1v1h-1zM91 49h1v1h-1zM105 49h1v1h-1zM129 49h2v1h-2zM144 49h1v1h-1zM158 49h1v1h-1zM165 49h1v1h-1zM170 49h1v1h-1zM177 49h1v1h-1z"/>
<path fill="#dce8ee" d="M9 0h1v1h-1zM14 0h1v1h-1zM27 0h1v1h-1zM133 0h1v1h-1zM154 0h2v1h-2zM164 0h1v1h-1zM173 0h1v1h-1zM42 1h1v1h-1zM56 1h1v1h-1zM61 1h1v1h-1zM70 1h1v1h-1zM73 1h1v1h-1zM133 1h1v1h-1zM141 1h1v1h-1zM58 2h1v1h-1zM87 2h1v1h-1zM125 2h2v1h-2zM134 2h1v1h-1zM158 2h1v1h-1zM34 3h1v1h-1zM38 3h1v1h-1zM45 3h1v1h-1zM50 3h1v1h-1zM63 3h1v1h-1zM89 3h1v1h-1zM101 3h1v1h-1zM107 3h1v1h-1zM136 3h1v1h-1zM142 3h1v1h-1zM150 3h1v1h-1zM164 3h1v1h-1zM27 4h1v1h-1zM47 4h1v1h-1zM52 4h1v1h-1zM59 4h1v1h-1zM101 4h1v1h-1zM108 4h1v1h-1zM161 4h2v1h-2zM15 5h1v1h-1zM84 5h1v1h-1zM132 5h1v1h-1zM151 5h1v1h-1zM153 5h1v1h-1zM158 5h1v1h-1zM4 6h1v1h-1zM26 6h1v1h-1zM89 6h1v1h-1zM109 6h1v1h-1zM121 6h1v1h-1zM123 6h1v1h-1zM131 6h1v1h-1zM139 6h1v1h-1zM27 7h1v1h-1zM41 7h1v1h-1zM44 7h1v1h-1zM87 7h1v1h-1zM98 7h1v1h-1zM105 7h1v1h-1zM136 7h1v1h-1zM141 7h1v1h-1zM52 8h1v1h-1zM112 8h1v1h-1zM130 8h1v1h-1zM135 8h1v1h-1zM139 8h1v1h-1zM40 9h1v1h-1zM136 9h1v1h-1zM142 9h1v1h-1zM166 9h1v1h-1zM20 10h1v1h-1zM23 10h1v1h-1zM69 10h1v1h-1zM125 10h1v1h-1zM136 10h2v1h-2zM146 10h1v1h-1zM177 10h1v1h-1zM22 11h1v1h-1zM57 11h1v1h-1zM125 11h2v1h-2zM142 11h1v1h-1zM170 11h1v1h-1zM177 11h1v1h-1zM7 12h1v1h-1zM37 12h1v1h-1zM56 12h1v1h-1zM61 12h1v1h-1zM81 12h1v1h-1zM104 12h1v1h-1zM106 12h1v1h-1zM168 12h1v1h-1zM17 13h1v1h-1zM26 13h1v1h-1zM45 13h2v1h-2zM50 13h1v1h-1zM68 13h1v1h-1zM72 13h1v1h-1zM74 13h1v1h-1zM96 13h1v1h-1zM104 13h1v1h-1zM121 13h1v1h-1zM129 13h1v1h-1zM138 13h1v1h-1zM146 13h1v1h-1zM152 13h1v1h-1zM174 13h1v1h-1zM13 14h1v1h-1zM15 14h1v1h-1zM36 14h1v1h-1zM38 14h2v1h-2zM42 14h1v1h-1zM64 14h1v1h-1zM159 14h1v1h-1zM166 14h1v1h-1zM41 15h1v1h-1zM60 15h1v1h-1zM105 15h1v1h-1zM119 15h2v1h-2zM127 15h1v1h-1zM131 15h1v1h-1zM135 15h1v1h-1zM157 15h1v1h-1zM176 15h1v1h-1zM52 16h1v1h-1zM68 16h1v1h-1zM113 16h1v1h-1zM125 16h1v1h-1zM130 16h1v1h-1zM156 16h2v1h-2zM52 17h1v1h-1zM76 17h1v1h-1zM104 17h1v1h-1zM107 17h1v1h-1zM129 17h1v1h-1zM140 17h1v1h-1zM153 17h1v1h-1zM169 17h1v1h-1zM87 18h1v1h-1zM106 18h1v1h-1zM132 18h1v1h-1zM149 18h1v1h-1zM160 18h1v1h-1zM55 19h1v1h-1zM76 19h1v1h-1zM87 19h2v1h-2zM111 19h1v1h-1zM113 19h1v1h-1zM153 19h1v1h-1zM11 20h1v1h-1zM28 20h1v1h-1zM43 20h1v1h-1zM50 20h2v1h-2zM66 20h1v1h-1zM75 20h1v1h-1zM159 20h1v1h-1zM163 20h1v1h-1zM176 20h1v1h-1zM72 21h1v1h-1zM94 21h1v1h-1zM116 21h1v1h-1zM134 21h1v1h-1zM168 21h1v1h-1zM171 21h1v1h-1zM21 22h1v1h-1zM70 22h1v1h-1zM80 22h1v1h-1zM90 22h1v1h-1zM96 22h1v1h-1zM100 22h1v1h-1zM108 22h1v1h-1zM125 22h1v1h-1zM159 22h2v1h-2zM9 23h1v1h-1zM33 23h1v1h-1zM51 23h1v1h-1zM88 23h1v1h-1zM120 23h1v1h-1zM146 23h1v1h-1zM166 23h1v1h-1zM173 23h1v1h-1zM14 24h1v1h-1zM50 24h1v1h-1zM53 24h1v1h-1zM59 24h1v1h-1zM75 24h1v1h-1zM123 24h1v1h-1zM138 24h1v1h-1zM166 24h1v1h-1zM173 24h1v1h-1zM41 25h1v1h-1zM56 25h2v1h-2zM67 25h1v1h-1zM86 25h2v1h-2zM103 25h1v1h-1zM106 25h1v1h-1zM110 25h1v1h-1zM115 25h2v1h-2zM3 26h1v1h-1zM8 26h1v1h-1zM15 26h1v1h-1zM28 26h1v1h-1zM32 26h1v1h-1zM54 26h1v1h-1zM60 26h1v1h-1zM71 26h1v1h-1zM97 26h1v1h-1zM123 26h1v1h-1zM8 27h1v1h-1zM14 27h1v1h-1zM20 27h1v1h-1zM33 27h1v1h-1zM36 27h1v1h-1zM60 27h1v1h-1zM68 27h1v1h-1zM84 27h1v1h-1zM93 27h1v1h-1zM98 27h1v1h-1zM103 27h1v1h-1zM156 27h1v1h-1zM169 27h1v1h-1zM11 28h1v1h-1zM19 28h1v1h-1zM32 28h1v1h-1zM104 28h1v1h-1zM108 28h1v1h-1zM158 28h1v1h-1zM2 29h1v1h-1zM37 29h1v1h-1zM52 29h1v1h-1zM78 29h1v1h-1zM102 29h1v1h-1zM120 29h1v1h-1zM133 29h1v1h-1zM149 29h1v1h-1zM0 30h1v1h-1zM21 30h1v1h-1zM47 30h1v1h-1zM49 30h1v1h-1zM51 30h1v1h-1zM58 30h1v1h-1zM64 30h1v1h-1zM100 30h1v1h-1zM114 30h1v1h-1zM128 30h1v1h-1zM155 30h1v1h-1zM169 30h1v1h-1zM41 31h1v1h-1zM58 31h1v1h-1zM111 31h1v1h-1zM168 31h1v1h-1zM171 31h1v1h-1zM27 32h1v1h-1zM34 32h1v1h-1zM48 32h1v1h-1zM58 32h1v1h-1zM65 32h2v1h-2zM68 32h1v1h-1zM83 32h1v1h-1zM88 32h1v1h-1zM160 32h1v1h-1zM177 32h1v1h-1zM44 33h1v1h-1zM60 33h1v1h-1zM69 33h1v1h-1zM94 33h1v1h-1zM161 33h1v1h-1zM171 33h1v1h-1zM1 34h2v1h-2zM8 34h1v1h-1zM33 34h1v1h-1zM64 34h1v1h-1zM68 34h1v1h-1zM70 34h1v1h-1zM77 34h1v1h-1zM91 34h1v1h-1zM123 34h1v1h-1zM132 34h1v1h-1zM137 34h1v1h-1zM155 34h1v1h-1zM177 34h1v1h-1zM18 35h1v1h-1zM20 35h1v1h-1zM45 35h1v1h-1zM63 35h1v1h-1zM69 35h1v1h-1zM81 35h2v1h-2zM94 35h1v1h-1zM116 35h1v1h-1zM159 35h1v1h-1zM165 35h2v1h-2zM170 35h1v1h-1zM41 36h1v1h-1zM55 36h1v1h-1zM82 36h1v1h-1zM116 36h1v1h-1zM121 36h1v1h-1zM131 36h1v1h-1zM151 36h1v1h-1zM173 36h1v1h-1zM8 37h1v1h-1zM15 37h1v1h-1zM27 37h2v1h-2zM64 37h1v1h-1zM85 37h1v1h-1zM88 37h1v1h-1zM148 37h1v1h-1zM0 38h1v1h-1zM14 38h1v1h-1zM86 38h2v1h-2zM96 38h1v1h-1zM113 38h1v1h-1zM121 38h1v1h-1zM134 38h1v1h-1zM154 38h1v1h-1zM157 38h1v1h-1zM166 38h1v1h-1zM170 38h1v1h-1zM45 39h1v1h-1zM57 39h2v1h-2zM73 39h2v1h-2zM87 39h1v1h-1zM133 39h1v1h-1zM147 39h1v1h-1zM155 39h1v1h-1zM1 40h1v1h-1zM47 40h1v1h-1zM118 40h1v1h-1zM143 40h1v1h-1zM78 41h1v1h-1zM127 41h1v1h-1zM138 41h1v1h-1zM163 41h1v1h-1zM18 42h1v1h-1zM34 42h1v1h-1zM38 42h1v1h-1zM98 42h1v1h-1zM43 43h1v1h-1zM53 43h1v1h-1zM64 43h1v1h-1zM113 43h1v1h-1zM124 43h2v1h-2zM151 43h1v1h-1zM18 44h1v1h-1zM114 44h1v1h-1zM125 44h1v1h-1zM155 44h1v1h-1zM174 44h1v1h-1zM18 45h1v1h-1zM67 45h1v1h-1zM99 45h1v1h-1zM110 45h1v1h-1zM128 45h1v1h-1zM134 45h1v1h-1zM168 45h1v1h-1zM176 45h1v1h-1zM49 46h1v1h-1zM73 46h1v1h-1zM84 46h1v1h-1zM110 46h1v1h-1zM112 46h1v1h-1zM119 46h1v1h-1zM127 46h1v1h-1zM130 46h1v1h-1zM142 46h1v1h-1zM159 46h1v1h-1zM42 47h1v1h-1zM58 47h1v1h-1zM75 47h1v1h-1zM81 47h1v1h-1zM113 47h1v1h-1zM115 47h1v1h-1zM146 47h2v1h-2zM150 47h1v1h-1zM36 48h1v1h-1zM43 48h1v1h-1zM45 48h1v1h-1zM55 48h1v1h-1zM95 48h2v1h-2zM112 48h1v1h-1zM168 48h1v1h-1zM171 48h1v1h-1zM53 49h1v1h-1zM70 49h1v1h-1zM79 49h1v1h-1zM83 49h1v1h-1zM134 49h1v1h-1zM139 49h1v1h-1zM143 49h1v1h-1zM153 49h1v1h-1zM171 49h1v1h-1z"/>
<path fill="#f4f1ef" d="M24 1h1v1h-1zM164 1h1v1h-1zM27 2h1v1h-1zM84 2h1v1h-1zM95 2h1v1h-1zM103 2h1v1h-1zM153 2h1v1h-1zM159 2h1v1h-1zM55 3h1v1h-1zM79 3h1v1h-1zM86 3h1v1h-1zM98 3h1v1h-1zM102 3h1v1h-1zM106 3h1v1h-1zM112 3h1v1h-1zM22 4h1v1h-1zM43 4h1v1h-1zM53 5h1v1h-1zM86 5h1v1h-1zM99 5h1v1h-1zM160 5h1v1h-1zM155 6h1v1h-1zM12 7h1v1h-1zM24 7h1v1h-1zM143 7h1v1h-1zM18 8h1v1h-1zM20 8h1v1h-1zM58 8h1v1h-1zM144 8h1v1h-1zM165 8h1v1h-1zM31 9h1v1h-1zM41 9h1v1h-1zM111 9h1v1h-1zM175 9h1v1h-1zM19 10h1v1h-1zM27 10h1v1h-1zM36 10h1v1h-1zM134 10h1v1h-1zM42 11h1v1h-1zM53 11h1v1h-1zM65 11h1v1h-1zM107 11h1v1h-1zM121 11h1v1h-1zM123 11h1v1h-1zM162 11h1v1h-1zM164 11h1v1h-1zM2 12h1v1h-1zM32 12h1v1h-1zM57 12h1v1h-1zM114 12h1v1h-1zM159 12h1v1h-1zM161 12h1v1h-1zM164 12h1v1h-1zM171 12h1v1h-1zM134 13h1v1h-1zM162 13h1v1h-1zM18 14h1v1h-1zM131 14h1v1h-1zM158 14h1v1h-1zM55 15h1v1h-1zM124 15h1v1h-1zM146 15h1v1h-1zM150 15h1v1h-1zM158 15h1v1h-1zM163 15h1v1h-1zM168 15h1v1h-1zM54 16h2v1h-2zM76 16h1v1h-1zM90 16h1v1h-1zM117 17h1v1h-1zM132 17h1v1h-1zM143 17h1v1h-1zM167 18h1v1h-1zM133 19h1v1h-1zM15 20h1v1h-1zM49 20h1v1h-1zM86 20h1v1h-1zM112 20h1v1h-1zM141 20h1v1h-1zM146 20h1v1h-1zM160 20h1v1h-1zM162 20h1v1h-1zM164 20h1v1h-1zM171 20h1v1h-1zM1 21h1v1h-1zM61 21h1v1h-1zM71 21h1v1h-1zM111 21h1v1h-1zM131 21h1v1h-1zM123 22h1v1h-1zM5 23h1v1h-1zM94 23h1v1h-1zM111 23h1v1h-1zM151 23h1v1h-1zM34 24h1v1h-1zM171 24h1v1h-1zM16 25h1v1h-1zM79 25h1v1h-1zM19 26h1v1h-1zM100 26h1v1h-1zM167 26h2v1h-2zM43 27h1v1h-1zM109 27h1v1h-1zM158 27h1v1h-1zM112 28h1v1h-1zM124 28h1v1h-1zM4 29h1v1h-1zM38 29h1v1h-1zM91 29h1v1h-1zM31 30h1v1h-1zM48 30h1v1h-1zM165 30h1v1h-1zM148 31h1v1h-1zM152 31h1v1h-1zM157 31h1v1h-1zM6 33h1v1h-1zM135 33h1v1h-1zM173 33h1v1h-1zM17 34h1v1h-1zM23 34h1v1h-1zM88 34h1v1h-1zM26 35h1v1h-1zM60 35h1v1h-1zM122 35h1v1h-1zM12 36h1v1h-1zM53 36h1v1h-1zM86 36h1v1h-1zM115 36h1v1h-1zM119 36h1v1h-1zM32 37h1v1h-1zM53 37h1v1h-1zM100 37h1v1h-1zM177 37h1v1h-1zM17 38h1v1h-1zM43 38h1v1h-1zM112 38h1v1h-1zM17 39h1v1h-1zM50 39h1v1h-1zM95 39h1v1h-1zM128 39h1v1h-1zM131 39h1v1h-1zM148 39h1v1h-1zM167 39h1v1h-1zM10 40h1v1h-1zM40 40h1v1h-1zM132 40h1v1h-1zM136 40h1v1h-1zM150 40h1v1h-1zM159 40h1v1h-1zM102 41h1v1h-1zM173 41h1v1h-1zM19 42h1v1h-1zM61 42h1v1h-1zM144 42h1v1h-1zM94 43h1v1h-1zM149 43h1v1h-1zM155 43h1v1h-1zM176 43h1v1h-1zM50 44h1v1h-1zM109 44h1v1h-1zM113 44h1v1h-1zM127 44h1v1h-1zM144 44h1v1h-1zM83 45h1v1h-1zM90 45h1v1h-1zM93 46h1v1h-1zM40 47h1v1h-1zM51 47h1v1h-1zM83 47h1v1h-1zM138 47h1v1h-1zM50 48h1v1h-1zM75 48h1v1h-1zM119 48h1v1h-1zM128 48h1v1h-1zM14 49h1v1h-1zM142 49h1v1h-1zM151 49h1v1h-1zM173 49h1v1h-1z"/>
<path fill="#f8e0d4" d="M4 0h1v1h-1zM19 0h1v1h-1zM35 0h1v1h-1zM47 0h1v1h-1zM53 0h1v1h-1zM58 0h1v1h-1zM67 0h1v1h-1zM83 0h1v1h-1zM101 0h1v1h-1zM111 0h1v1h-1zM123 0h1v1h-1zM125 0h1v1h-1zM159 0h1v1h-1zM161 0h1v1h-1zM35 1h1v1h-1zM83 1h1v1h-1zM89 1h1v1h-1zM124 1h1v1h-1zM140 1h1v1h-1zM148 1h1v1h-1zM158 1h1v1h-1zM59 2h1v1h-1zM92 2h1v1h-1zM102 2h1v1h-1zM116 2h1v1h-1zM139 2h1v1h-1zM147 2h1v1h-1zM154 2h1v1h-1zM164 2h2v1h-2zM172 2h1v1h-1zM176 2h1v1h-1zM7 3h1v1h-1zM29 3h1v1h-1zM52 3h1v1h-1zM118 3h1v1h-1zM156 3h1v1h-1zM162 3h1v1h-1zM18 4h1v1h-1zM41 4h1v1h-1zM55 4h1v1h-1zM65 4h1v1h-1zM70 4h1v1h-1zM119 4h1v1h-1zM63 5h1v1h-1zM79 5h1v1h-1zM101 5h1v1h-1zM108 5h1v1h-1zM123 5h1v1h-1zM138 5h1v1h-1zM170 5h1v1h-1zM1 6h1v1h-1zM43 6h1v1h-1zM72 6h1v1h-1zM77 6h2v1h-2zM80 6h1v1h-1zM90 6h1v1h-1zM135 6h1v1h-1zM148 6h1v1h-1zM151 6h1v1h-1zM161 6h1v1h-1zM166 6h1v1h-1zM13 7h1v1h-1zM16 7h1v1h-1zM38 7h1v1h-1zM55 7h1v1h-1zM58 7h1v1h-1zM65 7h1v1h-1zM81 7h1v1h-1zM85 7h1v1h-1zM107 7h1v1h-1zM119 7h1v1h-1zM126 7h1v1h-1zM129 7h1v1h-1zM132 7h1v1h-1zM160 7h1v1h-1zM162 7h1v1h-1zM176 7h1v1h-1zM122 8h1v1h-1zM138 8h1v1h-1zM177 8h1v1h-1zM8 9h1v1h-1zM21 9h1v1h-1zM60 9h1v1h-1zM70 9h1v1h-1zM82 9h1v1h-1zM114 9h1v1h-1zM126 9h1v1h-1zM172 9h1v1h-1zM176 9h1v1h-1zM83 10h1v1h-1zM96 10h1v1h-1zM139 10h1v1h-1zM161 10h1v1h-1zM3 11h2v1h-2zM24 11h1v1h-1zM36 11h2v1h-2zM41 11h1v1h-1zM55 11h1v1h-1zM145 11h1v1h-1zM0 12h2v1h-2zM24 12h1v1h-1zM44 12h1v1h-1zM76 12h1v1h-1zM82 12h1v1h-1zM13 13h1v1h-1zM16 13h1v1h-1zM30 13h1v1h-1zM33 13h1v1h-1zM53 13h1v1h-1zM97 13h1v1h-1zM159 13h1v1h-1zM161 13h1v1h-1zM168 13h1v1h-1zM0 14h1v1h-1zM33 14h1v1h-1zM51 14h1v1h-1zM67 14h1v1h-1zM73 14h1v1h-1zM108 14h1v1h-1zM124 14h1v1h-1zM142 14h1v1h-1zM144 14h1v1h-1zM149 14h1v1h-1zM152 14h1v1h-1zM14 15h1v1h-1zM19 15h1v1h-1zM30 15h2v1h-2zM121 15h1v1h-1zM126 15h1v1h-1zM172 15h2v1h-2zM17 16h1v1h-1zM53 16h1v1h-1zM59 16h1v1h-1zM62 16h1v1h-1zM118 16h1v1h-1zM126 16h1v1h-1zM143 16h1v1h-1zM166 16h1v1h-1zM6 17h1v1h-1zM50 17h1v1h-1zM67 17h1v1h-1zM72 17h1v1h-1zM98 17h1v1h-1zM114 17h1v1h-1zM138 17h2v1h-2zM142 17h1v1h-1zM172 17h1v1h-1zM63 18h1v1h-1zM68 18h1v1h-1zM93 18h1v1h-1zM131 18h1v1h-1zM133 18h1v1h-1zM153 18h2v1h-2zM176 18h1v1h-1zM14 19h1v1h-1zM54 19h1v1h-1zM94 19h1v1h-1zM105 19h2v1h-2zM121 19h1v1h-1zM139 19h1v1h-1zM0 20h1v1h-1zM18 20h1v1h-1zM55 20h1v1h-1zM104 20h1v1h-1zM108 20h1v1h-1zM168 20h1v1h-1zM177 20h1v1h-1zM6 21h1v1h-1zM15 21h1v1h-1zM65 21h1v1h-1zM70 21h1v1h-1zM75 21h1v1h-1zM90 21h1v1h-1zM93 21h1v1h-1zM100 21h1v1h-1zM106 21h1v1h-1zM125 21h1v1h-1zM135 21h2v1h-2zM140 21h1v1h-1zM164 21h1v1h-1zM0 22h1v1h-1zM9 22h1v1h-1zM48 22h1v1h-1zM52 22h1v1h-1zM65 22h1v1h-1zM82 22h1v1h-1zM85 22h1v1h-1zM112 22h1v1h-1zM157 22h1v1h-1zM163 22h1v1h-1zM45 23h1v1h-1zM105 23h1v1h-1zM167 23h1v1h-1zM15 24h1v1h-1zM23 24h1v1h-1zM38 24h1v1h-1zM68 24h1v1h-1zM90 24h1v1h-1zM117 24h1v1h-1zM135 24h1v1h-1zM144 24h1v1h-1zM3 25h1v1h-1zM7 25h1v1h-1zM29 25h1v1h-1zM55 25h1v1h-1zM64 25h1v1h-1zM69 25h1v1h-1zM84 25h1v1h-1zM88 25h1v1h-1zM44 26h1v1h-1zM51 26h1v1h-1zM63 26h1v1h-1zM76 26h1v1h-1zM79 26h1v1h-1zM106 26h1v1h-1zM111 26h1v1h-1zM121 26h1v1h-1zM150 26h1v1h-1zM154 26h1v1h-1zM6 27h1v1h-1zM41 27h1v1h-1zM62 27h1v1h-1zM89 27h1v1h-1zM130 27h1v1h-1zM149 27h1v1h-1zM152 27h2v1h-2zM157 27h1v1h-1zM174 27h1v1h-1zM8 28h1v1h-1zM71 28h1v1h-1zM73 28h1v1h-1zM97 28h1v1h-1zM100 28h1v1h-1zM156 28h1v1h-1zM40 29h1v1h-1zM44 29h1v1h-1zM47 29h1v1h-1zM101 29h1v1h-1zM128 29h1v1h-1zM140 29h2v1h-2zM154 29h1v1h-1zM161 29h1v1h-1zM174 29h1v1h-1zM176 29h1v1h-1zM18 30h1v1h-1zM26 30h1v1h-1zM63 30h1v1h-1zM111 30h1v1h-1zM117 30h1v1h-1zM123 30h1v1h-1zM153 30h1v1h-1zM37 31h1v1h-1zM47 31h1v1h-1zM50 31h1v1h-1zM60 31h1v1h-1zM68 31h1v1h-1zM83 31h1v1h-1zM118 31h1v1h-1zM137 31h1v1h-1zM140 31h1v1h-1zM23 32h2v1h-2zM64 32h1v1h-1zM67 32h1v1h-1zM129 32h1v1h-1zM144 32h1v1h-1zM3 33h1v1h-1zM24 33h1v1h-1zM27 33h1v1h-1zM37 33h1v1h-1zM70 33h1v1h-1zM80 33h1v1h-1zM120 33h1v1h-1zM125 33h1v1h-1zM137 33h1v1h-1zM145 33h1v1h-1zM29 34h1v1h-1zM32 34h1v1h-1zM62 34h1v1h-1zM74 34h1v1h-1zM120 34h1v1h-1zM142 34h2v1h-2zM151 34h1v1h-1zM160 34h1v1h-1zM163 34h1v1h-1zM31 35h1v1h-1zM33 35h1v1h-1zM54 35h1v1h-1zM88 35h1v1h-1zM110 35h1v1h-1zM114 35h1v1h-1zM125 35h1v1h-1zM131 35h2v1h-2zM136 35h1v1h-1zM151 35h1v1h-1zM153 35h1v1h-1zM19 36h1v1h-1zM58 36h1v1h-1zM65 36h1v1h-1zM85 36h1v1h-1zM134 36h1v1h-1zM170 36h1v1h-1zM4 37h1v1h-1zM38 37h1v1h-1zM51 37h1v1h-1zM56 37h2v1h-2zM66 37h1v1h-1zM77 37h1v1h-1zM87 37h1v1h-1zM124 37h1v1h-1zM145 37h1v1h-1zM156 37h1v1h-1zM168 37h3v1h-3zM56 38h1v1h-1zM95 38h1v1h-1zM102 38h1v1h-1zM122 38h1v1h-1zM142 38h1v1h-1zM149 38h2v1h-2zM159 38h1v1h-1zM165 38h1v1h-1zM3 39h1v1h-1zM35 39h1v1h-1zM98 39h1v1h-1zM102 39h1v1h-1zM127 39h1v1h-1zM170 39h1v1h-1zM63 40h1v1h-1zM70 40h1v1h-1zM109 40h1v1h-1zM157 40h1v1h-1zM160 40h2v1h-2zM175 40h1v1h-1zM54 41h1v1h-1zM57 41h1v1h-1zM70 41h1v1h-1zM73 41h1v1h-1zM80 41h1v1h-1zM106 41h1v1h-1zM130 41h1v1h-1zM158 41h1v1h-1zM160 41h1v1h-1zM44 42h1v1h-1zM76 42h1v1h-1zM92 42h1v1h-1zM107 42h1v1h-1zM113 42h1v1h-1zM126 42h1v1h-1zM129 42h1v1h-1zM163 42h1v1h-1zM170 42h1v1h-1zM173 42h1v1h-1zM3 43h1v1h-1zM45 43h1v1h-1zM82 43h1v1h-1zM93 43h1v1h-1zM105 43h1v1h-1zM119 43h1v1h-1zM131 43h1v1h-1zM174 43h1v1h-1zM70 44h1v1h-1zM73 44h1v1h-1zM124 44h1v1h-1zM128 44h1v1h-1zM168 44h1v1h-1zM3 45h1v1h-1zM48 45h1v1h-1zM54 45h1v1h-1zM82 45h1v1h-1zM103 45h1v1h-1zM127 45h1v1h-1zM53 46h1v1h-1zM7 47h1v1h-1zM9 47h1v1h-1zM73 47h2v1h-2zM99 47h1v1h-1zM131 47h1v1h-1zM143 47h2v1h-2zM163 47h1v1h-1zM167 47h1v1h-1zM174 47h1v1h-1zM12 48h1v1h-1zM18 48h1v1h-1zM31 48h1v1h-1zM99 48h1v1h-1zM113 48h1v1h-1zM0 49h1v1h-1zM9 49h1v1h-1zM26 49h1v1h-1zM43 49h1v1h-1zM82 49h1v1h-1zM131 49h1v1h-1zM155 49h2v1h-2zM172 49h1v1h-1z"/>
<path fill="#fbd0b9" d="M7 0h1v1h-1zM15 0h1v1h-1zM39 0h1v1h-1zM60 0h1v1h-1zM71 0h1v1h-1zM80 0h1v1h-1zM86 0h1v1h-1zM103 0h2v1h-2zM136 0h1v1h-1zM145 0h1v1h-1zM157 0h1v1h-1zM171 0h1v1h-1zM177 0h1v1h-1zM2 1h1v1h-1zM4 1h2v1h-2zM28 1h3v1h-3zM36 1h1v1h-1zM39 1h1v1h-1zM51 1h2v1h-2zM57 1h1v1h-1zM66 1h1v1h-1zM94 1h1v1h-1zM127 1h1v1h-1zM155 1h1v1h-1zM161 1h1v1h-1zM166 1h1v1h-1zM170 1h1v1h-1zM175 1h2v1h-2zM2 2h1v1h-1zM41 2h1v1h-1zM44 2h1v1h-1zM57 2h1v1h-1zM64 2h1v1h-1zM74 2h1v1h-1zM80 2h1v1h-1zM96 2h1v1h-1zM104 2h1v1h-1zM106 2h1v1h-1zM112 2h1v1h-1zM120 2h1v1h-1zM132 2h1v1h-1zM161 2h1v1h-1zM30 3h1v1h-1zM40 3h1v1h-1zM57 3h1v1h-1zM60 3h1v1h-1zM130 3h1v1h-1zM133 3h2v1h-2zM167 3h1v1h-1zM173 3h1v1h-1zM20 4h1v1h-1zM38 4h1v1h-1zM46 4h1v1h-1zM51 4h1v1h-1zM53 4h1v1h-1zM73 4h1v1h-1zM79 4h1v1h-1zM85 4h1v1h-1zM89 4h2v1h-2zM138 4h1v1h-1zM172 4h1v1h-1zM13 5h1v1h-1zM22 5h1v1h-1zM24 5h1v1h-1zM34 5h2v1h-2zM39 5h1v1h-1zM48 5h1v1h-1zM61 5h1v1h-1zM93 5h1v1h-1zM96 5h1v1h-1zM105 5h1v1h-1zM113 5h1v1h-1zM125 5h1v1h-1zM139 5h1v1h-1zM142 5h1v1h-1zM2 6h1v1h-1zM11 6h1v1h-1zM37 6h1v1h-1zM40 6h1v1h-1zM73 6h1v1h-1zM83 6h1v1h-1zM162 6h1v1h-1zM168 6h1v1h-1zM18 7h1v1h-1zM20 7h1v1h-1zM34 7h1v1h-1zM42 7h1v1h-1zM46 7h2v1h-2zM66 7h2v1h-2zM77 7h1v1h-1zM80 7h1v1h-1zM131 7h1v1h-1zM134 7h1v1h-1zM140 7h1v1h-1zM144 7h1v1h-1zM164 7h1v1h-1zM167 7h1v1h-1zM25 8h1v1h-1zM37 8h1v1h-1zM42 8h1v1h-1zM56 8h1v1h-1zM59 8h1v1h-1zM71 8h1v1h-1zM123 8h1v1h-1zM136 8h1v1h-1zM145 8h1v1h-1zM150 8h1v1h-1zM159 8h1v1h-1zM167 8h1v1h-1zM171 8h1v1h-1zM176 8h1v1h-1zM7 9h1v1h-1zM12 9h1v1h-1zM18 9h1v1h-1zM39 9h1v1h-1zM43 9h1v1h-1zM45 9h1v1h-1zM51 9h2v1h-2zM54 9h1v1h-1zM56 9h1v1h-1zM67 9h1v1h-1zM92 9h1v1h-1zM117 9h1v1h-1zM119 9h1v1h-1zM152 9h2v1h-2zM162 9h1v1h-1zM22 10h1v1h-1zM28 10h1v1h-1zM40 10h1v1h-1zM46 10h1v1h-1zM127 10h1v1h-1zM130 10h1v1h-1zM150 10h1v1h-1zM157 10h1v1h-1zM163 10h2v1h-2zM16 11h1v1h-1zM21 11h1v1h-1zM39 11h1v1h-1zM69 11h1v1h-1zM72 11h1v1h-1zM76 11h1v1h-1zM130 11h1v1h-1zM132 11h1v1h-1zM146 11h1v1h-1zM157 11h1v1h-1zM168 11h1v1h-1zM25 12h1v1h-1zM27 12h1v1h-1zM46 12h1v1h-1zM62 12h2v1h-2zM65 12h2v1h-2zM74 12h1v1h-1zM79 12h1v1h-1zM139 12h1v1h-1zM141 12h1v1h-1zM143 12h1v1h-1zM147 12h1v1h-1zM22 13h1v1h-1zM40 13h2v1h-2zM56 13h1v1h-1zM84 13h1v1h-1zM101 13h1v1h-1zM157 13h1v1h-1zM164 13h1v1h-1zM171 13h1v1h-1zM11 14h1v1h-1zM16 14h1v1h-1zM21 14h1v1h-1zM44 14h1v1h-1zM46 14h1v1h-1zM88 14h1v1h-1zM146 14h1v1h-1zM148 14h1v1h-1zM151 14h1v1h-1zM173 14h1v1h-1zM1 15h1v1h-1zM13 15h1v1h-1zM23 15h1v1h-1zM27 15h1v1h-1zM49 15h1v1h-1zM53 15h1v1h-1zM59 15h1v1h-1zM67 15h1v1h-1zM69 15h1v1h-1zM75 15h1v1h-1zM85 15h1v1h-1zM128 15h1v1h-1zM130 15h1v1h-1zM132 15h1v1h-1zM136 15h1v1h-1zM159 15h1v1h-1zM175 15h1v1h-1zM25 16h2v1h-2zM50 16h1v1h-1zM73 16h1v1h-1zM79 16h2v1h-2zM88 16h1v1h-1zM105 16h1v1h-1zM122 16h1v1h-1zM135 16h1v1h-1zM24 17h1v1h-1zM49 17h1v1h-1zM91 17h1v1h-1zM95 17h1v1h-1zM112 17h1v1h-1zM121 17h1v1h-1zM22 18h1v1h-1zM51 18h1v1h-1zM59 18h1v1h-1zM64 18h2v1h-2zM75 18h2v1h-2zM104 18h1v1h-1zM137 18h1v1h-1zM158 18h1v1h-1zM164 18h1v1h-1zM170 18h1v1h-1zM26 19h1v1h-1zM56 19h1v1h-1zM86 19h1v1h-1zM114 19h2v1h-2zM123 19h1v1h-1zM132 19h1v1h-1zM176 19h1v1h-1zM14 20h1v1h-1zM19 20h1v1h-1zM29 20h1v1h-1zM31 20h1v1h-1zM62 20h1v1h-1zM111 20h1v1h-1zM123 20h1v1h-1zM144 20h1v1h-1zM152 20h1v1h-1zM167 20h1v1h-1zM170 20h1v1h-1zM173 20h1v1h-1zM23 21h1v1h-1zM78 21h2v1h-2zM92 21h1v1h-1zM120 21h1v1h-1zM128 21h1v1h-1zM137 21h2v1h-2zM141 21h1v1h-1zM12 22h1v1h-1zM18 22h1v1h-1zM46 22h1v1h-1zM54 22h1v1h-1zM69 22h1v1h-1zM98 22h1v1h-1zM109 22h1v1h-1zM136 22h1v1h-1zM158 22h1v1h-1zM169 22h1v1h-1zM12 23h1v1h-1zM76 23h2v1h-2zM89 23h1v1h-1zM117 23h1v1h-1zM39 24h1v1h-1zM51 24h1v1h-1zM56 24h1v1h-1zM77 24h1v1h-1zM85 24h2v1h-2zM95 24h1v1h-1zM97 24h2v1h-2zM104 24h1v1h-1zM108 24h1v1h-1zM124 24h1v1h-1zM169 24h2v1h-2zM91 25h1v1h-1zM108 25h1v1h-1zM7 26h1v1h-1zM14 26h1v1h-1zM16 26h1v1h-1zM57 26h1v1h-1zM66 26h1v1h-1zM68 26h1v1h-1zM78 26h1v1h-1zM88 26h1v1h-1zM139 26h1v1h-1zM143 26h1v1h-1zM155 26h1v1h-1zM165 26h1v1h-1zM173 26h1v1h-1zM23 27h1v1h-1zM28 27h1v1h-1zM30 27h1v1h-1zM55 27h1v1h-1zM71 27h1v1h-1zM82 27h2v1h-2zM102 27h1v1h-1zM144 27h1v1h-1zM5 28h1v1h-1zM37 28h1v1h-1zM47 28h1v1h-1zM52 28h1v1h-1zM56 28h1v1h-1zM61 28h2v1h-2zM66 28h1v1h-1zM82 28h1v1h-1zM89 28h1v1h-1zM91 28h1v1h-1zM113 28h1v1h-1zM125 28h2v1h-2zM141 28h1v1h-1zM143 28h1v1h-1zM149 28h1v1h-1zM152 28h1v1h-1zM157 28h1v1h-1zM166 28h2v1h-2zM3 29h1v1h-1zM85 29h1v1h-1zM108 29h1v1h-1zM113 29h1v1h-1zM143 29h2v1h-2zM151 29h1v1h-1zM155 29h1v1h-1zM22 30h1v1h-1zM33 30h1v1h-1zM36 30h1v1h-1zM55 30h1v1h-1zM73 30h1v1h-1zM92 30h1v1h-1zM109 30h1v1h-1zM137 30h1v1h-1zM168 30h1v1h-1zM175 30h1v1h-1zM25 31h1v1h-1zM36 31h1v1h-1zM42 31h1v1h-1zM73 31h1v1h-1zM94 31h1v1h-1zM102 31h1v1h-1zM114 31h1v1h-1zM132 31h1v1h-1zM149 31h1v1h-1zM155 31h1v1h-1zM0 32h1v1h-1zM6 32h1v1h-1zM11 32h1v1h-1zM19 32h1v1h-1zM22 32h1v1h-1zM25 32h2v1h-2zM41 32h1v1h-1zM60 32h1v1h-1zM81 32h1v1h-1zM131 32h1v1h-1zM143 32h1v1h-1zM170 32h1v1h-1zM38 33h1v1h-1zM81 33h2v1h-2zM90 33h1v1h-1zM92 33h1v1h-1zM126 33h1v1h-1zM143 33h1v1h-1zM152 33h1v1h-1zM6 34h1v1h-1zM15 34h1v1h-1zM22 34h1v1h-1zM35 34h1v1h-1zM38 34h1v1h-1zM45 34h1v1h-1zM47 34h1v1h-1zM57 34h1v1h-1zM128 34h1v1h-1zM131 34h1v1h-1zM145 34h1v1h-1zM147 34h1v1h-1zM167 34h1v1h-1zM14 35h1v1h-1zM56 35h1v1h-1zM62 35h1v1h-1zM70 35h1v1h-1zM77 35h1v1h-1zM126 35h1v1h-1zM172 35h1v1h-1zM1 36h1v1h-1zM10 36h1v1h-1zM50 36h1v1h-1zM63 36h1v1h-1zM76 36h2v1h-2zM94 36h1v1h-1zM111 36h1v1h-1zM132 36h1v1h-1zM146 36h1v1h-1zM149 36h1v1h-1zM2 37h1v1h-1zM21 37h1v1h-1zM25 37h1v1h-1zM71 37h2v1h-2zM79 37h1v1h-1zM119 37h2v1h-2zM6 38h1v1h-1zM10 38h2v1h-2zM57 38h1v1h-1zM83 38h1v1h-1zM88 38h1v1h-1zM91 38h1v1h-1zM103 38h1v1h-1zM106 38h1v1h-1zM111 38h1v1h-1zM125 38h1v1h-1zM129 38h1v1h-1zM148 38h1v1h-1zM161 38h1v1h-1zM173 38h1v1h-1zM177 38h1v1h-1zM9 39h1v1h-1zM27 39h1v1h-1zM48 39h1v1h-1zM54 39h1v1h-1zM68 39h1v1h-1zM71 39h1v1h-1zM135 39h1v1h-1zM150 39h1v1h-1zM153 39h1v1h-1zM159 39h2v1h-2zM25 40h1v1h-1zM50 40h1v1h-1zM52 40h1v1h-1zM69 40h1v1h-1zM86 40h1v1h-1zM121 40h1v1h-1zM167 40h1v1h-1zM170 40h1v1h-1zM2 41h1v1h-1zM9 41h1v1h-1zM16 41h1v1h-1zM41 41h1v1h-1zM62 41h1v1h-1zM77 41h1v1h-1zM100 41h1v1h-1zM128 41h1v1h-1zM142 41h1v1h-1zM146 41h1v1h-1zM159 41h1v1h-1zM164 41h1v1h-1zM1 42h1v1h-1zM5 42h2v1h-2zM74 42h1v1h-1zM82 42h1v1h-1zM99 42h2v1h-2zM115 42h1v1h-1zM130 42h1v1h-1zM135 42h1v1h-1zM143 42h1v1h-1zM148 42h1v1h-1zM151 42h1v1h-1zM154 42h1v1h-1zM167 42h1v1h-1zM176 42h1v1h-1zM48 43h1v1h-1zM66 43h1v1h-1zM78 43h1v1h-1zM90 43h1v1h-1zM115 43h1v1h-1zM147 43h1v1h-1zM157 43h1v1h-1zM159 43h1v1h-1zM165 43h1v1h-1zM49 44h1v1h-1zM63 44h1v1h-1zM65 44h1v1h-1zM95 44h1v1h-1zM104 44h1v1h-1zM122 44h1v1h-1zM133 44h1v1h-1zM65 45h1v1h-1zM120 45h1v1h-1zM126 45h1v1h-1zM142 45h1v1h-1zM163 45h1v1h-1zM171 45h1v1h-1zM18 46h1v1h-1zM63 46h1v1h-1zM82 46h1v1h-1zM111 46h1v1h-1zM121 46h1v1h-1zM133 46h1v1h-1zM136 46h1v1h-1zM141 46h1v1h-1zM144 46h1v1h-1zM154 46h1v1h-1zM163 46h1v1h-1zM10 47h1v1h-1zM79 47h1v1h-1zM95 47h1v1h-1zM98 47h1v1h-1zM116 47h1v1h-1zM120 47h1v1h-1zM122 47h1v1h-1zM127 47h1v1h-1zM129 47h1v1h-1zM145 47h1v1h-1zM149 47h1v1h-1zM165 47h1v1h-1zM9 48h1v1h-1zM26 48h1v1h-1zM28 48h1v1h-1zM30 48h1v1h-1zM38 48h2v1h-2zM76 48h1v1h-1zM82 48h1v1h-1zM90 48h1v1h-1zM92 48h1v1h-1zM101 48h1v1h-1zM117 48h1v1h-1zM124 48h1v1h-1zM145 48h1v1h-1zM147 48h1v1h-1zM155 48h1v1h-1zM159 48h1v1h-1zM2 49h1v1h-1zM28 49h1v1h-1zM49 49h1v1h-1zM55 49h1v1h-1zM62 49h1v1h-1zM69 49h1v1h-1zM74 49h2v1h-2zM118 49h1v1h-1zM122 49h1v1h-1zM125 49h1v1h-1zM135 49h1v1h-1zM147 49h1v1h-1zM166 49h1v1h-1zM176 49h1v1h-1z"/>
<path fill="#f8bb9e" d="M10 0h1v1h-1zM63 0h1v1h-1zM76 0h1v1h-1zM85 0h1v1h-1zM108 0h1v1h-1zM115 0h1v1h-1zM147 0h1v1h-1zM172 0h1v1h-1zM176 0h1v1h-1zM18 1h1v1h-1zM26 1h1v1h-1zM45 1h1v1h-1zM47 1h1v1h-1zM60 1h1v1h-1zM68 1h1v1h-1zM75 1h1v1h-1zM81 1h1v1h-1zM87 1h1v1h-1zM104 1h1v1h-1zM115 1h1v1h-1zM125 1h1v1h-1zM129 1h1v1h-1zM153 1h1v1h-1zM159 1h1v1h-1zM165 1h1v1h-1zM167 1h1v1h-1zM4 2h1v1h-1zM15 2h2v1h-2zM24 2h2v1h-2zM39 2h1v1h-1zM63 2h1v1h-1zM72 2h1v1h-1zM88 2h1v1h-1zM90 2h1v1h-1zM108 2h1v1h-1zM111 2h1v1h-1zM133 2h1v1h-1zM136 2h1v1h-1zM157 2h1v1h-1zM171 2h1v1h-1zM11 3h1v1h-1zM15 3h1v1h-1zM21 3h1v1h-1zM27 3h1v1h-1zM62 3h1v1h-1zM65 3h2v1h-2zM77 3h1v1h-1zM80 3h1v1h-1zM87 3h1v1h-1zM92 3h1v1h-1zM96 3h1v1h-1zM126 3h1v1h-1zM36 4h1v1h-1zM48 4h1v1h-1zM56 4h1v1h-1zM61 4h1v1h-1zM68 4h1v1h-1zM72 4h1v1h-1zM78 4h1v1h-1zM83 4h1v1h-1zM86 4h2v1h-2zM99 4h1v1h-1zM106 4h1v1h-1zM118 4h1v1h-1zM126 4h1v1h-1zM135 4h1v1h-1zM141 4h1v1h-1zM173 4h1v1h-1zM19 5h1v1h-1zM26 5h1v1h-1zM49 5h2v1h-2zM60 5h1v1h-1zM75 5h1v1h-1zM83 5h1v1h-1zM106 5h1v1h-1zM117 5h1v1h-1zM119 5h1v1h-1zM122 5h1v1h-1zM126 5h2v1h-2zM134 5h1v1h-1zM21 6h1v1h-1zM23 6h1v1h-1zM75 6h2v1h-2zM84 6h2v1h-2zM124 6h1v1h-1zM126 6h1v1h-1zM140 6h1v1h-1zM167 6h1v1h-1zM169 6h2v1h-2zM172 6h1v1h-1zM175 6h1v1h-1zM22 7h1v1h-1zM37 7h1v1h-1zM39 7h1v1h-1zM69 7h1v1h-1zM76 7h1v1h-1zM84 7h1v1h-1zM114 7h1v1h-1zM128 7h1v1h-1zM146 7h2v1h-2zM152 7h1v1h-1zM155 7h1v1h-1zM173 7h2v1h-2zM16 8h1v1h-1zM22 8h2v1h-2zM33 8h1v1h-1zM38 8h1v1h-1zM45 8h1v1h-1zM47 8h1v1h-1zM57 8h1v1h-1zM78 8h1v1h-1zM93 8h1v1h-1zM133 8h1v1h-1zM137 8h1v1h-1zM148 8h1v1h-1zM24 9h1v1h-1zM27 9h1v1h-1zM35 9h1v1h-1zM37 9h1v1h-1zM53 9h1v1h-1zM57 9h1v1h-1zM68 9h1v1h-1zM87 9h1v1h-1zM124 9h1v1h-1zM144 9h1v1h-1zM149 9h2v1h-2zM156 9h1v1h-1zM17 10h1v1h-1zM29 10h1v1h-1zM50 10h1v1h-1zM68 10h1v1h-1zM74 10h1v1h-1zM76 10h1v1h-1zM78 10h1v1h-1zM82 10h1v1h-1zM120 10h1v1h-1zM126 10h1v1h-1zM135 10h1v1h-1zM143 10h1v1h-1zM147 10h1v1h-1zM165 10h1v1h-1zM170 10h1v1h-1zM172 10h1v1h-1zM174 10h1v1h-1zM2 11h1v1h-1zM20 11h1v1h-1zM23 11h1v1h-1zM30 11h1v1h-1zM62 11h1v1h-1zM75 11h1v1h-1zM83 11h1v1h-1zM120 11h1v1h-1zM122 11h1v1h-1zM127 11h1v1h-1zM11 12h1v1h-1zM26 12h1v1h-1zM42 12h1v1h-1zM45 12h1v1h-1zM55 12h1v1h-1zM59 12h1v1h-1zM64 12h1v1h-1zM68 12h1v1h-1zM78 12h1v1h-1zM80 12h1v1h-1zM148 12h1v1h-1zM150 12h1v1h-1zM158 12h1v1h-1zM163 12h1v1h-1zM166 12h1v1h-1zM20 13h1v1h-1zM23 13h1v1h-1zM31 13h1v1h-1zM52 13h1v1h-1zM57 13h1v1h-1zM61 13h1v1h-1zM69 13h1v1h-1zM71 13h1v1h-1zM75 13h1v1h-1zM78 13h1v1h-1zM86 13h2v1h-2zM92 13h1v1h-1zM131 13h1v1h-1zM163 13h1v1h-1zM172 13h1v1h-1zM7 14h1v1h-1zM27 14h1v1h-1zM45 14h1v1h-1zM60 14h1v1h-1zM63 14h1v1h-1zM66 14h1v1h-1zM70 14h1v1h-1zM76 14h1v1h-1zM87 14h1v1h-1zM138 14h2v1h-2zM147 14h1v1h-1zM150 14h1v1h-1zM169 14h1v1h-1zM3 15h1v1h-1zM11 15h1v1h-1zM50 15h2v1h-2zM54 15h1v1h-1zM63 15h1v1h-1zM72 15h1v1h-1zM83 15h1v1h-1zM143 15h1v1h-1zM147 15h1v1h-1zM171 15h1v1h-1zM15 16h1v1h-1zM21 16h1v1h-1zM56 16h1v1h-1zM63 16h1v1h-1zM91 16h1v1h-1zM108 16h1v1h-1zM138 16h1v1h-1zM142 16h1v1h-1zM4 17h1v1h-1zM13 17h1v1h-1zM19 17h2v1h-2zM27 17h1v1h-1zM39 17h1v1h-1zM53 17h1v1h-1zM55 17h1v1h-1zM57 17h1v1h-1zM66 17h1v1h-1zM125 17h2v1h-2zM130 17h1v1h-1zM134 17h1v1h-1zM137 17h1v1h-1zM141 17h1v1h-1zM144 17h2v1h-2zM156 17h1v1h-1zM163 17h1v1h-1zM171 17h1v1h-1zM176 17h1v1h-1zM14 18h1v1h-1zM16 18h1v1h-1zM18 18h1v1h-1zM20 18h1v1h-1zM34 18h1v1h-1zM43 18h1v1h-1zM50 18h1v1h-1zM57 18h1v1h-1zM62 18h1v1h-1zM90 18h1v1h-1zM97 18h1v1h-1zM109 18h1v1h-1zM112 18h1v1h-1zM119 18h1v1h-1zM138 18h1v1h-1zM11 19h1v1h-1zM16 19h2v1h-2zM25 19h1v1h-1zM101 19h1v1h-1zM138 19h1v1h-1zM155 19h1v1h-1zM171 19h1v1h-1zM21 20h2v1h-2zM42 20h1v1h-1zM60 20h1v1h-1zM78 20h1v1h-1zM117 20h1v1h-1zM135 20h1v1h-1zM140 20h1v1h-1zM148 20h1v1h-1zM172 20h1v1h-1zM0 21h1v1h-1zM11 21h1v1h-1zM38 21h1v1h-1zM46 21h1v1h-1zM62 21h1v1h-1zM102 21h1v1h-1zM115 21h1v1h-1zM122 21h1v1h-1zM146 21h1v1h-1zM148 21h1v1h-1zM158 21h1v1h-1zM161 21h1v1h-1zM166 21h1v1h-1zM28 22h1v1h-1zM30 22h1v1h-1zM37 22h2v1h-2zM41 22h1v1h-1zM51 22h1v1h-1zM62 22h1v1h-1zM68 22h1v1h-1zM78 22h1v1h-1zM86 22h1v1h-1zM105 22h1v1h-1zM118 22h1v1h-1zM143 22h1v1h-1zM146 22h1v1h-1zM162 22h1v1h-1zM167 22h1v1h-1zM0 23h1v1h-1zM2 23h1v1h-1zM11 23h1v1h-1zM61 23h1v1h-1zM82 23h1v1h-1zM153 23h1v1h-1zM171 23h1v1h-1zM177 23h1v1h-1zM11 24h1v1h-1zM13 24h1v1h-1zM20 24h1v1h-1zM24 24h1v1h-1zM44 24h1v1h-1zM55 24h1v1h-1zM63 24h1v1h-1zM72 24h1v1h-1zM74 24h1v1h-1zM78 24h1v1h-1zM96 24h1v1h-1zM100 24h1v1h-1zM102 24h1v1h-1zM106 24h1v1h-1zM111 24h2v1h-2zM146 24h1v1h-1zM153 24h1v1h-1zM164 24h1v1h-1zM15 25h1v1h-1zM34 25h1v1h-1zM50 25h1v1h-1zM75 25h1v1h-1zM98 25h1v1h-1zM56 26h1v1h-1zM84 26h1v1h-1zM89 26h1v1h-1zM96 26h1v1h-1zM108 26h1v1h-1zM112 26h1v1h-1zM146 26h1v1h-1zM152 26h1v1h-1zM157 26h1v1h-1zM171 26h1v1h-1zM25 27h1v1h-1zM47 27h1v1h-1zM85 27h1v1h-1zM122 27h1v1h-1zM128 27h1v1h-1zM161 27h1v1h-1zM168 27h1v1h-1zM171 27h2v1h-2zM176 27h1v1h-1zM7 28h1v1h-1zM22 28h1v1h-1zM35 28h1v1h-1zM50 28h1v1h-1zM60 28h1v1h-1zM70 28h1v1h-1zM87 28h1v1h-1zM56 29h1v1h-1zM61 29h1v1h-1zM68 29h1v1h-1zM96 29h1v1h-1zM110 29h1v1h-1zM121 29h1v1h-1zM123 29h1v1h-1zM130 29h1v1h-1zM135 29h1v1h-1zM150 29h1v1h-1zM152 29h1v1h-1zM158 29h1v1h-1zM4 30h2v1h-2zM30 30h1v1h-1zM50 30h1v1h-1zM52 30h1v1h-1zM61 30h1v1h-1zM66 30h1v1h-1zM69 30h1v1h-1zM91 30h1v1h-1zM103 30h1v1h-1zM113 30h1v1h-1zM118 30h1v1h-1zM125 30h1v1h-1zM132 30h1v1h-1zM144 30h1v1h-1zM148 30h1v1h-1zM174 30h1v1h-1zM1 31h1v1h-1zM5 31h1v1h-1zM13 31h1v1h-1zM34 31h2v1h-2zM45 31h1v1h-1zM53 31h1v1h-1zM62 31h1v1h-1zM67 31h1v1h-1zM69 31h2v1h-2zM72 31h1v1h-1zM78 31h1v1h-1zM80 31h1v1h-1zM92 31h1v1h-1zM113 31h1v1h-1zM138 31h1v1h-1zM141 31h1v1h-1zM147 31h1v1h-1zM161 31h1v1h-1zM167 31h1v1h-1zM169 31h1v1h-1zM12 32h1v1h-1zM57 32h1v1h-1zM75 32h2v1h-2zM82 32h1v1h-1zM89 32h1v1h-1zM122 32h1v1h-1zM133 32h1v1h-1zM141 32h1v1h-1zM157 32h1v1h-1zM169 32h1v1h-1zM10 33h1v1h-1zM25 33h1v1h-1zM28 33h1v1h-1zM30 33h1v1h-1zM42 33h1v1h-1zM48 33h1v1h-1zM64 33h1v1h-1zM84 33h1v1h-1zM86 33h1v1h-1zM88 33h2v1h-2zM128 33h2v1h-2zM132 33h1v1h-1zM165 33h1v1h-1zM172 33h1v1h-1zM39 34h1v1h-1zM44 34h1v1h-1zM49 34h1v1h-1zM75 34h1v1h-1zM82 34h1v1h-1zM119 34h1v1h-1zM129 34h1v1h-1zM133 34h1v1h-1zM144 34h1v1h-1zM154 34h1v1h-1zM158 34h1v1h-1zM161 34h1v1h-1zM164 34h1v1h-1zM166 34h1v1h-1zM32 35h1v1h-1zM53 35h1v1h-1zM79 35h1v1h-1zM87 35h1v1h-1zM91 35h2v1h-2zM111 35h1v1h-1zM121 35h1v1h-1zM143 35h1v1h-1zM156 35h1v1h-1zM7 36h1v1h-1zM16 36h1v1h-1zM20 36h1v1h-1zM31 36h1v1h-1zM48 36h1v1h-1zM73 36h1v1h-1zM81 36h1v1h-1zM122 36h1v1h-1zM129 36h1v1h-1zM133 36h1v1h-1zM138 36h2v1h-2zM150 36h1v1h-1zM152 36h1v1h-1zM155 36h1v1h-1zM157 36h1v1h-1zM171 36h1v1h-1zM175 36h1v1h-1zM0 37h1v1h-1zM43 37h1v1h-1zM50 37h1v1h-1zM74 37h1v1h-1zM89 37h1v1h-1zM102 37h1v1h-1zM115 37h1v1h-1zM5 38h1v1h-1zM9 38h1v1h-1zM55 38h1v1h-1zM75 38h1v1h-1zM79 38h1v1h-1zM93 38h2v1h-2zM116 38h1v1h-1zM120 38h1v1h-1zM130 38h2v1h-2zM133 38h1v1h-1zM135 38h1v1h-1zM137 38h1v1h-1zM146 38h1v1h-1zM153 38h1v1h-1zM156 38h1v1h-1zM8 39h1v1h-1zM21 39h1v1h-1zM37 39h1v1h-1zM60 39h1v1h-1zM84 39h1v1h-1zM88 39h1v1h-1zM119 39h1v1h-1zM126 39h1v1h-1zM139 39h1v1h-1zM152 39h1v1h-1zM157 39h1v1h-1zM162 39h1v1h-1zM174 39h2v1h-2zM177 39h1v1h-1zM8 40h1v1h-1zM12 40h1v1h-1zM45 40h1v1h-1zM48 40h1v1h-1zM75 40h1v1h-1zM89 40h1v1h-1zM91 40h1v1h-1zM95 40h1v1h-1zM113 40h1v1h-1zM142 40h1v1h-1zM149 40h1v1h-1zM173 40h1v1h-1zM8 41h1v1h-1zM10 41h1v1h-1zM23 41h1v1h-1zM25 41h1v1h-1zM38 41h1v1h-1zM68 41h1v1h-1zM113 41h1v1h-1zM132 41h1v1h-1zM134 41h1v1h-1zM136 41h1v1h-1zM9 42h1v1h-1zM60 42h1v1h-1zM73 42h1v1h-1zM89 42h1v1h-1zM97 42h1v1h-1zM101 42h1v1h-1zM103 42h2v1h-2zM125 42h1v1h-1zM168 42h1v1h-1zM38 43h1v1h-1zM47 43h1v1h-1zM57 43h1v1h-1zM68 43h2v1h-2zM73 43h1v1h-1zM101 43h1v1h-1zM120 43h1v1h-1zM127 43h1v1h-1zM133 43h1v1h-1zM154 43h1v1h-1zM163 43h1v1h-1zM166 43h1v1h-1zM175 43h1v1h-1zM2 44h1v1h-1zM10 44h1v1h-1zM48 44h1v1h-1zM58 44h1v1h-1zM89 44h1v1h-1zM112 44h1v1h-1zM141 44h1v1h-1zM146 44h1v1h-1zM151 44h1v1h-1zM162 44h1v1h-1zM2 45h1v1h-1zM7 45h1v1h-1zM10 45h1v1h-1zM39 45h1v1h-1zM71 45h1v1h-1zM85 45h1v1h-1zM89 45h1v1h-1zM92 45h1v1h-1zM113 45h1v1h-1zM117 45h3v1h-3zM121 45h1v1h-1zM140 45h1v1h-1zM152 45h1v1h-1zM155 45h1v1h-1zM175 45h1v1h-1zM15 46h1v1h-1zM67 46h1v1h-1zM76 46h2v1h-2zM80 46h1v1h-1zM83 46h1v1h-1zM91 46h1v1h-1zM103 46h1v1h-1zM120 46h1v1h-1zM125 46h1v1h-1zM140 46h1v1h-1zM147 46h1v1h-1zM2 47h1v1h-1zM4 47h1v1h-1zM54 47h2v1h-2zM62 47h1v1h-1zM76 47h2v1h-2zM85 47h1v1h-1zM100 47h1v1h-1zM132 47h1v1h-1zM164 47h1v1h-1zM168 47h1v1h-1zM171 47h1v1h-1zM176 47h1v1h-1zM2 48h1v1h-1zM17 48h1v1h-1zM48 48h1v1h-1zM61 48h2v1h-2zM69 48h1v1h-1zM71 48h3v1h-3zM78 48h1v1h-1zM94 48h1v1h-1zM106 48h1v1h-1zM109 48h1v1h-1zM120 48h1v1h-1zM127 48h1v1h-1zM148 48h1v1h-1zM165 48h1v1h-1zM170 48h1v1h-1zM177 48h1v1h-1zM51 49h1v1h-1zM59 49h1v1h-1zM61 49h1v1h-1zM86 49h1v1h-1zM89 49h2v1h-2zM92 49h1v1h-1zM97 49h1v1h-1zM103 49h1v1h-1zM116 49h1v1h-1zM124 49h1v1h-1zM138 49h1v1h-1zM140 49h1v1h-1zM149 49h1v1h-1zM152 49h1v1h-1z"/>
<path fill="#f4a684" d="M3 0h1v1h-1zM8 0h1v1h-1zM21 0h1v1h-1zM37 0h1v1h-1zM42 0h1v1h-1zM44 0h1v1h-1zM50 0h1v1h-1zM59 0h1v1h-1zM75 0h1v1h-1zM82 0h1v1h-1zM90 0h2v1h-2zM97 0h1v1h-1zM106 0h1v1h-1zM119 0h1v1h-1zM126 0h1v1h-1zM142 0h1v1h-1zM153 0h1v1h-1zM6 1h1v1h-1zM9 1h1v1h-1zM12 1h1v1h-1zM17 1h1v1h-1zM19 1h1v1h-1zM32 1h1v1h-1zM34 1h1v1h-1zM43 1h2v1h-2zM48 1h1v1h-1zM58 1h1v1h-1zM82 1h1v1h-1zM106 1h1v1h-1zM108 1h1v1h-1zM120 1h1v1h-1zM146 1h1v1h-1zM1 2h1v1h-1zM10 2h1v1h-1zM13 2h2v1h-2zM20 2h1v1h-1zM30 2h1v1h-1zM43 2h1v1h-1zM45 2h1v1h-1zM75 2h1v1h-1zM93 2h1v1h-1zM105 2h1v1h-1zM117 2h1v1h-1zM128 2h1v1h-1zM152 2h1v1h-1zM4 3h1v1h-1zM8 3h1v1h-1zM12 3h1v1h-1zM41 3h1v1h-1zM61 3h1v1h-1zM72 3h1v1h-1zM91 3h1v1h-1zM114 3h1v1h-1zM120 3h1v1h-1zM123 3h1v1h-1zM128 3h1v1h-1zM149 3h1v1h-1zM81 4h1v1h-1zM93 4h1v1h-1zM107 4h1v1h-1zM112 4h1v1h-1zM12 5h1v1h-1zM20 5h1v1h-1zM38 5h1v1h-1zM68 5h1v1h-1zM77 5h1v1h-1zM81 5h1v1h-1zM87 5h1v1h-1zM3 6h1v1h-1zM25 6h1v1h-1zM34 6h1v1h-1zM41 6h2v1h-2zM88 6h1v1h-1zM112 6h1v1h-1zM128 6h1v1h-1zM133 6h1v1h-1zM146 6h1v1h-1zM153 6h1v1h-1zM176 6h1v1h-1zM15 7h1v1h-1zM23 7h1v1h-1zM52 7h1v1h-1zM64 7h1v1h-1zM68 7h1v1h-1zM88 7h1v1h-1zM122 7h1v1h-1zM142 7h1v1h-1zM145 7h1v1h-1zM149 7h1v1h-1zM158 7h1v1h-1zM27 8h2v1h-2zM44 8h1v1h-1zM46 8h1v1h-1zM66 8h1v1h-1zM74 8h1v1h-1zM85 8h1v1h-1zM119 8h1v1h-1zM142 8h1v1h-1zM157 8h1v1h-1zM19 9h1v1h-1zM25 9h1v1h-1zM44 9h1v1h-1zM55 9h1v1h-1zM74 9h1v1h-1zM132 9h1v1h-1zM137 9h1v1h-1zM158 9h1v1h-1zM168 9h1v1h-1zM0 10h1v1h-1zM8 10h1v1h-1zM30 10h1v1h-1zM33 10h1v1h-1zM35 10h1v1h-1zM44 10h1v1h-1zM58 10h1v1h-1zM80 10h2v1h-2zM87 10h1v1h-1zM91 10h1v1h-1zM131 10h1v1h-1zM133 10h1v1h-1zM140 10h1v1h-1zM149 10h1v1h-1zM169 10h1v1h-1zM176 10h1v1h-1zM0 11h1v1h-1zM27 11h1v1h-1zM134 11h1v1h-1zM136 11h1v1h-1zM141 11h1v1h-1zM147 11h1v1h-1zM166 11h1v1h-1zM30 12h1v1h-1zM34 12h1v1h-1zM53 12h1v1h-1zM72 12h1v1h-1zM120 12h1v1h-1zM127 12h1v1h-1zM129 12h1v1h-1zM165 12h1v1h-1zM170 12h1v1h-1zM175 12h1v1h-1zM15 13h1v1h-1zM28 13h1v1h-1zM34 13h1v1h-1zM39 13h1v1h-1zM42 13h1v1h-1zM49 13h1v1h-1zM59 13h2v1h-2zM65 13h1v1h-1zM80 13h2v1h-2zM132 13h1v1h-1zM137 13h1v1h-1zM139 13h1v1h-1zM142 13h1v1h-1zM147 13h1v1h-1zM151 13h1v1h-1zM170 13h1v1h-1zM1 14h1v1h-1zM14 14h1v1h-1zM20 14h1v1h-1zM23 14h1v1h-1zM32 14h1v1h-1zM50 14h1v1h-1zM53 14h1v1h-1zM81 14h2v1h-2zM137 14h1v1h-1zM153 14h1v1h-1zM162 14h1v1h-1zM170 14h1v1h-1zM172 14h1v1h-1zM174 14h1v1h-1zM176 14h1v1h-1zM15 15h1v1h-1zM28 15h1v1h-1zM33 15h1v1h-1zM36 15h1v1h-1zM52 15h1v1h-1zM77 15h1v1h-1zM88 15h1v1h-1zM122 15h1v1h-1zM152 15h2v1h-2zM164 15h1v1h-1zM11 16h1v1h-1zM27 16h1v1h-1zM67 16h1v1h-1zM94 16h1v1h-1zM106 16h1v1h-1zM120 16h1v1h-1zM145 16h1v1h-1zM171 16h2v1h-2zM11 17h1v1h-1zM16 17h1v1h-1zM33 17h1v1h-1zM35 17h1v1h-1zM46 17h1v1h-1zM87 17h2v1h-2zM97 17h1v1h-1zM101 17h2v1h-2zM106 17h1v1h-1zM113 17h1v1h-1zM151 17h1v1h-1zM164 17h1v1h-1zM175 17h1v1h-1zM15 18h1v1h-1zM26 18h1v1h-1zM29 18h1v1h-1zM35 18h1v1h-1zM55 18h1v1h-1zM73 18h1v1h-1zM80 18h1v1h-1zM82 18h1v1h-1zM102 18h1v1h-1zM115 18h1v1h-1zM122 18h1v1h-1zM125 18h1v1h-1zM128 18h1v1h-1zM139 18h1v1h-1zM148 18h1v1h-1zM150 18h1v1h-1zM152 18h1v1h-1zM161 18h1v1h-1zM163 18h1v1h-1zM171 18h1v1h-1zM174 18h1v1h-1zM9 19h1v1h-1zM29 19h1v1h-1zM41 19h1v1h-1zM50 19h1v1h-1zM57 19h1v1h-1zM66 19h1v1h-1zM74 19h2v1h-2zM89 19h1v1h-1zM96 19h2v1h-2zM100 19h1v1h-1zM102 19h1v1h-1zM110 19h1v1h-1zM142 19h1v1h-1zM148 19h1v1h-1zM2 20h1v1h-1zM7 20h1v1h-1zM34 20h1v1h-1zM44 20h1v1h-1zM54 20h1v1h-1zM61 20h1v1h-1zM74 20h1v1h-1zM92 20h1v1h-1zM106 20h1v1h-1zM115 20h1v1h-1zM120 20h1v1h-1zM132 20h1v1h-1zM143 20h1v1h-1zM145 20h1v1h-1zM174 20h1v1h-1zM17 21h1v1h-1zM36 21h1v1h-1zM80 21h1v1h-1zM117 21h1v1h-1zM144 21h1v1h-1zM167 21h1v1h-1zM173 21h1v1h-1zM15 22h1v1h-1zM24 22h1v1h-1zM42 22h1v1h-1zM73 22h1v1h-1zM77 22h1v1h-1zM81 22h1v1h-1zM84 22h1v1h-1zM148 22h1v1h-1zM153 22h1v1h-1zM164 22h1v1h-1zM170 22h3v1h-3zM13 23h1v1h-1zM17 23h1v1h-1zM29 23h1v1h-1zM48 23h1v1h-1zM63 23h1v1h-1zM86 23h1v1h-1zM90 23h1v1h-1zM92 23h1v1h-1zM96 23h1v1h-1zM118 23h1v1h-1zM170 23h1v1h-1zM172 23h1v1h-1zM0 24h1v1h-1zM12 24h1v1h-1zM16 24h1v1h-1zM18 24h1v1h-1zM49 24h1v1h-1zM58 24h1v1h-1zM62 24h1v1h-1zM69 24h1v1h-1zM71 24h1v1h-1zM93 24h1v1h-1zM110 24h1v1h-1zM145 24h1v1h-1zM156 24h1v1h-1zM177 24h1v1h-1zM20 25h1v1h-1zM47 25h1v1h-1zM58 25h1v1h-1zM65 25h1v1h-1zM83 25h1v1h-1zM96 25h1v1h-1zM120 25h1v1h-1zM123 25h2v1h-2zM139 25h1v1h-1zM144 25h1v1h-1zM156 25h1v1h-1zM163 25h1v1h-1zM13 26h1v1h-1zM17 26h1v1h-1zM42 26h1v1h-1zM53 26h1v1h-1zM61 26h1v1h-1zM64 26h1v1h-1zM69 26h1v1h-1zM80 26h2v1h-2zM87 26h1v1h-1zM122 26h1v1h-1zM129 26h2v1h-2zM135 26h1v1h-1zM137 26h2v1h-2zM140 26h1v1h-1zM142 26h1v1h-1zM145 26h1v1h-1zM3 27h1v1h-1zM11 27h1v1h-1zM15 27h1v1h-1zM32 27h1v1h-1zM49 27h1v1h-1zM56 27h1v1h-1zM59 27h1v1h-1zM66 27h1v1h-1zM69 27h1v1h-1zM99 27h1v1h-1zM133 27h2v1h-2zM138 27h1v1h-1zM145 27h1v1h-1zM147 27h1v1h-1zM155 27h1v1h-1zM163 27h1v1h-1zM167 27h1v1h-1zM175 27h1v1h-1zM1 28h1v1h-1zM53 28h1v1h-1zM68 28h1v1h-1zM72 28h1v1h-1zM75 28h1v1h-1zM77 28h1v1h-1zM86 28h1v1h-1zM92 28h1v1h-1zM94 28h1v1h-1zM130 28h1v1h-1zM140 28h1v1h-1zM144 28h2v1h-2zM150 28h1v1h-1zM9 29h2v1h-2zM49 29h1v1h-1zM55 29h1v1h-1zM57 29h1v1h-1zM69 29h1v1h-1zM75 29h1v1h-1zM87 29h1v1h-1zM99 29h1v1h-1zM106 29h1v1h-1zM122 29h1v1h-1zM132 29h1v1h-1zM136 29h1v1h-1zM148 29h1v1h-1zM168 29h1v1h-1zM172 29h1v1h-1zM175 29h1v1h-1zM19 30h1v1h-1zM27 30h1v1h-1zM34 30h1v1h-1zM38 30h1v1h-1zM53 30h1v1h-1zM56 30h2v1h-2zM70 30h1v1h-1zM72 30h1v1h-1zM76 30h1v1h-1zM79 30h1v1h-1zM130 30h1v1h-1zM135 30h1v1h-1zM145 30h1v1h-1zM149 30h1v1h-1zM154 30h1v1h-1zM4 31h1v1h-1zM40 31h1v1h-1zM54 31h1v1h-1zM71 31h1v1h-1zM103 31h1v1h-1zM116 31h1v1h-1zM121 31h1v1h-1zM127 31h1v1h-1zM131 31h1v1h-1zM151 31h1v1h-1zM162 31h1v1h-1zM175 31h1v1h-1zM21 32h1v1h-1zM36 32h1v1h-1zM39 32h2v1h-2zM46 32h1v1h-1zM53 32h1v1h-1zM69 32h1v1h-1zM74 32h1v1h-1zM84 32h1v1h-1zM92 32h1v1h-1zM101 32h1v1h-1zM148 32h1v1h-1zM0 33h1v1h-1zM8 33h1v1h-1zM12 33h1v1h-1zM15 33h1v1h-1zM41 33h1v1h-1zM45 33h1v1h-1zM79 33h1v1h-1zM93 33h1v1h-1zM101 33h1v1h-1zM122 33h1v1h-1zM158 33h1v1h-1zM166 33h1v1h-1zM0 34h1v1h-1zM9 34h1v1h-1zM20 34h1v1h-1zM31 34h1v1h-1zM40 34h1v1h-1zM69 34h1v1h-1zM92 34h1v1h-1zM141 34h1v1h-1zM157 34h1v1h-1zM162 34h1v1h-1zM170 34h1v1h-1zM4 35h1v1h-1zM7 35h1v1h-1zM80 35h1v1h-1zM90 35h1v1h-1zM105 35h1v1h-1zM113 35h1v1h-1zM137 35h1v1h-1zM146 35h1v1h-1zM152 35h1v1h-1zM154 35h1v1h-1zM168 35h1v1h-1zM32 36h1v1h-1zM72 36h1v1h-1zM83 36h2v1h-2zM89 36h1v1h-1zM97 36h1v1h-1zM143 36h1v1h-1zM148 36h1v1h-1zM160 36h1v1h-1zM167 36h1v1h-1zM37 37h1v1h-1zM86 37h1v1h-1zM90 37h1v1h-1zM96 37h1v1h-1zM110 37h1v1h-1zM174 37h1v1h-1zM3 38h1v1h-1zM58 38h1v1h-1zM64 38h1v1h-1zM67 38h1v1h-1zM76 38h1v1h-1zM90 38h1v1h-1zM128 38h1v1h-1zM132 38h1v1h-1zM140 38h1v1h-1zM151 38h1v1h-1zM174 38h1v1h-1zM49 39h1v1h-1zM63 39h1v1h-1zM70 39h1v1h-1zM72 39h1v1h-1zM77 39h1v1h-1zM96 39h1v1h-1zM108 39h1v1h-1zM118 39h1v1h-1zM123 39h1v1h-1zM132 39h1v1h-1zM161 39h1v1h-1zM164 39h1v1h-1zM15 40h1v1h-1zM54 40h1v1h-1zM73 40h1v1h-1zM83 40h1v1h-1zM85 40h1v1h-1zM88 40h1v1h-1zM94 40h1v1h-1zM100 40h1v1h-1zM105 40h1v1h-1zM114 40h1v1h-1zM120 40h1v1h-1zM125 40h1v1h-1zM137 40h1v1h-1zM139 40h1v1h-1zM163 40h1v1h-1zM7 41h1v1h-1zM27 41h1v1h-1zM48 41h1v1h-1zM76 41h1v1h-1zM103 41h1v1h-1zM140 41h1v1h-1zM144 41h1v1h-1zM148 41h1v1h-1zM11 42h1v1h-1zM49 42h1v1h-1zM72 42h1v1h-1zM77 42h1v1h-1zM83 42h1v1h-1zM85 42h1v1h-1zM108 42h2v1h-2zM117 42h1v1h-1zM136 42h1v1h-1zM140 42h1v1h-1zM150 42h1v1h-1zM157 42h2v1h-2zM162 42h1v1h-1zM165 42h1v1h-1zM1 43h1v1h-1zM59 43h2v1h-2zM62 43h1v1h-1zM85 43h1v1h-1zM87 43h1v1h-1zM95 43h2v1h-2zM107 43h1v1h-1zM112 43h1v1h-1zM123 43h1v1h-1zM146 43h1v1h-1zM160 43h2v1h-2zM171 43h1v1h-1zM8 44h2v1h-2zM44 44h1v1h-1zM54 44h1v1h-1zM72 44h1v1h-1zM74 44h1v1h-1zM81 44h1v1h-1zM87 44h1v1h-1zM97 44h2v1h-2zM115 44h1v1h-1zM135 44h1v1h-1zM166 44h2v1h-2zM170 44h2v1h-2zM176 44h1v1h-1zM47 45h1v1h-1zM56 45h1v1h-1zM61 45h1v1h-1zM66 45h1v1h-1zM69 45h1v1h-1zM98 45h1v1h-1zM104 45h1v1h-1zM107 45h2v1h-2zM129 45h1v1h-1zM136 45h1v1h-1zM150 45h1v1h-1zM164 45h1v1h-1zM1 46h1v1h-1zM10 46h2v1h-2zM47 46h1v1h-1zM62 46h1v1h-1zM89 46h1v1h-1zM108 46h1v1h-1zM131 46h1v1h-1zM137 46h2v1h-2zM157 46h1v1h-1zM164 46h1v1h-1zM166 46h2v1h-2zM170 46h1v1h-1zM3 47h1v1h-1zM21 47h1v1h-1zM49 47h1v1h-1zM57 47h1v1h-1zM61 47h1v1h-1zM96 47h1v1h-1zM104 47h1v1h-1zM108 47h1v1h-1zM117 47h1v1h-1zM140 47h1v1h-1zM142 47h1v1h-1zM170 47h1v1h-1zM175 47h1v1h-1zM0 48h1v1h-1zM20 48h1v1h-1zM49 48h1v1h-1zM51 48h1v1h-1zM54 48h1v1h-1zM68 48h1v1h-1zM70 48h1v1h-1zM80 48h1v1h-1zM91 48h1v1h-1zM93 48h1v1h-1zM115 48h2v1h-2zM123 48h1v1h-1zM125 48h1v1h-1zM138 48h2v1h-2zM162 48h1v1h-1zM4 49h1v1h-1zM10 49h1v1h-1zM41 49h1v1h-1zM48 49h1v1h-1zM65 49h1v1h-1zM73 49h1v1h-1zM88 49h1v1h-1zM99 49h1v1h-1zM107 49h1v1h-1zM109 49h1v1h-1zM113 49h1v1h-1zM133 49h1v1h-1zM148 49h1v1h-1zM163 49h2v1h-2z"/>
<path fill="#eb9073" d="M2 0h1v1h-1zM11 0h2v1h-2zM33 0h1v1h-1zM38 0h1v1h-1zM70 0h1v1h-1zM77 0h2v1h-2zM81 0h1v1h-1zM98 0h1v1h-1zM11 1h1v1h-1zM15 1h2v1h-2zM33 1h1v1h-1zM37 1h1v1h-1zM97 1h1v1h-1zM105 1h1v1h-1zM154 1h1v1h-1zM5 2h1v1h-1zM9 2h1v1h-1zM18 2h1v1h-1zM28 2h2v1h-2zM35 2h1v1h-1zM50 2h1v1h-1zM76 2h1v1h-1zM78 2h1v1h-1zM121 2h1v1h-1zM173 2h1v1h-1zM2 3h1v1h-1zM14 3h1v1h-1zM17 3h1v1h-1zM23 3h1v1h-1zM36 3h1v1h-1zM56 3h1v1h-1zM64 3h1v1h-1zM67 3h1v1h-1zM69 3h1v1h-1zM74 3h1v1h-1zM113 3h1v1h-1zM117 3h1v1h-1zM129 3h1v1h-1zM138 3h1v1h-1zM21 4h1v1h-1zM26 4h1v1h-1zM29 4h1v1h-1zM58 4h1v1h-1zM64 4h1v1h-1zM76 4h1v1h-1zM92 4h1v1h-1zM95 4h1v1h-1zM111 4h1v1h-1zM114 4h1v1h-1zM8 5h1v1h-1zM29 5h1v1h-1zM47 5h1v1h-1zM54 5h2v1h-2zM64 5h1v1h-1zM66 5h1v1h-1zM69 5h1v1h-1zM72 5h1v1h-1zM76 5h1v1h-1zM82 5h1v1h-1zM102 5h1v1h-1zM162 5h1v1h-1zM17 6h1v1h-1zM39 6h1v1h-1zM49 6h1v1h-1zM63 6h1v1h-1zM67 6h1v1h-1zM120 6h1v1h-1zM122 6h1v1h-1zM137 6h1v1h-1zM28 7h1v1h-1zM32 7h2v1h-2zM43 7h1v1h-1zM48 7h3v1h-3zM62 7h1v1h-1zM75 7h1v1h-1zM124 7h1v1h-1zM130 7h1v1h-1zM133 7h1v1h-1zM150 7h1v1h-1zM156 7h1v1h-1zM171 7h1v1h-1zM175 7h1v1h-1zM13 8h1v1h-1zM21 8h1v1h-1zM30 8h1v1h-1zM32 8h1v1h-1zM36 8h1v1h-1zM55 8h1v1h-1zM70 8h1v1h-1zM80 8h1v1h-1zM121 8h1v1h-1zM128 8h2v1h-2zM154 8h1v1h-1zM166 8h1v1h-1zM175 8h1v1h-1zM11 9h1v1h-1zM17 9h1v1h-1zM29 9h1v1h-1zM33 9h1v1h-1zM80 9h1v1h-1zM128 9h2v1h-2zM133 9h1v1h-1zM139 9h1v1h-1zM154 9h2v1h-2zM173 9h1v1h-1zM177 9h1v1h-1zM11 10h1v1h-1zM26 10h1v1h-1zM32 10h1v1h-1zM38 10h1v1h-1zM42 10h1v1h-1zM45 10h1v1h-1zM55 10h3v1h-3zM61 10h1v1h-1zM73 10h1v1h-1zM77 10h1v1h-1zM79 10h1v1h-1zM123 10h1v1h-1zM12 11h1v1h-1zM14 11h2v1h-2zM34 11h1v1h-1zM44 11h1v1h-1zM50 11h2v1h-2zM56 11h1v1h-1zM58 11h1v1h-1zM73 11h1v1h-1zM79 11h2v1h-2zM133 11h1v1h-1zM152 11h1v1h-1zM165 11h1v1h-1zM12 12h1v1h-1zM33 12h1v1h-1zM51 12h1v1h-1zM54 12h1v1h-1zM84 12h1v1h-1zM87 12h2v1h-2zM128 12h1v1h-1zM137 12h1v1h-1zM142 12h1v1h-1zM173 12h1v1h-1zM36 13h1v1h-1zM38 13h1v1h-1zM44 13h1v1h-1zM47 13h1v1h-1zM55 13h1v1h-1zM67 13h1v1h-1zM82 13h2v1h-2zM136 13h1v1h-1zM165 13h1v1h-1zM173 13h1v1h-1zM4 14h1v1h-1zM28 14h1v1h-1zM30 14h1v1h-1zM40 14h1v1h-1zM74 14h2v1h-2zM85 14h1v1h-1zM119 14h1v1h-1zM134 14h1v1h-1zM136 14h1v1h-1zM160 14h1v1h-1zM164 14h1v1h-1zM12 15h1v1h-1zM24 15h1v1h-1zM34 15h1v1h-1zM43 15h2v1h-2zM66 15h1v1h-1zM73 15h1v1h-1zM78 15h3v1h-3zM137 15h1v1h-1zM142 15h1v1h-1zM145 15h1v1h-1zM166 15h1v1h-1zM169 15h1v1h-1zM5 16h1v1h-1zM9 16h1v1h-1zM13 16h1v1h-1zM36 16h2v1h-2zM60 16h1v1h-1zM89 16h1v1h-1zM98 16h1v1h-1zM103 16h1v1h-1zM132 16h1v1h-1zM148 16h1v1h-1zM164 16h1v1h-1zM9 17h1v1h-1zM15 17h1v1h-1zM21 17h1v1h-1zM128 17h1v1h-1zM11 18h1v1h-1zM21 18h1v1h-1zM41 18h1v1h-1zM52 18h1v1h-1zM95 18h1v1h-1zM114 18h1v1h-1zM118 18h1v1h-1zM136 18h1v1h-1zM145 18h1v1h-1zM15 19h1v1h-1zM28 19h1v1h-1zM30 19h1v1h-1zM34 19h1v1h-1zM36 19h1v1h-1zM51 19h1v1h-1zM59 19h2v1h-2zM64 19h1v1h-1zM146 19h1v1h-1zM166 19h1v1h-1zM25 20h1v1h-1zM38 20h1v1h-1zM68 20h1v1h-1zM72 20h1v1h-1zM77 20h1v1h-1zM96 20h1v1h-1zM102 20h1v1h-1zM16 21h1v1h-1zM98 21h1v1h-1zM110 21h1v1h-1zM133 21h1v1h-1zM172 21h1v1h-1zM22 22h1v1h-1zM26 22h1v1h-1zM44 22h2v1h-2zM55 22h1v1h-1zM72 22h1v1h-1zM110 22h1v1h-1zM115 22h1v1h-1zM117 22h1v1h-1zM130 22h1v1h-1zM166 22h1v1h-1zM14 23h1v1h-1zM16 23h1v1h-1zM67 23h1v1h-1zM106 23h1v1h-1zM108 23h1v1h-1zM115 23h1v1h-1zM128 23h1v1h-1zM130 23h1v1h-1zM159 23h1v1h-1zM19 24h1v1h-1zM41 24h1v1h-1zM118 24h1v1h-1zM167 24h1v1h-1zM172 24h1v1h-1zM32 25h1v1h-1zM60 25h1v1h-1zM68 25h1v1h-1zM99 25h1v1h-1zM119 25h1v1h-1zM132 25h1v1h-1zM135 25h1v1h-1zM142 25h1v1h-1zM150 25h1v1h-1zM154 25h1v1h-1zM167 25h2v1h-2zM175 25h1v1h-1zM35 26h1v1h-1zM59 26h1v1h-1zM62 26h1v1h-1zM65 26h1v1h-1zM86 26h1v1h-1zM103 26h1v1h-1zM119 26h1v1h-1zM127 26h2v1h-2zM133 26h1v1h-1zM136 26h1v1h-1zM149 26h1v1h-1zM163 26h1v1h-1zM172 26h1v1h-1zM10 27h1v1h-1zM19 27h1v1h-1zM78 27h1v1h-1zM80 27h1v1h-1zM119 27h2v1h-2zM136 27h1v1h-1zM140 27h1v1h-1zM154 27h1v1h-1zM162 27h1v1h-1zM165 27h2v1h-2zM4 28h1v1h-1zM36 28h1v1h-1zM49 28h1v1h-1zM54 28h2v1h-2zM63 28h1v1h-1zM67 28h1v1h-1zM83 28h1v1h-1zM120 28h2v1h-2zM135 28h2v1h-2zM142 28h1v1h-1zM147 28h1v1h-1zM151 28h1v1h-1zM161 28h2v1h-2zM164 28h1v1h-1zM58 29h1v1h-1zM67 29h1v1h-1zM76 29h1v1h-1zM79 29h1v1h-1zM81 29h1v1h-1zM89 29h1v1h-1zM107 29h1v1h-1zM142 29h1v1h-1zM153 29h1v1h-1zM169 29h1v1h-1zM177 29h1v1h-1zM1 30h1v1h-1zM8 30h1v1h-1zM62 30h1v1h-1zM82 30h2v1h-2zM85 30h1v1h-1zM119 30h2v1h-2zM124 30h1v1h-1zM127 30h1v1h-1zM129 30h1v1h-1zM136 30h1v1h-1zM150 30h1v1h-1zM161 30h1v1h-1zM163 30h1v1h-1zM32 31h1v1h-1zM77 31h1v1h-1zM79 31h1v1h-1zM89 31h1v1h-1zM119 31h2v1h-2zM123 31h3v1h-3zM129 31h1v1h-1zM133 31h1v1h-1zM164 31h1v1h-1zM1 32h1v1h-1zM7 32h2v1h-2zM33 32h1v1h-1zM37 32h1v1h-1zM43 32h1v1h-1zM51 32h1v1h-1zM90 32h1v1h-1zM108 32h1v1h-1zM115 32h1v1h-1zM1 33h1v1h-1zM5 33h1v1h-1zM14 33h1v1h-1zM20 33h1v1h-1zM102 33h1v1h-1zM113 33h1v1h-1zM127 33h1v1h-1zM4 34h1v1h-1zM11 34h1v1h-1zM42 34h1v1h-1zM73 34h1v1h-1zM81 34h1v1h-1zM89 34h1v1h-1zM101 34h2v1h-2zM106 34h1v1h-1zM108 34h1v1h-1zM126 34h2v1h-2zM165 34h1v1h-1zM171 34h1v1h-1zM0 35h1v1h-1zM10 35h2v1h-2zM57 35h1v1h-1zM84 35h2v1h-2zM96 35h1v1h-1zM108 35h2v1h-2zM119 35h1v1h-1zM158 35h1v1h-1zM160 35h1v1h-1zM164 35h1v1h-1zM5 36h1v1h-1zM21 36h1v1h-1zM60 36h1v1h-1zM91 36h1v1h-1zM93 36h1v1h-1zM95 36h1v1h-1zM102 36h1v1h-1zM106 36h1v1h-1zM118 36h1v1h-1zM144 36h1v1h-1zM156 36h1v1h-1zM163 36h1v1h-1zM168 36h1v1h-1zM5 37h1v1h-1zM14 37h1v1h-1zM31 37h1v1h-1zM62 37h1v1h-1zM84 37h1v1h-1zM109 37h1v1h-1zM133 37h2v1h-2zM137 37h1v1h-1zM160 37h1v1h-1zM12 38h1v1h-1zM38 38h1v1h-1zM47 38h2v1h-2zM51 38h1v1h-1zM70 38h1v1h-1zM89 38h1v1h-1zM98 38h1v1h-1zM110 38h1v1h-1zM115 38h1v1h-1zM118 38h1v1h-1zM126 38h2v1h-2zM143 38h2v1h-2zM152 38h1v1h-1zM172 38h1v1h-1zM10 39h1v1h-1zM47 39h1v1h-1zM67 39h1v1h-1zM76 39h1v1h-1zM91 39h1v1h-1zM146 39h1v1h-1zM3 40h2v1h-2zM58 40h1v1h-1zM66 40h1v1h-1zM79 40h1v1h-1zM82 40h1v1h-1zM84 40h1v1h-1zM102 40h1v1h-1zM108 40h1v1h-1zM129 40h1v1h-1zM148 40h1v1h-1zM151 40h1v1h-1zM165 40h1v1h-1zM6 41h1v1h-1zM47 41h1v1h-1zM67 41h1v1h-1zM72 41h1v1h-1zM86 41h1v1h-1zM91 41h1v1h-1zM108 41h1v1h-1zM137 41h1v1h-1zM139 41h1v1h-1zM152 41h1v1h-1zM169 41h1v1h-1zM177 41h1v1h-1zM35 42h1v1h-1zM50 42h1v1h-1zM55 42h2v1h-2zM69 42h1v1h-1zM80 42h1v1h-1zM95 42h1v1h-1zM102 42h1v1h-1zM112 42h1v1h-1zM116 42h1v1h-1zM122 42h1v1h-1zM133 42h2v1h-2zM138 42h1v1h-1zM142 42h1v1h-1zM147 42h1v1h-1zM171 42h1v1h-1zM177 42h1v1h-1zM2 43h1v1h-1zM49 43h1v1h-1zM61 43h1v1h-1zM74 43h2v1h-2zM97 43h1v1h-1zM100 43h1v1h-1zM108 43h1v1h-1zM111 43h1v1h-1zM142 43h1v1h-1zM145 43h1v1h-1zM153 43h1v1h-1zM170 43h1v1h-1zM61 44h1v1h-1zM66 44h1v1h-1zM78 44h1v1h-1zM82 44h2v1h-2zM94 44h1v1h-1zM96 44h1v1h-1zM101 44h3v1h-3zM107 44h1v1h-1zM110 44h1v1h-1zM121 44h1v1h-1zM137 44h1v1h-1zM147 44h1v1h-1zM159 44h1v1h-1zM175 44h1v1h-1zM74 45h1v1h-1zM80 45h1v1h-1zM93 45h1v1h-1zM151 45h1v1h-1zM162 45h1v1h-1zM60 46h1v1h-1zM72 46h1v1h-1zM74 46h1v1h-1zM79 46h1v1h-1zM81 46h1v1h-1zM98 46h1v1h-1zM102 46h1v1h-1zM104 46h1v1h-1zM116 46h1v1h-1zM124 46h1v1h-1zM128 46h1v1h-1zM158 46h1v1h-1zM5 47h1v1h-1zM11 47h1v1h-1zM66 47h1v1h-1zM80 47h1v1h-1zM102 47h2v1h-2zM105 47h1v1h-1zM114 47h1v1h-1zM118 47h1v1h-1zM128 47h1v1h-1zM152 47h1v1h-1zM157 47h1v1h-1zM10 48h1v1h-1zM64 48h1v1h-1zM66 48h1v1h-1zM97 48h1v1h-1zM102 48h1v1h-1zM108 48h1v1h-1zM118 48h1v1h-1zM126 48h1v1h-1zM140 48h2v1h-2zM157 48h1v1h-1zM160 48h1v1h-1zM166 48h1v1h-1zM1 49h1v1h-1zM23 49h1v1h-1zM34 49h1v1h-1zM57 49h1v1h-1zM77 49h1v1h-1zM80 49h1v1h-1zM104 49h1v1h-1zM110 49h1v1h-1zM115 49h1v1h-1zM117 49h1v1h-1zM119 49h1v1h-1zM141 49h1v1h-1z"/>
<path fill="#e27b62" d="M6 0h1v1h-1zM13 0h1v1h-1zM17 0h1v1h-1zM24 0h1v1h-1zM26 0h1v1h-1zM29 0h1v1h-1zM32 0h1v1h-1zM36 0h1v1h-1zM41 0h1v1h-1zM43 0h1v1h-1zM45 0h1v1h-1zM87 0h2v1h-2zM141 0h1v1h-1zM0 1h1v1h-1zM7 1h2v1h-2zM13 1h1v1h-1zM22 1h2v1h-2zM25 1h1v1h-1zM27 1h1v1h-1zM63 1h2v1h-2zM88 1h1v1h-1zM122 1h1v1h-1zM12 2h1v1h-1zM17 2h1v1h-1zM31 2h1v1h-1zM37 2h1v1h-1zM40 2h1v1h-1zM47 2h1v1h-1zM65 2h1v1h-1zM162 2h1v1h-1zM1 3h1v1h-1zM6 3h1v1h-1zM48 3h1v1h-1zM51 3h1v1h-1zM54 3h1v1h-1zM58 3h1v1h-1zM125 3h1v1h-1zM141 3h1v1h-1zM0 4h1v1h-1zM7 4h1v1h-1zM19 4h1v1h-1zM80 4h1v1h-1zM88 4h1v1h-1zM127 4h1v1h-1zM134 4h1v1h-1zM169 4h1v1h-1zM0 5h1v1h-1zM111 5h1v1h-1zM114 5h1v1h-1zM118 5h1v1h-1zM173 5h1v1h-1zM16 6h1v1h-1zM32 6h1v1h-1zM35 6h1v1h-1zM48 6h1v1h-1zM53 6h1v1h-1zM55 6h2v1h-2zM58 6h2v1h-2zM64 6h2v1h-2zM144 6h1v1h-1zM14 7h1v1h-1zM25 7h1v1h-1zM51 7h1v1h-1zM57 7h1v1h-1zM59 7h1v1h-1zM61 7h1v1h-1zM78 7h1v1h-1zM154 7h1v1h-1zM54 8h1v1h-1zM62 8h2v1h-2zM72 8h2v1h-2zM82 8h1v1h-1zM84 8h1v1h-1zM95 8h1v1h-1zM99 8h1v1h-1zM140 8h1v1h-1zM158 8h1v1h-1zM162 8h1v1h-1zM164 8h1v1h-1zM10 9h1v1h-1zM14 9h1v1h-1zM30 9h1v1h-1zM38 9h1v1h-1zM42 9h1v1h-1zM59 9h1v1h-1zM66 9h1v1h-1zM71 9h3v1h-3zM75 9h2v1h-2zM84 9h1v1h-1zM86 9h1v1h-1zM88 9h1v1h-1zM120 9h1v1h-1zM122 9h1v1h-1zM143 9h1v1h-1zM157 9h1v1h-1zM167 9h1v1h-1zM9 10h1v1h-1zM15 10h1v1h-1zM34 10h1v1h-1zM37 10h1v1h-1zM43 10h1v1h-1zM47 10h2v1h-2zM54 10h1v1h-1zM59 10h1v1h-1zM62 10h2v1h-2zM71 10h1v1h-1zM85 10h2v1h-2zM122 10h1v1h-1zM132 10h1v1h-1zM148 10h1v1h-1zM154 10h1v1h-1zM156 10h1v1h-1zM158 10h3v1h-3zM168 10h1v1h-1zM26 11h1v1h-1zM35 11h1v1h-1zM43 11h1v1h-1zM54 11h1v1h-1zM82 11h1v1h-1zM88 11h1v1h-1zM137 11h1v1h-1zM148 11h1v1h-1zM14 12h1v1h-1zM19 12h1v1h-1zM23 12h1v1h-1zM35 12h2v1h-2zM47 12h2v1h-2zM75 12h1v1h-1zM77 12h1v1h-1zM130 12h1v1h-1zM133 12h1v1h-1zM136 12h1v1h-1zM151 12h1v1h-1zM1 13h1v1h-1zM12 13h1v1h-1zM14 13h1v1h-1zM27 13h1v1h-1zM35 13h1v1h-1zM58 13h1v1h-1zM66 13h1v1h-1zM70 13h1v1h-1zM120 13h1v1h-1zM124 13h1v1h-1zM130 13h1v1h-1zM133 13h1v1h-1zM145 13h1v1h-1zM148 13h1v1h-1zM150 13h1v1h-1zM35 14h1v1h-1zM77 14h1v1h-1zM79 14h2v1h-2zM84 14h1v1h-1zM128 14h1v1h-1zM133 14h1v1h-1zM135 14h1v1h-1zM140 14h1v1h-1zM22 15h1v1h-1zM61 15h1v1h-1zM64 15h1v1h-1zM70 15h1v1h-1zM74 15h1v1h-1zM81 15h1v1h-1zM84 15h1v1h-1zM141 15h1v1h-1zM165 15h1v1h-1zM16 16h1v1h-1zM24 16h1v1h-1zM28 16h1v1h-1zM34 16h1v1h-1zM40 16h1v1h-1zM110 16h1v1h-1zM128 16h1v1h-1zM140 16h1v1h-1zM144 16h1v1h-1zM176 16h1v1h-1zM17 17h1v1h-1zM26 17h1v1h-1zM28 17h3v1h-3zM38 17h1v1h-1zM51 17h1v1h-1zM68 17h1v1h-1zM96 17h1v1h-1zM103 17h1v1h-1zM13 18h1v1h-1zM17 18h1v1h-1zM19 18h1v1h-1zM27 18h2v1h-2zM36 18h1v1h-1zM39 18h1v1h-1zM42 18h1v1h-1zM46 18h1v1h-1zM72 18h1v1h-1zM78 18h1v1h-1zM129 18h1v1h-1zM140 18h1v1h-1zM172 18h1v1h-1zM21 19h1v1h-1zM23 19h2v1h-2zM27 19h1v1h-1zM33 19h1v1h-1zM40 19h1v1h-1zM46 19h1v1h-1zM63 19h1v1h-1zM98 19h1v1h-1zM125 19h1v1h-1zM144 19h1v1h-1zM152 19h1v1h-1zM172 19h1v1h-1zM23 20h1v1h-1zM26 20h1v1h-1zM37 20h1v1h-1zM40 20h2v1h-2zM63 20h1v1h-1zM114 20h1v1h-1zM153 20h1v1h-1zM20 21h1v1h-1zM28 21h1v1h-1zM32 21h1v1h-1zM34 21h1v1h-1zM41 21h1v1h-1zM69 21h1v1h-1zM76 21h1v1h-1zM104 21h1v1h-1zM118 21h1v1h-1zM127 21h1v1h-1zM130 21h1v1h-1zM145 21h1v1h-1zM162 21h1v1h-1zM11 22h1v1h-1zM14 22h1v1h-1zM16 22h1v1h-1zM29 22h1v1h-1zM34 22h1v1h-1zM36 22h1v1h-1zM76 22h1v1h-1zM93 22h1v1h-1zM141 22h1v1h-1zM145 22h1v1h-1zM152 22h1v1h-1zM165 22h1v1h-1zM21 23h1v1h-1zM23 23h1v1h-1zM27 23h1v1h-1zM34 23h1v1h-1zM43 23h2v1h-2zM68 23h1v1h-1zM78 23h1v1h-1zM100 23h1v1h-1zM112 23h1v1h-1zM114 23h1v1h-1zM122 23h1v1h-1zM145 23h1v1h-1zM17 24h1v1h-1zM28 24h1v1h-1zM30 24h1v1h-1zM40 24h1v1h-1zM43 24h1v1h-1zM73 24h1v1h-1zM120 24h1v1h-1zM23 25h1v1h-1zM54 25h1v1h-1zM66 25h1v1h-1zM100 25h1v1h-1zM121 25h2v1h-2zM133 25h2v1h-2zM136 25h3v1h-3zM145 25h2v1h-2zM148 25h1v1h-1zM152 25h2v1h-2zM158 25h2v1h-2zM161 25h2v1h-2zM165 25h2v1h-2zM171 25h1v1h-1zM173 25h1v1h-1zM176 25h1v1h-1zM85 26h1v1h-1zM94 26h1v1h-1zM120 26h1v1h-1zM126 26h1v1h-1zM144 26h1v1h-1zM159 26h1v1h-1zM162 26h1v1h-1zM175 26h1v1h-1zM121 27h1v1h-1zM125 27h1v1h-1zM131 27h1v1h-1zM137 27h1v1h-1zM141 27h2v1h-2zM148 27h1v1h-1zM177 27h1v1h-1zM0 28h1v1h-1zM78 28h1v1h-1zM80 28h1v1h-1zM84 28h2v1h-2zM119 28h1v1h-1zM132 28h2v1h-2zM137 28h1v1h-1zM139 28h1v1h-1zM160 28h1v1h-1zM174 28h1v1h-1zM177 28h1v1h-1zM50 29h2v1h-2zM53 29h1v1h-1zM63 29h1v1h-1zM66 29h1v1h-1zM77 29h1v1h-1zM80 29h1v1h-1zM86 29h1v1h-1zM92 29h1v1h-1zM94 29h1v1h-1zM125 29h1v1h-1zM137 29h1v1h-1zM145 29h1v1h-1zM147 29h1v1h-1zM165 29h1v1h-1zM6 30h1v1h-1zM32 30h1v1h-1zM40 30h1v1h-1zM46 30h1v1h-1zM54 30h1v1h-1zM60 30h1v1h-1zM65 30h1v1h-1zM81 30h1v1h-1zM86 30h2v1h-2zM116 30h1v1h-1zM142 30h1v1h-1zM152 30h1v1h-1zM160 30h1v1h-1zM167 30h1v1h-1zM176 30h1v1h-1zM6 31h1v1h-1zM64 31h1v1h-1zM74 31h1v1h-1zM76 31h1v1h-1zM86 31h1v1h-1zM99 31h1v1h-1zM108 31h1v1h-1zM142 31h1v1h-1zM150 31h1v1h-1zM153 31h1v1h-1zM172 31h1v1h-1zM174 31h1v1h-1zM15 32h1v1h-1zM28 32h1v1h-1zM42 32h1v1h-1zM93 32h1v1h-1zM95 32h2v1h-2zM98 32h1v1h-1zM102 32h1v1h-1zM107 32h1v1h-1zM109 32h1v1h-1zM113 32h1v1h-1zM118 32h1v1h-1zM127 32h1v1h-1zM150 32h1v1h-1zM17 33h1v1h-1zM31 33h1v1h-1zM49 33h1v1h-1zM96 33h1v1h-1zM104 33h1v1h-1zM107 33h1v1h-1zM154 33h1v1h-1zM36 34h1v1h-1zM90 34h1v1h-1zM95 34h3v1h-3zM100 34h1v1h-1zM107 34h1v1h-1zM135 34h1v1h-1zM159 34h1v1h-1zM3 35h1v1h-1zM8 35h1v1h-1zM55 35h1v1h-1zM83 35h1v1h-1zM100 35h1v1h-1zM115 35h1v1h-1zM134 35h1v1h-1zM163 35h1v1h-1zM171 35h1v1h-1zM175 35h1v1h-1zM3 36h1v1h-1zM15 36h1v1h-1zM62 36h1v1h-1zM71 36h1v1h-1zM87 36h1v1h-1zM100 36h2v1h-2zM117 36h1v1h-1zM140 36h1v1h-1zM166 36h1v1h-1zM174 36h1v1h-1zM55 37h1v1h-1zM113 37h1v1h-1zM117 37h1v1h-1zM4 38h1v1h-1zM16 38h1v1h-1zM50 38h1v1h-1zM59 38h1v1h-1zM85 38h1v1h-1zM97 38h1v1h-1zM104 38h1v1h-1zM107 38h1v1h-1zM167 38h1v1h-1zM16 39h1v1h-1zM61 39h1v1h-1zM89 39h1v1h-1zM94 39h1v1h-1zM104 39h2v1h-2zM109 39h1v1h-1zM112 39h1v1h-1zM114 39h1v1h-1zM145 39h1v1h-1zM151 39h1v1h-1zM37 40h1v1h-1zM67 40h1v1h-1zM78 40h1v1h-1zM93 40h1v1h-1zM97 40h1v1h-1zM101 40h1v1h-1zM110 40h1v1h-1zM116 40h1v1h-1zM119 40h1v1h-1zM126 40h1v1h-1zM131 40h1v1h-1zM135 40h1v1h-1zM172 40h1v1h-1zM3 41h2v1h-2zM74 41h1v1h-1zM90 41h1v1h-1zM97 41h3v1h-3zM104 41h1v1h-1zM111 41h2v1h-2zM114 41h1v1h-1zM161 41h2v1h-2zM65 42h1v1h-1zM75 42h1v1h-1zM87 42h1v1h-1zM94 42h1v1h-1zM111 42h1v1h-1zM114 42h1v1h-1zM131 42h1v1h-1zM145 42h1v1h-1zM152 42h2v1h-2zM164 42h1v1h-1zM5 43h1v1h-1zM8 43h1v1h-1zM10 43h1v1h-1zM56 43h1v1h-1zM79 43h1v1h-1zM81 43h1v1h-1zM102 43h1v1h-1zM109 43h1v1h-1zM114 43h1v1h-1zM129 43h1v1h-1zM177 43h1v1h-1zM0 44h1v1h-1zM7 44h1v1h-1zM57 44h1v1h-1zM80 44h1v1h-1zM90 44h1v1h-1zM116 44h1v1h-1zM131 44h2v1h-2zM142 44h1v1h-1zM157 44h1v1h-1zM161 44h1v1h-1zM8 45h2v1h-2zM58 45h3v1h-3zM76 45h1v1h-1zM94 45h1v1h-1zM100 45h2v1h-2zM114 45h1v1h-1zM116 45h1v1h-1zM137 45h1v1h-1zM145 45h1v1h-1zM161 45h1v1h-1zM7 46h1v1h-1zM61 46h1v1h-1zM88 46h1v1h-1zM94 46h1v1h-1zM96 46h1v1h-1zM105 46h1v1h-1zM109 46h1v1h-1zM117 46h1v1h-1zM152 46h1v1h-1zM162 46h1v1h-1zM1 47h1v1h-1zM15 47h1v1h-1zM60 47h1v1h-1zM89 47h1v1h-1zM109 47h1v1h-1zM133 47h1v1h-1zM141 47h1v1h-1zM158 47h1v1h-1zM166 47h1v1h-1zM3 48h1v1h-1zM8 48h1v1h-1zM53 48h1v1h-1zM77 48h1v1h-1zM100 48h1v1h-1zM107 48h1v1h-1zM133 48h1v1h-1zM135 48h1v1h-1zM149 48h1v1h-1zM152 48h1v1h-1zM164 48h1v1h-1zM176 48h1v1h-1zM46 49h1v1h-1zM72 49h1v1h-1zM94 49h3v1h-3zM98 49h1v1h-1zM102 49h1v1h-1zM111 49h2v1h-2zM126 49h1v1h-1zM128 49h1v1h-1zM157 49h1v1h-1zM168 49h1v1h-1z"/>
<path fill="#d86253" d="M5 0h1v1h-1zM18 0h1v1h-1zM22 0h1v1h-1zM25 0h1v1h-1zM31 0h1v1h-1zM40 0h1v1h-1zM31 1h1v1h-1zM38 1h1v1h-1zM40 1h1v1h-1zM50 1h1v1h-1zM96 1h1v1h-1zM112 1h1v1h-1zM150 1h1v1h-1zM3 2h1v1h-1zM6 2h1v1h-1zM11 2h1v1h-1zM21 2h1v1h-1zM33 2h1v1h-1zM42 2h1v1h-1zM5 3h1v1h-1zM10 3h1v1h-1zM59 3h1v1h-1zM172 3h1v1h-1zM2 4h1v1h-1zM17 4h1v1h-1zM54 4h1v1h-1zM66 4h1v1h-1zM77 4h1v1h-1zM91 4h1v1h-1zM120 4h1v1h-1zM2 5h1v1h-1zM9 5h1v1h-1zM17 5h1v1h-1zM23 5h1v1h-1zM85 5h1v1h-1zM91 5h1v1h-1zM112 5h1v1h-1zM149 5h1v1h-1zM50 6h2v1h-2zM57 6h1v1h-1zM60 6h2v1h-2zM66 6h1v1h-1zM69 6h1v1h-1zM125 6h1v1h-1zM136 6h1v1h-1zM158 6h1v1h-1zM26 7h1v1h-1zM30 7h1v1h-1zM35 7h1v1h-1zM53 7h1v1h-1zM56 7h1v1h-1zM70 7h1v1h-1zM79 7h1v1h-1zM120 7h2v1h-2zM139 7h1v1h-1zM168 7h1v1h-1zM170 7h1v1h-1zM26 8h1v1h-1zM31 8h1v1h-1zM35 8h1v1h-1zM50 8h2v1h-2zM79 8h1v1h-1zM81 8h1v1h-1zM83 8h1v1h-1zM88 8h1v1h-1zM124 8h1v1h-1zM132 8h1v1h-1zM149 8h1v1h-1zM22 9h1v1h-1zM28 9h1v1h-1zM49 9h2v1h-2zM78 9h2v1h-2zM81 9h1v1h-1zM121 9h1v1h-1zM171 9h1v1h-1zM16 10h1v1h-1zM18 10h1v1h-1zM25 10h1v1h-1zM66 10h1v1h-1zM70 10h1v1h-1zM72 10h1v1h-1zM88 10h1v1h-1zM121 10h1v1h-1zM144 10h1v1h-1zM153 10h1v1h-1zM162 10h1v1h-1zM171 10h1v1h-1zM47 11h2v1h-2zM67 11h1v1h-1zM84 11h1v1h-1zM16 12h1v1h-1zM20 12h1v1h-1zM22 12h1v1h-1zM83 12h1v1h-1zM86 12h1v1h-1zM48 13h1v1h-1zM76 13h1v1h-1zM79 13h1v1h-1zM153 13h1v1h-1zM177 13h1v1h-1zM12 14h1v1h-1zM25 14h1v1h-1zM34 14h1v1h-1zM47 14h1v1h-1zM49 14h1v1h-1zM54 14h1v1h-1zM58 14h1v1h-1zM65 14h1v1h-1zM72 14h1v1h-1zM83 14h1v1h-1zM177 14h1v1h-1zM26 15h1v1h-1zM134 15h1v1h-1zM140 15h1v1h-1zM148 15h2v1h-2zM177 15h1v1h-1zM32 16h2v1h-2zM35 16h1v1h-1zM41 16h2v1h-2zM45 16h2v1h-2zM69 16h1v1h-1zM114 16h1v1h-1zM14 17h1v1h-1zM22 17h2v1h-2zM25 17h1v1h-1zM36 17h1v1h-1zM41 17h1v1h-1zM45 17h1v1h-1zM63 17h1v1h-1zM71 17h1v1h-1zM23 18h2v1h-2zM37 18h2v1h-2zM53 18h1v1h-1zM89 18h1v1h-1zM96 18h1v1h-1zM20 19h1v1h-1zM22 19h1v1h-1zM32 19h1v1h-1zM39 19h1v1h-1zM42 19h1v1h-1zM95 19h1v1h-1zM135 19h1v1h-1zM140 19h1v1h-1zM17 20h1v1h-1zM24 20h1v1h-1zM27 20h1v1h-1zM36 20h1v1h-1zM45 20h1v1h-1zM69 20h1v1h-1zM118 20h1v1h-1zM127 20h1v1h-1zM130 20h1v1h-1zM2 21h1v1h-1zM21 21h1v1h-1zM25 21h1v1h-1zM27 21h1v1h-1zM30 21h2v1h-2zM39 21h2v1h-2zM43 21h1v1h-1zM113 21h2v1h-2zM153 21h1v1h-1zM170 21h1v1h-1zM25 22h1v1h-1zM128 22h1v1h-1zM131 22h1v1h-1zM168 22h1v1h-1zM15 23h1v1h-1zM18 23h1v1h-1zM24 23h3v1h-3zM28 23h1v1h-1zM30 23h1v1h-1zM37 23h1v1h-1zM39 23h3v1h-3zM129 23h1v1h-1zM21 24h1v1h-1zM29 24h1v1h-1zM31 24h1v1h-1zM37 24h1v1h-1zM42 24h1v1h-1zM46 24h1v1h-1zM114 24h1v1h-1zM61 25h1v1h-1zM89 25h1v1h-1zM94 25h2v1h-2zM107 25h1v1h-1zM126 25h1v1h-1zM129 25h1v1h-1zM131 25h1v1h-1zM141 25h1v1h-1zM143 25h1v1h-1zM149 25h1v1h-1zM155 25h1v1h-1zM157 25h1v1h-1zM169 25h2v1h-2zM172 25h1v1h-1zM174 25h1v1h-1zM20 26h1v1h-1zM47 26h1v1h-1zM49 26h2v1h-2zM125 26h1v1h-1zM148 26h1v1h-1zM160 26h1v1h-1zM166 26h1v1h-1zM44 27h1v1h-1zM50 27h1v1h-1zM63 27h1v1h-1zM86 27h1v1h-1zM108 27h1v1h-1zM127 27h1v1h-1zM143 27h1v1h-1zM159 27h1v1h-1zM65 28h1v1h-1zM69 28h1v1h-1zM88 28h1v1h-1zM96 28h1v1h-1zM103 28h1v1h-1zM129 28h1v1h-1zM169 28h1v1h-1zM176 28h1v1h-1zM7 29h1v1h-1zM73 29h2v1h-2zM82 29h1v1h-1zM103 29h1v1h-1zM119 29h1v1h-1zM160 29h1v1h-1zM164 29h1v1h-1zM7 30h1v1h-1zM84 30h1v1h-1zM51 31h1v1h-1zM63 31h1v1h-1zM87 31h1v1h-1zM80 32h1v1h-1zM97 32h1v1h-1zM99 32h2v1h-2zM103 32h1v1h-1zM106 32h1v1h-1zM111 32h1v1h-1zM117 32h1v1h-1zM95 33h1v1h-1zM97 33h1v1h-1zM103 33h1v1h-1zM105 33h1v1h-1zM108 33h2v1h-2zM114 33h2v1h-2zM118 33h1v1h-1zM7 34h1v1h-1zM16 34h1v1h-1zM28 34h1v1h-1zM76 34h1v1h-1zM98 34h2v1h-2zM103 34h3v1h-3zM112 34h1v1h-1zM114 34h2v1h-2zM139 34h1v1h-1zM1 35h1v1h-1zM5 35h2v1h-2zM47 35h1v1h-1zM103 35h1v1h-1zM106 35h1v1h-1zM117 35h2v1h-2zM162 35h1v1h-1zM8 36h1v1h-1zM88 36h1v1h-1zM169 36h1v1h-1zM9 37h1v1h-1zM121 37h1v1h-1zM167 37h1v1h-1zM49 38h1v1h-1zM78 38h1v1h-1zM109 38h1v1h-1zM114 38h1v1h-1zM117 38h1v1h-1zM147 38h1v1h-1zM5 39h3v1h-3zM59 39h1v1h-1zM78 39h1v1h-1zM97 39h1v1h-1zM100 39h1v1h-1zM111 39h1v1h-1zM116 39h2v1h-2zM129 39h1v1h-1zM137 39h1v1h-1zM140 39h1v1h-1zM142 39h1v1h-1zM154 39h1v1h-1zM0 40h1v1h-1zM5 40h3v1h-3zM49 40h1v1h-1zM80 40h1v1h-1zM90 40h1v1h-1zM96 40h1v1h-1zM104 40h1v1h-1zM111 40h2v1h-2zM158 40h1v1h-1zM49 41h1v1h-1zM59 41h1v1h-1zM71 41h1v1h-1zM81 41h1v1h-1zM89 41h1v1h-1zM92 41h1v1h-1zM94 41h1v1h-1zM105 41h1v1h-1zM107 41h1v1h-1zM110 41h1v1h-1zM115 41h1v1h-1zM121 41h1v1h-1zM126 41h1v1h-1zM131 41h1v1h-1zM57 42h1v1h-1zM79 42h1v1h-1zM81 42h1v1h-1zM88 42h1v1h-1zM90 42h1v1h-1zM159 42h1v1h-1zM80 43h1v1h-1zM83 43h1v1h-1zM92 43h1v1h-1zM104 43h1v1h-1zM116 43h2v1h-2zM137 43h1v1h-1zM1 44h1v1h-1zM60 44h1v1h-1zM108 44h1v1h-1zM111 44h1v1h-1zM118 44h2v1h-2zM1 45h1v1h-1zM4 45h3v1h-3zM50 45h1v1h-1zM57 45h1v1h-1zM79 45h1v1h-1zM81 45h1v1h-1zM96 45h1v1h-1zM102 45h1v1h-1zM105 45h1v1h-1zM112 45h1v1h-1zM131 45h1v1h-1zM159 45h1v1h-1zM3 46h2v1h-2zM6 46h1v1h-1zM56 46h1v1h-1zM95 46h1v1h-1zM97 46h1v1h-1zM101 46h1v1h-1zM56 47h1v1h-1zM93 47h1v1h-1zM111 47h1v1h-1zM137 47h1v1h-1zM159 47h1v1h-1zM177 47h1v1h-1zM4 48h1v1h-1zM7 48h1v1h-1zM65 48h1v1h-1zM98 48h1v1h-1zM104 48h1v1h-1zM110 48h1v1h-1zM156 48h1v1h-1zM7 49h2v1h-2zM50 49h1v1h-1zM60 49h1v1h-1zM76 49h1v1h-1zM93 49h1v1h-1zM108 49h1v1h-1zM114 49h1v1h-1zM123 49h1v1h-1z"/>
<path fill="#cf4a44" d="M16 0h1v1h-1zM30 0h1v1h-1zM46 0h1v1h-1zM74 0h1v1h-1zM96 0h1v1h-1zM113 0h1v1h-1zM162 0h1v1h-1zM14 1h1v1h-1zM20 1h2v1h-2zM46 1h1v1h-1zM157 1h1v1h-1zM0 2h1v1h-1zM46 2h1v1h-1zM9 3h1v1h-1zM3 4h4v1h-4zM9 4h1v1h-1zM82 4h1v1h-1zM5 5h1v1h-1zM7 5h1v1h-1zM58 5h1v1h-1zM65 5h1v1h-1zM120 5h1v1h-1zM14 6h1v1h-1zM47 6h1v1h-1zM54 6h1v1h-1zM68 6h1v1h-1zM127 6h1v1h-1zM149 6h1v1h-1zM165 6h1v1h-1zM54 7h1v1h-1zM72 7h1v1h-1zM165 7h1v1h-1zM24 8h1v1h-1zM39 8h1v1h-1zM43 8h1v1h-1zM64 8h1v1h-1zM77 8h1v1h-1zM87 8h1v1h-1zM120 8h1v1h-1zM170 8h1v1h-1zM173 8h1v1h-1zM64 9h1v1h-1zM83 9h1v1h-1zM148 9h1v1h-1zM170 9h1v1h-1zM14 10h1v1h-1zM39 10h1v1h-1zM49 10h1v1h-1zM60 10h1v1h-1zM64 10h1v1h-1zM75 10h1v1h-1zM138 10h1v1h-1zM152 10h1v1h-1zM63 11h1v1h-1zM77 11h1v1h-1zM81 11h1v1h-1zM85 11h3v1h-3zM15 12h1v1h-1zM43 12h1v1h-1zM134 12h1v1h-1zM140 12h1v1h-1zM2 13h1v1h-1zM43 13h1v1h-1zM77 13h1v1h-1zM85 13h1v1h-1zM126 13h2v1h-2zM43 14h1v1h-1zM68 14h1v1h-1zM78 14h1v1h-1zM20 15h1v1h-1zM38 15h1v1h-1zM48 15h1v1h-1zM87 15h1v1h-1zM133 15h1v1h-1zM22 16h1v1h-1zM29 16h2v1h-2zM38 16h2v1h-2zM43 16h1v1h-1zM31 17h2v1h-2zM40 17h1v1h-1zM42 17h3v1h-3zM118 17h1v1h-1zM31 18h1v1h-1zM33 18h1v1h-1zM40 18h1v1h-1zM45 18h1v1h-1zM71 18h1v1h-1zM100 18h1v1h-1zM37 19h2v1h-2zM103 19h1v1h-1zM30 20h1v1h-1zM32 20h1v1h-1zM110 20h1v1h-1zM22 21h1v1h-1zM24 21h1v1h-1zM29 21h1v1h-1zM42 21h1v1h-1zM44 21h1v1h-1zM85 21h1v1h-1zM20 22h1v1h-1zM23 22h1v1h-1zM31 22h2v1h-2zM40 22h1v1h-1zM74 22h1v1h-1zM31 23h1v1h-1zM36 23h1v1h-1zM110 23h1v1h-1zM25 24h2v1h-2zM32 24h1v1h-1zM36 24h1v1h-1zM137 24h1v1h-1zM14 25h1v1h-1zM49 25h1v1h-1zM53 25h1v1h-1zM125 25h1v1h-1zM127 25h2v1h-2zM130 25h1v1h-1zM151 25h1v1h-1zM160 25h1v1h-1zM164 25h1v1h-1zM177 25h1v1h-1zM67 26h1v1h-1zM73 26h1v1h-1zM141 26h1v1h-1zM147 26h1v1h-1zM153 26h1v1h-1zM53 27h1v1h-1zM61 27h1v1h-1zM67 27h1v1h-1zM73 27h1v1h-1zM164 27h1v1h-1zM173 27h1v1h-1zM6 28h1v1h-1zM51 28h1v1h-1zM74 28h1v1h-1zM76 28h1v1h-1zM79 28h1v1h-1zM122 28h1v1h-1zM154 28h2v1h-2zM163 28h1v1h-1zM165 28h1v1h-1zM172 28h1v1h-1zM175 28h1v1h-1zM60 29h1v1h-1zM62 29h1v1h-1zM70 29h1v1h-1zM72 29h1v1h-1zM84 29h1v1h-1zM35 30h1v1h-1zM74 30h1v1h-1zM138 30h2v1h-2zM147 30h1v1h-1zM151 30h1v1h-1zM172 30h1v1h-1zM44 31h1v1h-1zM49 31h1v1h-1zM65 31h1v1h-1zM130 31h1v1h-1zM144 31h2v1h-2zM4 32h2v1h-2zM17 32h1v1h-1zM104 32h2v1h-2zM112 32h1v1h-1zM114 32h1v1h-1zM16 33h1v1h-1zM39 33h1v1h-1zM98 33h3v1h-3zM106 33h1v1h-1zM110 33h3v1h-3zM117 33h1v1h-1zM131 33h1v1h-1zM37 34h1v1h-1zM109 34h3v1h-3zM118 34h1v1h-1zM21 35h1v1h-1zM68 35h1v1h-1zM123 35h1v1h-1zM133 35h1v1h-1zM150 35h1v1h-1zM90 36h1v1h-1zM92 36h1v1h-1zM104 36h2v1h-2zM107 36h2v1h-2zM177 36h1v1h-1zM91 37h1v1h-1zM162 37h1v1h-1zM166 37h1v1h-1zM73 38h1v1h-1zM77 38h1v1h-1zM92 38h1v1h-1zM105 38h1v1h-1zM103 39h1v1h-1zM107 39h1v1h-1zM113 39h1v1h-1zM121 39h1v1h-1zM172 39h1v1h-1zM59 40h1v1h-1zM98 40h1v1h-1zM152 40h1v1h-1zM1 41h1v1h-1zM109 41h1v1h-1zM116 41h1v1h-1zM149 41h1v1h-1zM151 41h1v1h-1zM96 42h1v1h-1zM119 42h1v1h-1zM137 42h1v1h-1zM141 42h1v1h-1zM161 42h1v1h-1zM4 43h1v1h-1zM6 43h1v1h-1zM88 43h1v1h-1zM103 43h1v1h-1zM138 43h1v1h-1zM152 43h1v1h-1zM4 44h1v1h-1zM69 44h1v1h-1zM76 44h1v1h-1zM79 44h1v1h-1zM88 44h1v1h-1zM105 44h1v1h-1zM0 45h1v1h-1zM73 45h1v1h-1zM77 45h1v1h-1zM115 45h1v1h-1zM158 45h1v1h-1zM2 46h1v1h-1zM9 46h1v1h-1zM107 46h1v1h-1zM145 46h1v1h-1zM161 46h1v1h-1zM0 47h1v1h-1zM6 47h1v1h-1zM88 47h1v1h-1zM97 47h1v1h-1zM101 47h1v1h-1zM161 47h1v1h-1zM136 48h1v1h-1zM5 49h1v1h-1z"/>
<path fill="#c83a3c" d="M20 0h1v1h-1zM23 0h1v1h-1zM28 0h1v1h-1zM119 1h1v1h-1zM32 2h1v1h-1zM38 2h1v1h-1zM1 4h1v1h-1zM8 4h1v1h-1zM10 4h1v1h-1zM4 5h1v1h-1zM6 5h1v1h-1zM10 5h1v1h-1zM52 6h1v1h-1zM119 6h1v1h-1zM31 7h1v1h-1zM73 7h1v1h-1zM34 8h1v1h-1zM48 8h1v1h-1zM53 8h1v1h-1zM61 8h1v1h-1zM76 8h1v1h-1zM26 9h1v1h-1zM48 9h1v1h-1zM62 9h1v1h-1zM77 9h1v1h-1zM145 9h1v1h-1zM124 10h1v1h-1zM128 10h1v1h-1zM173 10h1v1h-1zM74 11h1v1h-1zM78 11h1v1h-1zM70 12h1v1h-1zM157 12h1v1h-1zM172 12h1v1h-1zM88 13h1v1h-1zM22 14h1v1h-1zM26 14h1v1h-1zM35 15h1v1h-1zM19 16h1v1h-1zM23 16h1v1h-1zM31 16h1v1h-1zM37 17h1v1h-1zM94 17h1v1h-1zM25 18h1v1h-1zM30 18h1v1h-1zM32 18h1v1h-1zM44 18h1v1h-1zM103 18h1v1h-1zM144 18h1v1h-1zM35 19h1v1h-1zM43 19h2v1h-2zM45 21h1v1h-1zM17 22h1v1h-1zM19 23h1v1h-1zM22 23h1v1h-1zM32 23h1v1h-1zM42 23h1v1h-1zM46 23h1v1h-1zM22 24h1v1h-1zM27 24h1v1h-1zM45 24h1v1h-1zM130 24h1v1h-1zM35 25h1v1h-1zM140 25h1v1h-1zM147 25h1v1h-1zM164 26h1v1h-1zM6 29h1v1h-1zM54 29h1v1h-1zM65 29h1v1h-1zM88 29h1v1h-1zM111 29h1v1h-1zM139 29h1v1h-1zM139 31h1v1h-1zM160 31h1v1h-1zM16 32h1v1h-1zM110 32h1v1h-1zM4 33h1v1h-1zM57 33h1v1h-1zM116 33h1v1h-1zM93 34h1v1h-1zM113 34h1v1h-1zM116 34h2v1h-2zM99 35h1v1h-1zM161 35h1v1h-1zM68 36h1v1h-1zM79 36h1v1h-1zM96 36h1v1h-1zM98 36h2v1h-2zM103 36h1v1h-1zM68 37h1v1h-1zM98 37h2v1h-2zM162 38h1v1h-1zM106 39h1v1h-1zM92 40h1v1h-1zM106 40h1v1h-1zM115 40h1v1h-1zM145 40h1v1h-1zM63 41h1v1h-1zM85 41h1v1h-1zM117 41h1v1h-1zM105 42h1v1h-1zM0 43h1v1h-1zM7 43h1v1h-1zM9 43h1v1h-1zM5 44h2v1h-2zM77 44h1v1h-1zM158 44h1v1h-1zM177 44h1v1h-1zM0 46h1v1h-1zM5 46h1v1h-1zM75 46h1v1h-1zM151 46h1v1h-1zM107 47h1v1h-1zM162 47h1v1h-1zM3 49h1v1h-1z"/>
<path fill="#c22a35" d="M73 0h1v1h-1zM41 1h1v1h-1zM8 2h1v1h-1zM23 2h1v1h-1zM0 3h1v1h-1zM3 3h1v1h-1zM1 5h1v1h-1zM3 5h1v1h-1zM62 6h1v1h-1zM152 6h1v1h-1zM137 7h1v1h-1zM21 10h1v1h-1zM70 11h1v1h-1zM50 12h1v1h-1zM44 16h1v1h-1zM31 19h1v1h-1zM45 19h1v1h-1zM37 21h1v1h-1zM177 26h1v1h-1zM159 28h1v1h-1zM159 31h1v1h-1zM116 32h1v1h-1zM5 34h1v1h-1zM98 35h1v1h-1zM104 35h1v1h-1zM103 37h1v1h-1zM107 37h2v1h-2zM112 37h1v1h-1zM139 38h1v1h-1zM90 39h1v1h-1zM92 39h1v1h-1zM110 39h1v1h-1zM115 39h1v1h-1zM99 40h1v1h-1zM117 40h1v1h-1zM5 41h1v1h-1zM96 41h1v1h-1zM158 43h1v1h-1zM167 43h1v1h-1zM100 44h1v1h-1zM145 44h1v1h-1z"/>
<path fill="#b52030" d="M0 0h1v1h-1zM75 8h1v1h-1zM16 9h1v1h-1zM53 10h1v1h-1zM175 10h1v1h-1zM38 12h1v1h-1zM26 21h1v1h-1zM63 21h1v1h-1zM27 22h1v1h-1zM43 22h1v1h-1zM20 23h1v1h-1zM38 23h1v1h-1zM1 29h1v1h-1zM104 37h3v1h-3zM107 40h1v1h-1zM165 46h1v1h-1z"/>
<path fill="#a8162b" d="M3 1h1v1h-1zM49 8h1v1h-1zM88 18h1v1h-1zM114 22h1v1h-1zM23 26h1v1h-1zM84 31h1v1h-1z"/>
</g>
<text x="754.5" y="95.7" font-size="17">98-5p</text>
<text x="754.5" y="112.8" font-size="17">374a-3p</text>
<text x="754.5" y="129.9" font-size="17">30e-3p</text>
<text x="754.5" y="147.1" font-size="17">9-5p</text>
<text x="754.5" y="164.2" font-size="17">182-5p</text>
<text x="754.5" y="181.4" font-size="17">183-5p</text>
<text x="754.5" y="198.5" font-size="17">203a</text>
<text x="754.5" y="215.6" font-size="17">221-3p</text>
<text x="754.5" y="232.8" font-size="17">222-3p</text>
<text x="754.5" y="249.9" font-size="17">205-5p</text>
<text x="754.5" y="267.1" font-size="17">944</text>
<text x="754.5" y="284.2" font-size="17">149-5p</text>
<text x="754.5" y="301.3" font-size="17">152-3p</text>
<text x="754.5" y="318.5" font-size="17">27b-3p</text>
<text x="754.5" y="335.6" font-size="17">27a-3p</text>
<text x="754.5" y="352.8" font-size="17">24-3p</text>
<text x="754.5" y="369.9" font-size="17">195-5p</text>
<text x="754.5" y="387" font-size="17">26a-5p</text>
<text x="754.5" y="404.2" font-size="17">29a-3p</text>
<text x="754.5" y="421.3" font-size="17">140-5p</text>
<text x="754.5" y="438.5" font-size="17">542-3p</text>
<text x="754.5" y="455.6" font-size="17">379-5p</text>
<text x="754.5" y="472.7" font-size="17">127-3p</text>
<text x="754.5" y="489.9" font-size="17">143-3p</text>
<text x="754.5" y="507" font-size="17">145-3p</text>
<text x="754.5" y="524.2" font-size="17">21-5p</text>
<text x="754.5" y="541.3" font-size="17">22-3p</text>
<text x="754.5" y="558.4" font-size="17">22-5p</text>
<text x="754.5" y="575.6" font-size="17">210-3p</text>
<text x="754.5" y="592.7" font-size="17">423-3p</text>
<text x="754.5" y="609.9" font-size="17">193b-3p</text>
<text x="754.5" y="627" font-size="17">24-2-5p</text>
<text x="754.5" y="644.1" font-size="17">10a-5p</text>
<text x="754.5" y="661.3" font-size="17">30a-5p</text>
<text x="754.5" y="678.4" font-size="17">30a-3p</text>
<text x="754.5" y="695.6" font-size="17">338-3p</text>
<text x="754.5" y="712.7" font-size="17">375</text>
<text x="754.5" y="729.8" font-size="17">192-5p</text>
<text x="754.5" y="747" font-size="17">34a-5p</text>
<text x="754.5" y="764.1" font-size="17">141-3p</text>
<text x="754.5" y="781.3" font-size="17">200a-3p</text>
<text x="754.5" y="798.4" font-size="17">200b-3p</text>
<text x="754.5" y="815.5" font-size="17">15a-5p</text>
<text x="754.5" y="832.7" font-size="17">93-5p</text>
<text x="754.5" y="849.8" font-size="17">20a-5p</text>
<text x="754.5" y="867" font-size="17">17-5p</text>
<text x="754.5" y="884.1" font-size="17">19a-3p</text>
<text x="754.5" y="901.2" font-size="17">19b-3p</text>
<text x="754.5" y="918.4" font-size="17">20b-5p</text>
<text x="754.5" y="935.5" font-size="17">660-5p</text>
<g fill="none" stroke="#1a5fe8" stroke-width="2.1" stroke-linejoin="miter">
<path d="M825.3 125L839.6 118.4L839.6 131.6Z"/>
<path d="M812.7 193L827 186.4L827 199.6Z"/>
<path d="M825.3 244.8L839.6 238.2L839.6 251.4Z"/>
<path d="M800.7 260L815 253.4L815 266.6Z"/>
<path d="M825.3 484.4L839.6 477.8L839.6 491Z"/>
<path d="M815.2 518.8L829.5 512.2L829.5 525.4Z"/>
<path d="M815.2 535.1L829.5 528.5L829.5 541.7Z"/>
<path d="M825.3 639.3L839.6 632.7L839.6 645.9Z"/>
<path d="M825.3 656.4L839.6 649.8L839.6 663Z"/>
<path d="M800.7 705.6L815 699L815 712.2Z"/>
<path d="M825.3 757.7L839.6 751.1L839.6 764.3Z"/>
<path d="M819.9 776.9L834.2 770.3L834.2 783.5Z"/>
</g>
<path fill="none" stroke="#000" stroke-width="1.3" d="M155.6 105.5H131.6V122.7H155.6M155.6 88.4H127.6V114.1H131.6M155.6 156.9H147.6V174.1H155.6M155.6 139.8H123.6V165.5H147.6M127.6 101.2H119.6V152.6H123.6M155.6 208.4H148.6V225.5H155.6M155.6 242.6H140.6V259.8H155.6M148.6 216.9H131.6V251.2H140.6M155.6 191.2H125.6V234.1H131.6M155.6 328.3H139.6V345.5H155.6M155.6 311.2H130.6V336.9H139.6M155.6 294.1H128.6V324H130.6M155.6 276.9H125.6V309H128.6M125.6 212.6H122.6V293H125.6M155.6 362.6H137.6V379.8H155.6M155.6 396.9H132.6V414H155.6M137.6 371.2H128.6V405.5H132.6M155.6 448.3H148.6V465.5H155.6M148.6 456.9H136.6V482.6H155.6M136.6 469.7H130.6V499.7H155.6M155.6 431.2H126.6V484.7H130.6M128.6 388.3H123.6V458H126.6M122.6 252.8H114.6V423.1H123.6M119.6 126.9H110.6V338H114.6M155.6 534H136.6V551.1H155.6M155.6 568.3H131.6V585.4H155.6M155.6 602.6H131.6V619.7H155.6M131.6 576.9H125.6V611.1H131.6M136.6 542.6H120.6V594H125.6M155.6 516.9H115.6V568.3H120.6M155.6 654H145.6V671.1H155.6M155.6 636.9H127.6V662.6H145.6M155.6 705.4H128.6V722.5H155.6M155.6 688.3H123.6V714H128.6M127.6 649.7H121.6V701.1H123.6M155.6 774H147.6V791.1H155.6M155.6 756.8H131.6V782.5H147.6M155.6 739.7H128.6V769.7H131.6M155.6 842.5H148.6V859.7H155.6M155.6 876.8H148.6V893.9H155.6M148.6 851.1H141.6V885.4H148.6M155.6 825.4H134.6V868.2H141.6M155.6 808.2H131.6V846.8H134.6M155.6 911.1H128.6V928.2H155.6M131.6 827.5H124.6V919.7H128.6M128.6 754.7H122.6V873.6H124.6M121.6 675.4H113.6V814.1H122.6M115.6 542.6H109.6V744.8H113.6M110.6 232.5H105.6V643.7H109.6"/>
<path fill="none" stroke="#000" stroke-width="1.2" d="M157 77L747.6 77M165.2 19L521.8 19.6M165.2 19L165.2 77M161.8 77V66.8H172.1V77M205.1 19L205.1 56.5M199.9 77V56.5H211V59M205 77V59H218.6V67M198.5 77V73H202V77M208.5 77V67.5H212V77M214.5 77V67H225V74M221 77V74H228V77M226 75L255 76.7M321.2 19.2L321.2 42.2M317.6 77V42.2H326V74M321 77V74.2H331V77M330 75L345 76.8M398.7 19.4L398.7 46.9M393.9 77V46.9H403.6V69M397.7 77V69H409.8V73.5M400 77V73.5H418.7V77M418 75.5L440 76.8M521.8 19.6L521.8 24.3M475.7 24.3L566.8 24.3M475.7 24.3L475.7 49.1M461.2 55V49.1H490V55M456.8 77V55H466.8V66.1M461.5 72V66.1H472.3V73M459.5 77V72H463.5V77M468.5 77V73.5H476.5V77M480.4 77V55H500.4V69.5M485.6 73V69.5H514.1V77M483.5 77V73H489V77M492 76L530 76.8M566.8 24.3L566.8 52.8M558.7 58.7V52.8H575V54M555.7 77V58.7H562.4V67.6M559.4 77V67.6H566V72M563.5 77V72H566.8V77M569.7 77V54H579.3V57.7M574.2 77V57.7H583.8V59.5M578.6 77V59.5H587.2V63.1M583 77V63.1H590.4V69.5M586.7 77V69.5H594.1V73M592 77V73H598V77M600 77V74H606V77M608 77V74.5H611V77M594 72L630 76.6"/>
<line x1="157" x2="746.5" y1="943.2" y2="943.2" stroke="#e6e6e6" stroke-width="1"/>
<line x1="157" x2="746.5" y1="958.3" y2="958.3" stroke="#e6e6e6" stroke-width="1"/>
<line x1="157" x2="746.5" y1="973.4" y2="973.4" stroke="#e6e6e6" stroke-width="1"/>
<line x1="157" x2="746.5" y1="988.5" y2="988.5" stroke="#e6e6e6" stroke-width="1"/>
<path fill="#D6A128" d="M155.6 1003.6h3.6V955.3h-3.6zM158.9 1003.6h3.6V955.3h-3.6zM162.2 1003.6h3.6V945.6h-3.6zM165.5 1003.6h3.6V945.6h-3.6zM168.8 1003.6h3.6V945.6h-3.6zM172.2 1003.6h3.6V945.6h-3.6zM175.5 1003.6h3.6V945.6h-3.6zM178.8 1003.6h3.6V945.6h-3.6zM182.1 1003.6h3.6V945.6h-3.6zM185.4 1003.6h3.6V945.6h-3.6zM188.7 1003.6h3.6V945.6h-3.6z"/>
<path fill="#8B4A62" d="M192 1003.6h3.6V970.4h-3.6zM195.3 1003.6h3.6V976.4h-3.6zM198.7 1003.6h3.6V968.6h-3.6zM202 1003.6h3.6V979.4h-3.6zM205.3 1003.6h3.6V962.5h-3.6zM208.6 1003.6h3.6V958.3h-3.6zM211.9 1003.6h3.6V956.5h-3.6zM215.2 1003.6h3.6V954.1h-3.6zM218.5 1003.6h3.6V949.2h-3.6zM221.8 1003.6h3.6V948h-3.6zM225.2 1003.6h3.6V946.8h-3.6zM228.5 1003.6h3.6V946.8h-3.6zM231.8 1003.6h3.6V946.8h-3.6zM235.1 1003.6h3.6V946.8h-3.6zM238.4 1003.6h3.6V946.8h-3.6zM241.7 1003.6h3.6V946.8h-3.6zM245 1003.6h3.6V946.8h-3.6zM248.3 1003.6h3.6V946.8h-3.6zM251.6 1003.6h3.6V946.8h-3.6zM255 1003.6h3.6V946.8h-3.6zM258.3 1003.6h3.6V946.8h-3.6zM261.6 1003.6h3.6V946.8h-3.6zM264.9 1003.6h3.6V946.8h-3.6zM268.2 1003.6h3.6V946.8h-3.6zM271.5 1003.6h3.6V946.8h-3.6zM274.8 1003.6h3.6V946.8h-3.6zM278.1 1003.6h3.6V946.8h-3.6zM281.5 1003.6h3.6V946.8h-3.6zM284.8 1003.6h3.6V946.8h-3.6zM288.1 1003.6h3.6V946.8h-3.6zM291.4 1003.6h3.6V946.8h-3.6zM294.7 1003.6h3.6V946.8h-3.6zM298 1003.6h3.6V946.8h-3.6zM301.3 1003.6h3.6V946.8h-3.6zM304.6 1003.6h3.6V946.8h-3.6zM308 1003.6h3.6V946.8h-3.6z"/>
<path fill="#2E8B57" d="M311.3 1003.6h3.6V997.6h-3.6zM314.6 1003.6h3.6V947.4h-3.6zM317.9 1003.6h3.6V945.6h-3.6zM321.2 1003.6h3.6V945.6h-3.6zM324.5 1003.6h3.6V945.6h-3.6zM327.8 1003.6h3.6V945.6h-3.6zM331.1 1003.6h3.6V945.6h-3.6zM334.4 1003.6h3.6V945.6h-3.6zM337.8 1003.6h3.6V945.6h-3.6zM341.1 1003.6h3.6V945.6h-3.6zM344.4 1003.6h3.6V945.6h-3.6zM347.7 1003.6h3.6V945.6h-3.6zM351 1003.6h3.6V945.6h-3.6zM354.3 1003.6h3.6V945.6h-3.6zM357.6 1003.6h3.6V945.6h-3.6zM360.9 1003.6h3.6V945.6h-3.6zM364.3 1003.6h3.6V945.6h-3.6zM367.6 1003.6h3.6V945.6h-3.6zM370.9 1003.6h3.6V945.6h-3.6zM374.2 1003.6h3.6V945.6h-3.6zM377.5 1003.6h3.6V945.6h-3.6zM380.8 1003.6h3.6V945.6h-3.6zM384.1 1003.6h3.6V945.6h-3.6z"/>
<path fill="#551A8B" d="M387.4 1003.6h3.6V1002.4h-3.6zM390.8 1003.6h3.6V955.3h-3.6zM394.1 1003.6h3.6V949.2h-3.6zM397.4 1003.6h3.6V946.5h-3.6zM400.7 1003.6h3.6V946.5h-3.6zM404 1003.6h3.6V946.5h-3.6zM407.3 1003.6h3.6V946.5h-3.6zM410.6 1003.6h3.6V946.5h-3.6zM413.9 1003.6h3.6V946.5h-3.6zM417.2 1003.6h3.6V946.5h-3.6zM420.6 1003.6h3.6V946.5h-3.6zM423.9 1003.6h3.6V946.5h-3.6zM427.2 1003.6h3.6V946.5h-3.6zM430.5 1003.6h3.6V946.5h-3.6zM433.8 1003.6h3.6V946.5h-3.6zM437.1 1003.6h3.6V946.5h-3.6zM440.4 1003.6h3.6V946.5h-3.6zM443.7 1003.6h3.6V946.5h-3.6zM447.1 1003.6h3.6V946.5h-3.6z"/>
<path fill="#FF0000" d="M450.4 1003.6h3.3V1018.7h-3.3zM453.7 1003.6h3.6V967.4h-3.6zM457 1003.6h3.6V969.8h-3.6zM460.3 1003.6h3.6V986.1h-3.6zM463.6 1003.6h3.6V986.1h-3.6zM466.9 1003.6h3.6V988.5h-3.6zM470.2 1003.6h3.6V992.1h-3.6zM473.6 1003.6h3.6V980h-3.6zM476.9 1003.6h3.6V958.3h-3.6zM480.2 1003.6h3.6V954.7h-3.6zM483.5 1003.6h3.6V954.7h-3.6zM486.8 1003.6h3.6V952.3h-3.6zM490.1 1003.6h3.6V952.3h-3.6zM493.4 1003.6h3.6V952.3h-3.6zM496.7 1003.6h3.6V952.3h-3.6zM500 1003.6h3.6V952.3h-3.6zM503.4 1003.6h3.6V952.3h-3.6zM506.7 1003.6h3.6V952.3h-3.6zM510 1003.6h3.6V952.3h-3.6zM513.3 1003.6h3.6V952.3h-3.6zM516.6 1003.6h3.6V952.3h-3.6zM519.9 1003.6h3.6V952.3h-3.6zM523.2 1003.6h3.6V952.3h-3.6zM526.5 1003.6h3.6V952.3h-3.6zM529.9 1003.6h3.6V952.3h-3.6zM533.2 1003.6h3.6V952.3h-3.6zM536.5 1003.6h3.6V952.3h-3.6zM539.8 1003.6h3.6V952.3h-3.6zM543.1 1003.6h3.6V952.3h-3.6zM546.4 1003.6h3.6V952.3h-3.6z"/>
<path fill="#63ACEC" d="M549.7 1003.6h3.3V1025.3h-3.3zM553 1003.6h3.6V962.5h-3.6zM556.4 1003.6h3.6V979.4h-3.6zM559.7 1003.6h3.6V977h-3.6zM563 1003.6h3.6V977h-3.6zM566.3 1003.6h3.6V973.4h-3.6zM569.6 1003.6h3.6V969.8h-3.6zM572.9 1003.6h3.6V969.8h-3.6zM576.2 1003.6h3.6V961.9h-3.6zM579.5 1003.6h3.6V954.1h-3.6zM582.8 1003.6h3.6V954.1h-3.6zM586.2 1003.6h3.6V954.1h-3.6zM589.5 1003.6h3.6V952.3h-3.6zM592.8 1003.6h3.6V952.3h-3.6zM596.1 1003.6h3.6V951.1h-3.6zM599.4 1003.6h3.6V949.8h-3.6zM602.7 1003.6h3.6V949.8h-3.6zM606 1003.6h3.6V949.2h-3.6zM609.3 1003.6h3.6V948.6h-3.6zM612.7 1003.6h3.6V947.7h-3.6zM616 1003.6h3.6V947.7h-3.6zM619.3 1003.6h3.6V947.7h-3.6zM622.6 1003.6h3.6V947.7h-3.6zM625.9 1003.6h3.6V947.7h-3.6zM629.2 1003.6h3.6V947.7h-3.6zM632.5 1003.6h3.6V947.7h-3.6zM635.8 1003.6h3.6V947.7h-3.6zM639.2 1003.6h3.6V947.7h-3.6zM642.5 1003.6h3.6V947.7h-3.6zM645.8 1003.6h3.6V947.7h-3.6zM649.1 1003.6h3.6V947.7h-3.6zM652.4 1003.6h3.6V947.7h-3.6zM655.7 1003.6h3.6V947.7h-3.6zM659 1003.6h3.6V947.7h-3.6zM662.3 1003.6h3.6V947.7h-3.6zM665.6 1003.6h3.6V947.7h-3.6zM669 1003.6h3.6V947.7h-3.6zM672.3 1003.6h3.6V947.7h-3.6zM675.6 1003.6h3.6V947.7h-3.6zM678.9 1003.6h3.6V947.7h-3.6zM682.2 1003.6h3.6V947.7h-3.6zM685.5 1003.6h3.6V947.7h-3.6zM688.8 1003.6h3.6V947.7h-3.6zM692.1 1003.6h3.6V947.7h-3.6zM695.5 1003.6h3.6V947.7h-3.6zM698.8 1003.6h3.6V947.7h-3.6zM702.1 1003.6h3.6V947.7h-3.6zM705.4 1003.6h3.6V947.7h-3.6zM708.7 1003.6h3.6V947.7h-3.6zM712 1003.6h3.6V947.7h-3.6zM715.3 1003.6h3.6V947.7h-3.6zM718.6 1003.6h3.6V947.7h-3.6zM722 1003.6h3.6V947.7h-3.6zM725.3 1003.6h3.6V947.7h-3.6zM728.6 1003.6h3.6V947.7h-3.6zM731.9 1003.6h3.6V947.7h-3.6zM735.2 1003.6h3.6V947.7h-3.6zM738.5 1003.6h3.6V947.7h-3.6zM741.8 1003.6h3.6V947.7h-3.6z"/>
<text x="175" y="987.1" font-size="24" text-anchor="middle" fill="#fff">6</text>
<text x="253.6" y="987.1" font-size="24" text-anchor="middle" fill="#fff">1</text>
<text x="351.9" y="987.1" font-size="24" text-anchor="middle" fill="#fff">2</text>
<text x="421.2" y="987.1" font-size="24" text-anchor="middle" fill="#fff">4</text>
<text x="501.7" y="987.1" font-size="24" text-anchor="middle" fill="#fff">5</text>
<text x="647.8" y="987.1" font-size="24" text-anchor="middle" fill="#fff">3</text>
<path fill="none" stroke="#000" stroke-width="1.1" d="M146 943.2H148.8V1003.6H146M146 973.4H148.8"/>
<text x="143.8" y="947.8" font-size="12" text-anchor="end">1</text>
<text x="143.8" y="977.7" font-size="12" text-anchor="end">0.5</text>
<text x="143.8" y="1007.9" font-size="12" text-anchor="end">0</text>
<text x="751.8" y="971.1" font-size="19.2">Silhouette</text>
<text x="751.8" y="992.7" font-size="19.2">width</text>
<g shape-rendering="crispEdges">
<rect x="155.6" y="1033.7" width="589.5" height="23.7" fill="#08ECF4"/>
<path fill="#4D4D4D" d="M158.9 1033.7h3.3v23.7h-3.3zM168.8 1033.7h3.3v23.7h-3.3zM182.1 1033.7h3.3v23.7h-3.3zM238.4 1033.7h3.3v23.7h-3.3zM457 1033.7h16.6v23.7h-16.6zM480.2 1033.7h26.5v23.7h-26.5zM510 1033.7h16.6v23.7h-16.6zM529.9 1033.7h3.3v23.7h-3.3zM536.5 1033.7h6.6v23.7h-6.6zM546.4 1033.7h3.3v23.7h-3.3zM586.2 1033.7h3.3v23.7h-3.3zM599.4 1033.7h3.3v23.7h-3.3zM609.3 1033.7h3.3v23.7h-3.3zM665.6 1033.7h3.3v23.7h-3.3z"/>
<path fill="#8B8970" d="M162.2 1033.7h3.3v23.7h-3.3zM172.2 1033.7h6.6v23.7h-6.6zM453.7 1033.7h3.3v23.7h-3.3z"/>
<rect x="155.6" y="1061.9" width="589.5" height="25.8" fill="#FF0000"/>
<path fill="#FFFF00" d="M155.6 1061.9h3.3v25.8h-3.3zM162.2 1061.9h3.3v25.8h-3.3zM178.8 1061.9h3.3v25.8h-3.3zM195.3 1061.9h3.3v25.8h-3.3zM211.9 1061.9h3.3v25.8h-3.3zM231.8 1061.9h3.3v25.8h-3.3zM238.4 1061.9h6.6v25.8h-6.6zM255 1061.9h3.3v25.8h-3.3zM281.5 1061.9h3.3v25.8h-3.3zM291.4 1061.9h3.3v25.8h-3.3zM304.6 1061.9h3.3v25.8h-3.3zM344.4 1061.9h3.3v25.8h-3.3zM354.3 1061.9h3.3v25.8h-3.3zM394.1 1061.9h3.3v25.8h-3.3zM417.2 1061.9h3.3v25.8h-3.3zM427.2 1061.9h6.6v25.8h-6.6zM453.7 1061.9h3.3v25.8h-3.3zM460.3 1061.9h3.3v25.8h-3.3zM473.6 1061.9h3.3v25.8h-3.3zM486.8 1061.9h3.3v25.8h-3.3zM500 1061.9h3.3v25.8h-3.3zM506.7 1061.9h3.3v25.8h-3.3zM513.3 1061.9h6.6v25.8h-6.6zM523.2 1061.9h6.6v25.8h-6.6zM563 1061.9h3.3v25.8h-3.3zM579.5 1061.9h13.2v25.8h-13.2zM602.7 1061.9h3.3v25.8h-3.3zM625.9 1061.9h3.3v25.8h-3.3zM642.5 1061.9h3.3v25.8h-3.3zM649.1 1061.9h3.3v25.8h-3.3zM659 1061.9h3.3v25.8h-3.3zM698.8 1061.9h6.6v25.8h-6.6zM708.7 1061.9h3.3v25.8h-3.3zM715.3 1061.9h3.3v25.8h-3.3zM725.3 1061.9h6.6v25.8h-6.6z"/>
<path fill="#D3D3D3" d="M158.9 1061.9h3.3v25.8h-3.3zM168.8 1061.9h6.6v25.8h-6.6zM182.1 1061.9h6.6v25.8h-6.6zM235.1 1061.9h3.3v25.8h-3.3zM437.1 1061.9h3.3v25.8h-3.3zM539.8 1061.9h3.3v25.8h-3.3zM606 1061.9h3.3v25.8h-3.3z"/>
<path fill="#1A6414" d="M337.8 1061.9h3.3v25.8h-3.3zM351 1061.9h3.3v25.8h-3.3zM360.9 1061.9h3.3v25.8h-3.3zM705.4 1061.9h3.3v25.8h-3.3z"/>
<rect x="155.6" y="1094.1" width="589.5" height="25.2" fill="#000000"/>
<path fill="#D3D3D3" d="M158.9 1094.1h3.3v25.2h-3.3zM168.8 1094.1h6.6v25.2h-6.6zM182.1 1094.1h6.6v25.2h-6.6zM198.7 1094.1h6.6v25.2h-6.6zM218.5 1094.1h3.3v25.2h-3.3zM235.1 1094.1h3.3v25.2h-3.3zM271.5 1094.1h3.3v25.2h-3.3zM288.1 1094.1h3.3v25.2h-3.3zM317.9 1094.1h6.6v25.2h-6.6zM347.7 1094.1h3.3v25.2h-3.3zM364.3 1094.1h6.6v25.2h-6.6zM377.5 1094.1h3.3v25.2h-3.3zM384.1 1094.1h3.3v25.2h-3.3zM437.1 1094.1h3.3v25.2h-3.3zM503.4 1094.1h3.3v25.2h-3.3zM519.9 1094.1h3.3v25.2h-3.3zM529.9 1094.1h3.3v25.2h-3.3zM536.5 1094.1h6.6v25.2h-6.6zM546.4 1094.1h3.3v25.2h-3.3zM572.9 1094.1h6.6v25.2h-6.6zM596.1 1094.1h3.3v25.2h-3.3zM606 1094.1h3.3v25.2h-3.3zM619.3 1094.1h3.3v25.2h-3.3zM645.8 1094.1h3.3v25.2h-3.3zM662.3 1094.1h3.3v25.2h-3.3zM672.3 1094.1h6.6v25.2h-6.6zM682.2 1094.1h3.3v25.2h-3.3zM705.4 1094.1h3.3v25.2h-3.3zM712 1094.1h3.3v25.2h-3.3z"/>
<rect x="155.6" y="1123.6" width="589.5" height="25.8" fill="#D3D3D3"/>
<path fill="#000000" d="M158.9 1123.6h3.3v25.8h-3.3zM168.8 1123.6h6.6v25.8h-6.6zM182.1 1123.6h6.6v25.8h-6.6zM536.5 1123.6h6.6v25.8h-6.6zM606 1123.6h3.3v25.8h-3.3z"/>
<rect x="155.6" y="1123.6" width="589.5" height="25.8" fill="none" stroke="#bdbdbd" stroke-width="1"/>
<rect x="155.6" y="1156.1" width="589.5" height="25.5" fill="#FFA500"/>
<path fill="#FFFF00" d="M155.6 1156.1h3.3v25.5h-3.3zM178.8 1156.1h3.3v25.5h-3.3zM195.3 1156.1h3.3v25.5h-3.3zM202 1156.1h3.3v25.5h-3.3zM215.2 1156.1h9.9v25.5h-9.9zM238.4 1156.1h3.3v25.5h-3.3zM251.6 1156.1h3.3v25.5h-3.3zM268.2 1156.1h6.6v25.5h-6.6zM284.8 1156.1h9.9v25.5h-9.9zM301.3 1156.1h3.3v25.5h-3.3zM317.9 1156.1h3.3v25.5h-3.3zM327.8 1156.1h3.3v25.5h-3.3zM334.4 1156.1h3.3v25.5h-3.3zM351 1156.1h3.3v25.5h-3.3zM357.6 1156.1h13.2v25.5h-13.2zM374.2 1156.1h3.3v25.5h-3.3zM394.1 1156.1h6.6v25.5h-6.6zM404 1156.1h9.9v25.5h-9.9zM420.6 1156.1h6.6v25.5h-6.6zM450.4 1156.1h6.6v25.5h-6.6zM463.6 1156.1h3.3v25.5h-3.3zM470.2 1156.1h3.3v25.5h-3.3zM480.2 1156.1h9.9v25.5h-9.9zM513.3 1156.1h3.3v25.5h-3.3zM549.7 1156.1h3.3v25.5h-3.3zM559.7 1156.1h3.3v25.5h-3.3zM566.3 1156.1h3.3v25.5h-3.3zM579.5 1156.1h9.9v25.5h-9.9zM609.3 1156.1h13.2v25.5h-13.2zM629.2 1156.1h3.3v25.5h-3.3zM639.2 1156.1h6.6v25.5h-6.6zM659 1156.1h3.3v25.5h-3.3zM669 1156.1h9.9v25.5h-9.9zM682.2 1156.1h3.3v25.5h-3.3zM688.8 1156.1h13.2v25.5h-13.2zM712 1156.1h13.2v25.5h-13.2zM735.2 1156.1h3.3v25.5h-3.3zM741.8 1156.1h3.3v25.5h-3.3z"/>
<path fill="#D3D3D3" d="M158.9 1156.1h16.6v25.5h-16.6zM185.4 1156.1h3.3v25.5h-3.3zM225.2 1156.1h3.3v25.5h-3.3zM241.7 1156.1h3.3v25.5h-3.3zM261.6 1156.1h3.3v25.5h-3.3zM294.7 1156.1h6.6v25.5h-6.6zM337.8 1156.1h3.3v25.5h-3.3zM370.9 1156.1h3.3v25.5h-3.3zM377.5 1156.1h6.6v25.5h-6.6zM443.7 1156.1h6.6v25.5h-6.6zM460.3 1156.1h3.3v25.5h-3.3zM466.9 1156.1h3.3v25.5h-3.3zM476.9 1156.1h3.3v25.5h-3.3zM490.1 1156.1h3.3v25.5h-3.3zM496.7 1156.1h3.3v25.5h-3.3zM503.4 1156.1h9.9v25.5h-9.9zM523.2 1156.1h3.3v25.5h-3.3zM529.9 1156.1h3.3v25.5h-3.3zM536.5 1156.1h13.2v25.5h-13.2zM553 1156.1h6.6v25.5h-6.6zM563 1156.1h3.3v25.5h-3.3zM569.6 1156.1h3.3v25.5h-3.3zM576.2 1156.1h3.3v25.5h-3.3zM606 1156.1h3.3v25.5h-3.3zM685.5 1156.1h3.3v25.5h-3.3zM702.1 1156.1h3.3v25.5h-3.3zM725.3 1156.1h3.3v25.5h-3.3z"/>
<rect x="155.6" y="1156.1" width="589.5" height="25.5" fill="none" stroke="#bdbdbd" stroke-width="1"/>
<rect x="155.6" y="1187.8" width="589.5" height="26.2" fill="#fedfd4"/>
<path fill="#d72e23" d="M155.6 1187.8h3.3v26.2h-3.3zM168.8 1187.8h3.3v26.2h-3.3zM192 1187.8h3.3v26.2h-3.3zM202 1187.8h3.3v26.2h-3.3zM231.8 1187.8h3.3v26.2h-3.3zM261.6 1187.8h3.3v26.2h-3.3zM301.3 1187.8h3.3v26.2h-3.3zM539.8 1187.8h3.3v26.2h-3.3zM566.3 1187.8h3.3v26.2h-3.3zM609.3 1187.8h3.3v26.2h-3.3zM652.4 1187.8h3.3v26.2h-3.3zM705.4 1187.8h3.3v26.2h-3.3zM718.6 1187.8h3.3v26.2h-3.3z"/>
<path fill="#fca890" d="M158.9 1187.8h3.3v26.2h-3.3zM450.4 1187.8h3.3v26.2h-3.3z"/>
<path fill="#feefe9" d="M165.5 1187.8h3.3v26.2h-3.3z"/>
<path fill="#ea4e38" d="M172.2 1187.8h3.3v26.2h-3.3zM195.3 1187.8h3.3v26.2h-3.3zM225.2 1187.8h3.3v26.2h-3.3zM238.4 1187.8h3.3v26.2h-3.3zM284.8 1187.8h3.3v26.2h-3.3zM563 1187.8h3.3v26.2h-3.3zM589.5 1187.8h3.3v26.2h-3.3zM698.8 1187.8h3.3v26.2h-3.3zM715.3 1187.8h3.3v26.2h-3.3z"/>
<path fill="#fdb7a1" d="M175.5 1187.8h3.3v26.2h-3.3zM453.7 1187.8h3.3v26.2h-3.3z"/>
<path fill="#fa8367" d="M178.8 1187.8h3.3v26.2h-3.3zM268.2 1187.8h3.3v26.2h-3.3z"/>
<path fill="#f87c60" d="M182.1 1187.8h3.3v26.2h-3.3zM274.8 1187.8h3.3v26.2h-3.3z"/>
<path fill="#fed2c2" d="M185.4 1187.8h3.3v26.2h-3.3z"/>
<path fill="#fecbb8" d="M188.7 1187.8h3.3v26.2h-3.3zM380.8 1187.8h3.3v26.2h-3.3z"/>
<path fill="#f67358" d="M198.7 1187.8h3.3v26.2h-3.3z"/>
<path fill="#fca68e" d="M205.3 1187.8h3.3v26.2h-3.3zM543.1 1187.8h3.3v26.2h-3.3z"/>
<path fill="#f46d53" d="M208.6 1187.8h3.3v26.2h-3.3zM228.5 1187.8h3.3v26.2h-3.3zM241.7 1187.8h3.3v26.2h-3.3zM357.6 1187.8h3.3v26.2h-3.3zM460.3 1187.8h3.3v26.2h-3.3z"/>
<path fill="#ec513a" d="M211.9 1187.8h3.3v26.2h-3.3zM519.9 1187.8h3.3v26.2h-3.3z"/>
<path fill="#fb866b" d="M215.2 1187.8h3.3v26.2h-3.3z"/>
<path fill="#fb9a80" d="M218.5 1187.8h3.3v26.2h-3.3z"/>
<path fill="#f16148" d="M221.8 1187.8h3.3v26.2h-3.3zM592.8 1187.8h3.3v26.2h-3.3z"/>
<path fill="#f57056" d="M235.1 1187.8h3.3v26.2h-3.3z"/>
<path fill="#fb987f" d="M245 1187.8h3.3v26.2h-3.3z"/>
<path fill="#fb8b6f" d="M248.3 1187.8h3.3v26.2h-3.3zM294.7 1187.8h3.3v26.2h-3.3z"/>
<path fill="#fb967c" d="M251.6 1187.8h3.3v26.2h-3.3zM410.6 1187.8h3.3v26.2h-3.3z"/>
<path fill="#fb8b70" d="M255 1187.8h3.3v26.2h-3.3zM659 1187.8h3.3v26.2h-3.3z"/>
<path fill="#fb947a" d="M258.3 1187.8h3.3v26.2h-3.3z"/>
<path fill="#fb9176" d="M264.9 1187.8h3.3v26.2h-3.3zM635.8 1187.8h3.3v26.2h-3.3z"/>
<path fill="#fa8368" d="M271.5 1187.8h3.3v26.2h-3.3z"/>
<path fill="#ee573e" d="M278.1 1187.8h3.3v26.2h-3.3z"/>
<path fill="#fdb39c" d="M281.5 1187.8h3.3v26.2h-3.3z"/>
<path fill="#fcaa92" d="M291.4 1187.8h3.3v26.2h-3.3zM423.9 1187.8h3.3v26.2h-3.3z"/>
<path fill="#fa8267" d="M298 1187.8h3.3v26.2h-3.3zM500 1187.8h3.3v26.2h-3.3z"/>
<path fill="#fca58c" d="M304.6 1187.8h3.3v26.2h-3.3z"/>
<path fill="#f97e63" d="M308 1187.8h3.3v26.2h-3.3z"/>
<path fill="#fc9e85" d="M311.3 1187.8h3.3v26.2h-3.3zM337.8 1187.8h3.3v26.2h-3.3zM665.6 1187.8h3.3v26.2h-3.3zM678.9 1187.8h3.3v26.2h-3.3z"/>
<path fill="#fedacd" d="M314.6 1187.8h3.3v26.2h-3.3z"/>
<path fill="#fb886c" d="M324.5 1187.8h3.3v26.2h-3.3zM546.4 1187.8h3.3v26.2h-3.3zM572.9 1187.8h3.3v26.2h-3.3zM688.8 1187.8h3.3v26.2h-3.3z"/>
<path fill="#f7765c" d="M327.8 1187.8h3.3v26.2h-3.3zM692.1 1187.8h3.3v26.2h-3.3z"/>
<path fill="#fb8e73" d="M331.1 1187.8h3.3v26.2h-3.3z"/>
<path fill="#fb9379" d="M334.4 1187.8h3.3v26.2h-3.3z"/>
<path fill="#fca891" d="M347.7 1187.8h3.3v26.2h-3.3z"/>
<path fill="#fb9479" d="M351 1187.8h3.3v26.2h-3.3z"/>
<path fill="#fed8c9" d="M354.3 1187.8h3.3v26.2h-3.3z"/>
<path fill="#e64633" d="M367.6 1187.8h3.3v26.2h-3.3zM602.7 1187.8h3.3v26.2h-3.3z"/>
<path fill="#fdc3af" d="M370.9 1187.8h3.3v26.2h-3.3z"/>
<path fill="#fdb8a2" d="M374.2 1187.8h3.3v26.2h-3.3z"/>
<path fill="#fdb49d" d="M384.1 1187.8h3.3v26.2h-3.3z"/>
<path fill="#f98165" d="M387.4 1187.8h3.3v26.2h-3.3zM473.6 1187.8h3.3v26.2h-3.3z"/>
<path fill="#fa8266" d="M390.8 1187.8h3.3v26.2h-3.3z"/>
<path fill="#f98064" d="M394.1 1187.8h3.3v26.2h-3.3zM486.8 1187.8h3.3v26.2h-3.3zM616 1187.8h3.3v26.2h-3.3z"/>
<path fill="#fa8468" d="M397.4 1187.8h3.3v26.2h-3.3z"/>
<path fill="#f57157" d="M400.7 1187.8h3.3v26.2h-3.3zM738.5 1187.8h3.3v26.2h-3.3z"/>
<path fill="#f7775c" d="M404 1187.8h3.3v26.2h-3.3z"/>
<path fill="#f97f64" d="M407.3 1187.8h3.3v26.2h-3.3z"/>
<path fill="#fb977d" d="M413.9 1187.8h3.3v26.2h-3.3z"/>
<path fill="#fcab94" d="M417.2 1187.8h3.3v26.2h-3.3z"/>
<path fill="#f87e62" d="M420.6 1187.8h3.3v26.2h-3.3z"/>
<path fill="#f87a5f" d="M427.2 1187.8h3.3v26.2h-3.3z"/>
<path fill="#f3674e" d="M430.5 1187.8h3.3v26.2h-3.3z"/>
<path fill="#fc9d83" d="M433.8 1187.8h3.3v26.2h-3.3z"/>
<path fill="#fb9378" d="M440.4 1187.8h3.3v26.2h-3.3z"/>
<path fill="#f87b60" d="M443.7 1187.8h3.3v26.2h-3.3z"/>
<path fill="#fb9980" d="M447.1 1187.8h3.3v26.2h-3.3z"/>
<path fill="#fcad95" d="M457 1187.8h3.3v26.2h-3.3z"/>
<path fill="#fec8b4" d="M463.6 1187.8h3.3v26.2h-3.3z"/>
<path fill="#fca087" d="M466.9 1187.8h3.3v26.2h-3.3zM490.1 1187.8h3.3v26.2h-3.3z"/>
<path fill="#fed0bf" d="M476.9 1187.8h3.3v26.2h-3.3z"/>
<path fill="#f6755b" d="M480.2 1187.8h3.3v26.2h-3.3zM549.7 1187.8h3.3v26.2h-3.3z"/>
<path fill="#fb9277" d="M483.5 1187.8h3.3v26.2h-3.3z"/>
<path fill="#fed9cc" d="M493.4 1187.8h3.3v26.2h-3.3z"/>
<path fill="#fca189" d="M503.4 1187.8h3.3v26.2h-3.3z"/>
<path fill="#e54432" d="M513.3 1187.8h3.3v26.2h-3.3z"/>
<path fill="#fee2d8" d="M523.2 1187.8h3.3v26.2h-3.3z"/>
<path fill="#fee3da" d="M526.5 1187.8h3.3v26.2h-3.3z"/>
<path fill="#f98065" d="M529.9 1187.8h3.3v26.2h-3.3z"/>
<path fill="#fcad96" d="M533.2 1187.8h3.3v26.2h-3.3z"/>
<path fill="#fb8c71" d="M536.5 1187.8h3.3v26.2h-3.3z"/>
<path fill="#fca991" d="M553 1187.8h3.3v26.2h-3.3z"/>
<path fill="#f77a5f" d="M569.6 1187.8h3.3v26.2h-3.3z"/>
<path fill="#f97f63" d="M576.2 1187.8h3.3v26.2h-3.3z"/>
<path fill="#e34230" d="M579.5 1187.8h3.3v26.2h-3.3z"/>
<path fill="#f46e54" d="M582.8 1187.8h3.3v26.2h-3.3z"/>
<path fill="#fb896e" d="M586.2 1187.8h3.3v26.2h-3.3z"/>
<path fill="#fb997f" d="M596.1 1187.8h3.3v26.2h-3.3z"/>
<path fill="#f05e45" d="M606 1187.8h3.3v26.2h-3.3z"/>
<path fill="#fb8a6e" d="M612.7 1187.8h3.3v26.2h-3.3z"/>
<path fill="#fca992" d="M619.3 1187.8h3.3v26.2h-3.3z"/>
<path fill="#ef5b42" d="M622.6 1187.8h3.3v26.2h-3.3z"/>
<path fill="#f56f55" d="M625.9 1187.8h3.3v26.2h-3.3zM675.6 1187.8h3.3v26.2h-3.3z"/>
<path fill="#f6765b" d="M629.2 1187.8h3.3v26.2h-3.3z"/>
<path fill="#fca289" d="M632.5 1187.8h3.3v26.2h-3.3z"/>
<path fill="#f36950" d="M639.2 1187.8h3.3v26.2h-3.3zM672.3 1187.8h3.3v26.2h-3.3z"/>
<path fill="#f57257" d="M642.5 1187.8h3.3v26.2h-3.3z"/>
<path fill="#fb8a6f" d="M645.8 1187.8h3.3v26.2h-3.3zM728.6 1187.8h3.3v26.2h-3.3z"/>
<path fill="#f36a50" d="M649.1 1187.8h3.3v26.2h-3.3z"/>
<path fill="#fb9075" d="M655.7 1187.8h3.3v26.2h-3.3z"/>
<path fill="#fb957b" d="M662.3 1187.8h3.3v26.2h-3.3z"/>
<path fill="#f16047" d="M669 1187.8h3.3v26.2h-3.3z"/>
<path fill="#f87d61" d="M685.5 1187.8h3.3v26.2h-3.3z"/>
<path fill="#fb9076" d="M695.5 1187.8h3.3v26.2h-3.3z"/>
<path fill="#e13d2d" d="M702.1 1187.8h3.3v26.2h-3.3z"/>
<path fill="#e44431" d="M708.7 1187.8h3.3v26.2h-3.3z"/>
<path fill="#f7785d" d="M712 1187.8h3.3v26.2h-3.3z"/>
<path fill="#f05c43" d="M722 1187.8h3.3v26.2h-3.3z"/>
<path fill="#fb876b" d="M725.3 1187.8h3.3v26.2h-3.3z"/>
<path fill="#fb8f74" d="M731.9 1187.8h3.3v26.2h-3.3z"/>
<path fill="#f6745a" d="M741.8 1187.8h3.3v26.2h-3.3z"/>
<rect x="155.6" y="1187.8" width="589.5" height="26.2" fill="none" stroke="#bdbdbd" stroke-width="1"/>
<rect x="155.6" y="1218.4" width="589.5" height="25.1" fill="#ededed"/>
<path fill="#737373" d="M155.6 1218.4h3.3v25.1h-3.3z"/>
<path fill="#505050" d="M158.9 1218.4h3.3v25.1h-3.3z"/>
<path fill="#7b7b7b" d="M162.2 1218.4h3.3v25.1h-3.3zM384.1 1218.4h3.3v25.1h-3.3zM513.3 1218.4h3.3v25.1h-3.3z"/>
<path fill="#2c2c2c" d="M165.5 1218.4h3.3v25.1h-3.3zM188.7 1218.4h3.3v25.1h-3.3z"/>
<path fill="#585858" d="M168.8 1218.4h3.3v25.1h-3.3z"/>
<path fill="#4f4f4f" d="M172.2 1218.4h3.3v25.1h-3.3z"/>
<path fill="#575757" d="M175.5 1218.4h3.3v25.1h-3.3zM675.6 1218.4h3.3v25.1h-3.3z"/>
<path fill="#7f7f7f" d="M178.8 1218.4h3.3v25.1h-3.3zM357.6 1218.4h3.3v25.1h-3.3z"/>
<path fill="#797979" d="M182.1 1218.4h3.3v25.1h-3.3zM576.2 1218.4h3.3v25.1h-3.3z"/>
<path fill="#555555" d="M185.4 1218.4h3.3v25.1h-3.3z"/>
<path fill="#f4f4f4" d="M192 1218.4h6.6v25.1h-6.6zM258.3 1218.4h3.3v25.1h-3.3zM602.7 1218.4h3.3v25.1h-3.3z"/>
<path fill="#a3a3a3" d="M198.7 1218.4h3.3v25.1h-3.3zM211.9 1218.4h3.3v25.1h-3.3zM486.8 1218.4h3.3v25.1h-3.3z"/>
<path fill="#ececec" d="M202 1218.4h3.3v25.1h-3.3z"/>
<path fill="#b3b3b3" d="M208.6 1218.4h3.3v25.1h-3.3z"/>
<path fill="#b2b2b2" d="M215.2 1218.4h3.3v25.1h-3.3zM466.9 1218.4h3.3v25.1h-3.3z"/>
<path fill="#5b5b5b" d="M218.5 1218.4h3.3v25.1h-3.3z"/>
<path fill="#a8a8a8" d="M221.8 1218.4h3.3v25.1h-3.3zM678.9 1218.4h3.3v25.1h-3.3z"/>
<path fill="#909090" d="M225.2 1218.4h3.3v25.1h-3.3z"/>
<path fill="#595959" d="M228.5 1218.4h3.3v25.1h-3.3zM622.6 1218.4h3.3v25.1h-3.3zM705.4 1218.4h3.3v25.1h-3.3z"/>
<path fill="#545454" d="M231.8 1218.4h3.3v25.1h-3.3z"/>
<path fill="#e8e8e8" d="M235.1 1218.4h3.3v25.1h-3.3zM248.3 1218.4h3.3v25.1h-3.3zM264.9 1218.4h3.3v25.1h-3.3zM278.1 1218.4h3.3v25.1h-3.3z"/>
<path fill="#b1b1b1" d="M238.4 1218.4h3.3v25.1h-3.3z"/>
<path fill="#6c6c6c" d="M241.7 1218.4h3.3v25.1h-3.3zM354.3 1218.4h3.3v25.1h-3.3zM725.3 1218.4h3.3v25.1h-3.3z"/>
<path fill="#c7c7c7" d="M245 1218.4h3.3v25.1h-3.3zM665.6 1218.4h3.3v25.1h-3.3z"/>
<path fill="#bcbcbc" d="M251.6 1218.4h3.3v25.1h-3.3zM281.5 1218.4h3.3v25.1h-3.3zM291.4 1218.4h3.3v25.1h-3.3zM741.8 1218.4h3.3v25.1h-3.3z"/>
<path fill="#dddddd" d="M255 1218.4h3.3v25.1h-3.3zM284.8 1218.4h3.3v25.1h-3.3z"/>
<path fill="#fafafa" d="M261.6 1218.4h3.3v25.1h-3.3z"/>
<path fill="#b0b0b0" d="M268.2 1218.4h3.3v25.1h-3.3zM685.5 1218.4h3.3v25.1h-3.3z"/>
<path fill="#8e8e8e" d="M271.5 1218.4h3.3v25.1h-3.3z"/>
<path fill="#f9f9f9" d="M274.8 1218.4h3.3v25.1h-3.3z"/>
<path fill="#d2d2d2" d="M288.1 1218.4h3.3v25.1h-3.3z"/>
<path fill="#747474" d="M294.7 1218.4h16.6v25.1h-16.6zM321.2 1218.4h3.3v25.1h-3.3z"/>
<path fill="#606060" d="M311.3 1218.4h3.3v25.1h-3.3z"/>
<path fill="#b8b8b8" d="M314.6 1218.4h3.3v25.1h-3.3z"/>
<path fill="#7c7c7c" d="M317.9 1218.4h3.3v25.1h-3.3z"/>
<path fill="#8b8b8b" d="M324.5 1218.4h3.3v25.1h-3.3z"/>
<path fill="#757575" d="M327.8 1218.4h3.3v25.1h-3.3z"/>
<path fill="#9c9c9c" d="M331.1 1218.4h3.3v25.1h-3.3z"/>
<path fill="#292929" d="M334.4 1218.4h3.3v25.1h-3.3z"/>
<path fill="#777777" d="M337.8 1218.4h3.3v25.1h-3.3zM427.2 1218.4h3.3v25.1h-3.3zM645.8 1218.4h3.3v25.1h-3.3z"/>
<path fill="#999999" d="M341.1 1218.4h3.3v25.1h-3.3zM374.2 1218.4h3.3v25.1h-3.3zM616 1218.4h3.3v25.1h-3.3zM642.5 1218.4h3.3v25.1h-3.3z"/>
<path fill="#929292" d="M344.4 1218.4h3.3v25.1h-3.3zM351 1218.4h3.3v25.1h-3.3z"/>
<path fill="#888888" d="M347.7 1218.4h3.3v25.1h-3.3zM370.9 1218.4h3.3v25.1h-3.3zM390.8 1218.4h3.3v25.1h-3.3z"/>
<path fill="#666666" d="M360.9 1218.4h3.3v25.1h-3.3zM682.2 1218.4h3.3v25.1h-3.3zM731.9 1218.4h3.3v25.1h-3.3z"/>
<path fill="#696969" d="M364.3 1218.4h3.3v25.1h-3.3z"/>
<path fill="#828282" d="M367.6 1218.4h3.3v25.1h-3.3z"/>
<path fill="#959595" d="M377.5 1218.4h6.6v25.1h-6.6z"/>
<path fill="#a2a2a2" d="M387.4 1218.4h3.3v25.1h-3.3z"/>
<path fill="#858585" d="M394.1 1218.4h3.3v25.1h-3.3z"/>
<path fill="#979797" d="M397.4 1218.4h3.3v25.1h-3.3z"/>
<path fill="#8f8f8f" d="M400.7 1218.4h3.3v25.1h-3.3zM413.9 1218.4h3.3v25.1h-3.3zM440.4 1218.4h3.3v25.1h-3.3z"/>
<path fill="#636363" d="M404 1218.4h3.3v25.1h-3.3z"/>
<path fill="#5e5e5e" d="M407.3 1218.4h3.3v25.1h-3.3z"/>
<path fill="#9f9f9f" d="M410.6 1218.4h3.3v25.1h-3.3z"/>
<path fill="#949494" d="M417.2 1218.4h3.3v25.1h-3.3zM566.3 1218.4h3.3v25.1h-3.3z"/>
<path fill="#919191" d="M420.6 1218.4h3.3v25.1h-3.3z"/>
<path fill="#616161" d="M423.9 1218.4h3.3v25.1h-3.3z"/>
<path fill="#686868" d="M430.5 1218.4h3.3v25.1h-3.3z"/>
<path fill="#5a5a5a" d="M433.8 1218.4h3.3v25.1h-3.3zM457 1218.4h3.3v25.1h-3.3z"/>
<path fill="#969696" d="M437.1 1218.4h3.3v25.1h-3.3zM526.5 1218.4h3.3v25.1h-3.3zM582.8 1218.4h3.3v25.1h-3.3z"/>
<path fill="#898989" d="M443.7 1218.4h3.3v25.1h-3.3z"/>
<path fill="#6e6e6e" d="M447.1 1218.4h3.3v25.1h-3.3zM536.5 1218.4h3.3v25.1h-3.3z"/>
<path fill="#939393" d="M450.4 1218.4h3.3v25.1h-3.3zM649.1 1218.4h3.3v25.1h-3.3z"/>
<path fill="#717171" d="M453.7 1218.4h3.3v25.1h-3.3z"/>
<path fill="#7a7a7a" d="M463.6 1218.4h3.3v25.1h-3.3zM476.9 1218.4h3.3v25.1h-3.3z"/>
<path fill="#d4d4d4" d="M470.2 1218.4h3.3v25.1h-3.3zM553 1218.4h3.3v25.1h-3.3zM612.7 1218.4h3.3v25.1h-3.3z"/>
<path fill="#5c5c5c" d="M473.6 1218.4h3.3v25.1h-3.3z"/>
<path fill="#b9b9b9" d="M480.2 1218.4h3.3v25.1h-3.3z"/>
<path fill="#a5a5a5" d="M483.5 1218.4h3.3v25.1h-3.3z"/>
<path fill="#303030" d="M490.1 1218.4h6.6v25.1h-6.6z"/>
<path fill="#565656" d="M496.7 1218.4h6.6v25.1h-6.6zM529.9 1218.4h6.6v25.1h-6.6zM688.8 1218.4h3.3v25.1h-3.3z"/>
<path fill="#6d6d6d" d="M503.4 1218.4h3.3v25.1h-3.3z"/>
<path fill="#767676" d="M510 1218.4h3.3v25.1h-3.3z"/>
<path fill="#8d8d8d" d="M516.6 1218.4h3.3v25.1h-3.3zM702.1 1218.4h3.3v25.1h-3.3z"/>
<path fill="#3b3b3b" d="M523.2 1218.4h3.3v25.1h-3.3z"/>
<path fill="#878787" d="M539.8 1218.4h3.3v25.1h-3.3zM586.2 1218.4h3.3v25.1h-3.3zM639.2 1218.4h3.3v25.1h-3.3z"/>
<path fill="#cccccc" d="M556.4 1218.4h3.3v25.1h-3.3z"/>
<path fill="#9b9b9b" d="M559.7 1218.4h3.3v25.1h-3.3z"/>
<path fill="#9e9e9e" d="M563 1218.4h3.3v25.1h-3.3zM728.6 1218.4h3.3v25.1h-3.3z"/>
<path fill="#acacac" d="M569.6 1218.4h3.3v25.1h-3.3z"/>
<path fill="#e4e4e4" d="M572.9 1218.4h3.3v25.1h-3.3z"/>
<path fill="#c9c9c9" d="M579.5 1218.4h3.3v25.1h-3.3z"/>
<path fill="#6b6b6b" d="M589.5 1218.4h3.3v25.1h-3.3z"/>
<path fill="#aaaaaa" d="M592.8 1218.4h3.3v25.1h-3.3z"/>
<path fill="#aeaeae" d="M596.1 1218.4h3.3v25.1h-3.3z"/>
<path fill="#ababab" d="M599.4 1218.4h3.3v25.1h-3.3z"/>
<path fill="#c2c2c2" d="M606 1218.4h3.3v25.1h-3.3z"/>
<path fill="#cecece" d="M609.3 1218.4h3.3v25.1h-3.3zM635.8 1218.4h3.3v25.1h-3.3zM672.3 1218.4h3.3v25.1h-3.3z"/>
<path fill="#afafaf" d="M619.3 1218.4h3.3v25.1h-3.3z"/>
<path fill="#5d5d5d" d="M625.9 1218.4h3.3v25.1h-3.3z"/>
<path fill="#7e7e7e" d="M652.4 1218.4h3.3v25.1h-3.3z"/>
<path fill="#d6d6d6" d="M662.3 1218.4h3.3v25.1h-3.3z"/>
<path fill="#b7b7b7" d="M669 1218.4h3.3v25.1h-3.3z"/>
<path fill="#d7d7d7" d="M692.1 1218.4h3.3v25.1h-3.3z"/>
<path fill="#eaeaea" d="M708.7 1218.4h3.3v25.1h-3.3z"/>
<path fill="#dedede" d="M722 1218.4h3.3v25.1h-3.3z"/>
<path fill="#404040" d="M735.2 1218.4h6.6v25.1h-6.6z"/>
<rect x="155.6" y="1218.4" width="589.5" height="25.1" fill="none" stroke="#bdbdbd" stroke-width="1"/>
<rect x="155.6" y="1250.2" width="589.5" height="25.8" fill="#6B8E23"/>
<path fill="#87CEFA" d="M155.6 1250.2h3.3v25.8h-3.3zM165.5 1250.2h3.3v25.8h-3.3zM175.5 1250.2h3.3v25.8h-3.3zM202 1250.2h3.3v25.8h-3.3zM211.9 1250.2h3.3v25.8h-3.3zM218.5 1250.2h3.3v25.8h-3.3zM225.2 1250.2h6.6v25.8h-6.6zM241.7 1250.2h3.3v25.8h-3.3zM248.3 1250.2h6.6v25.8h-6.6zM258.3 1250.2h3.3v25.8h-3.3zM274.8 1250.2h16.6v25.8h-16.6zM294.7 1250.2h9.9v25.8h-9.9zM308 1250.2h3.3v25.8h-3.3zM317.9 1250.2h3.3v25.8h-3.3zM324.5 1250.2h3.3v25.8h-3.3zM331.1 1250.2h13.2v25.8h-13.2zM347.7 1250.2h6.6v25.8h-6.6zM357.6 1250.2h3.3v25.8h-3.3zM374.2 1250.2h6.6v25.8h-6.6zM384.1 1250.2h9.9v25.8h-9.9zM400.7 1250.2h6.6v25.8h-6.6zM410.6 1250.2h3.3v25.8h-3.3zM420.6 1250.2h6.6v25.8h-6.6zM433.8 1250.2h3.3v25.8h-3.3zM447.1 1250.2h6.6v25.8h-6.6zM466.9 1250.2h3.3v25.8h-3.3zM476.9 1250.2h3.3v25.8h-3.3zM483.5 1250.2h3.3v25.8h-3.3zM526.5 1250.2h3.3v25.8h-3.3zM549.7 1250.2h3.3v25.8h-3.3zM559.7 1250.2h3.3v25.8h-3.3zM569.6 1250.2h3.3v25.8h-3.3zM576.2 1250.2h3.3v25.8h-3.3zM589.5 1250.2h16.6v25.8h-16.6zM612.7 1250.2h13.2v25.8h-13.2zM639.2 1250.2h19.9v25.8h-19.9zM662.3 1250.2h3.3v25.8h-3.3zM669 1250.2h3.3v25.8h-3.3zM678.9 1250.2h3.3v25.8h-3.3zM685.5 1250.2h3.3v25.8h-3.3zM722 1250.2h3.3v25.8h-3.3zM728.6 1250.2h6.6v25.8h-6.6z"/>
<path fill="#27408B" d="M188.7 1250.2h3.3v25.8h-3.3zM238.4 1250.2h3.3v25.8h-3.3zM407.3 1250.2h3.3v25.8h-3.3zM457 1250.2h3.3v25.8h-3.3zM463.6 1250.2h3.3v25.8h-3.3zM470.2 1250.2h3.3v25.8h-3.3zM480.2 1250.2h3.3v25.8h-3.3zM490.1 1250.2h9.9v25.8h-9.9zM503.4 1250.2h3.3v25.8h-3.3zM510 1250.2h3.3v25.8h-3.3zM516.6 1250.2h9.9v25.8h-9.9zM529.9 1250.2h9.9v25.8h-9.9zM543.1 1250.2h6.6v25.8h-6.6zM556.4 1250.2h3.3v25.8h-3.3zM586.2 1250.2h3.3v25.8h-3.3zM609.3 1250.2h3.3v25.8h-3.3zM635.8 1250.2h3.3v25.8h-3.3zM665.6 1250.2h3.3v25.8h-3.3zM735.2 1250.2h3.3v25.8h-3.3z"/>
<rect x="155.6" y="1282.2" width="589.5" height="25.9" fill="#BFEFFF"/>
<path fill="#FF0000" d="M155.6 1282.2h6.6v25.9h-6.6zM168.8 1282.2h6.6v25.9h-6.6zM178.8 1282.2h13.2v25.9h-13.2zM211.9 1282.2h3.3v25.9h-3.3zM238.4 1282.2h3.3v25.9h-3.3zM281.5 1282.2h3.3v25.9h-3.3zM453.7 1282.2h23.2v25.9h-23.2zM480.2 1282.2h62.9v25.9h-62.9zM546.4 1282.2h3.3v25.9h-3.3zM556.4 1282.2h3.3v25.9h-3.3zM563 1282.2h3.3v25.9h-3.3zM582.8 1282.2h9.9v25.9h-9.9zM599.4 1282.2h3.3v25.9h-3.3zM606 1282.2h6.6v25.9h-6.6zM665.6 1282.2h3.3v25.9h-3.3z"/>
<path fill="#0000CD" d="M162.2 1282.2h3.3v25.9h-3.3zM175.5 1282.2h3.3v25.9h-3.3zM195.3 1282.2h9.9v25.9h-9.9zM231.8 1282.2h3.3v25.9h-3.3zM251.6 1282.2h6.6v25.9h-6.6zM274.8 1282.2h3.3v25.9h-3.3zM311.3 1282.2h3.3v25.9h-3.3zM394.1 1282.2h3.3v25.9h-3.3zM400.7 1282.2h6.6v25.9h-6.6zM410.6 1282.2h3.3v25.9h-3.3zM417.2 1282.2h3.3v25.9h-3.3zM427.2 1282.2h3.3v25.9h-3.3zM566.3 1282.2h6.6v25.9h-6.6zM579.5 1282.2h3.3v25.9h-3.3zM592.8 1282.2h3.3v25.9h-3.3zM625.9 1282.2h6.6v25.9h-6.6zM642.5 1282.2h9.9v25.9h-9.9zM685.5 1282.2h6.6v25.9h-6.6zM695.5 1282.2h3.3v25.9h-3.3zM702.1 1282.2h3.3v25.9h-3.3zM712 1282.2h9.9v25.9h-9.9zM725.3 1282.2h3.3v25.9h-3.3zM735.2 1282.2h3.3v25.9h-3.3zM741.8 1282.2h3.3v25.9h-3.3z"/>
<rect x="155.6" y="1282.2" width="589.5" height="25.9" fill="none" stroke="#bdbdbd" stroke-width="1"/>
<rect x="155.6" y="1314.7" width="589.5" height="25.9" fill="#FA8072"/>
<path fill="#4169E1" d="M158.9 1314.7h6.6v25.9h-6.6zM168.8 1314.7h6.6v25.9h-6.6zM182.1 1314.7h9.9v25.9h-9.9zM202 1314.7h3.3v25.9h-3.3zM211.9 1314.7h6.6v25.9h-6.6zM231.8 1314.7h13.2v25.9h-13.2zM274.8 1314.7h3.3v25.9h-3.3zM281.5 1314.7h3.3v25.9h-3.3zM291.4 1314.7h3.3v25.9h-3.3zM301.3 1314.7h3.3v25.9h-3.3zM314.6 1314.7h6.6v25.9h-6.6zM341.1 1314.7h6.6v25.9h-6.6zM354.3 1314.7h9.9v25.9h-9.9zM374.2 1314.7h3.3v25.9h-3.3zM380.8 1314.7h3.3v25.9h-3.3zM394.1 1314.7h3.3v25.9h-3.3zM407.3 1314.7h3.3v25.9h-3.3zM423.9 1314.7h3.3v25.9h-3.3zM430.5 1314.7h6.6v25.9h-6.6zM440.4 1314.7h3.3v25.9h-3.3zM447.1 1314.7h6.6v25.9h-6.6zM460.3 1314.7h13.2v25.9h-13.2zM476.9 1314.7h6.6v25.9h-6.6zM486.8 1314.7h33.1v25.9h-33.1zM523.2 1314.7h3.3v25.9h-3.3zM529.9 1314.7h6.6v25.9h-6.6zM539.8 1314.7h3.3v25.9h-3.3zM546.4 1314.7h16.6v25.9h-16.6zM572.9 1314.7h3.3v25.9h-3.3zM586.2 1314.7h3.3v25.9h-3.3zM599.4 1314.7h16.6v25.9h-16.6zM619.3 1314.7h3.3v25.9h-3.3zM625.9 1314.7h3.3v25.9h-3.3zM632.5 1314.7h6.6v25.9h-6.6zM652.4 1314.7h3.3v25.9h-3.3zM675.6 1314.7h3.3v25.9h-3.3zM685.5 1314.7h3.3v25.9h-3.3zM698.8 1314.7h3.3v25.9h-3.3zM708.7 1314.7h3.3v25.9h-3.3zM722 1314.7h6.6v25.9h-6.6zM731.9 1314.7h6.6v25.9h-6.6z"/>
<rect x="155.6" y="1344.5" width="589.5" height="26" fill="#FFFFFF"/>
<path fill="#27408B" d="M155.6 1344.5h9.9v26h-9.9zM168.8 1344.5h3.3v26h-3.3zM175.5 1344.5h3.3v26h-3.3zM182.1 1344.5h3.3v26h-3.3zM202 1344.5h3.3v26h-3.3zM215.2 1344.5h3.3v26h-3.3zM238.4 1344.5h6.6v26h-6.6zM255 1344.5h3.3v26h-3.3zM314.6 1344.5h9.9v26h-9.9zM331.1 1344.5h3.3v26h-3.3zM337.8 1344.5h3.3v26h-3.3zM360.9 1344.5h6.6v26h-6.6zM370.9 1344.5h3.3v26h-3.3zM400.7 1344.5h3.3v26h-3.3zM417.2 1344.5h3.3v26h-3.3zM433.8 1344.5h6.6v26h-6.6zM453.7 1344.5h6.6v26h-6.6zM473.6 1344.5h6.6v26h-6.6zM490.1 1344.5h16.6v26h-16.6zM513.3 1344.5h6.6v26h-6.6zM523.2 1344.5h3.3v26h-3.3zM539.8 1344.5h6.6v26h-6.6zM556.4 1344.5h3.3v26h-3.3zM563 1344.5h3.3v26h-3.3zM572.9 1344.5h3.3v26h-3.3zM582.8 1344.5h13.2v26h-13.2zM606 1344.5h6.6v26h-6.6zM622.6 1344.5h6.6v26h-6.6zM635.8 1344.5h3.3v26h-3.3zM642.5 1344.5h3.3v26h-3.3zM685.5 1344.5h3.3v26h-3.3zM702.1 1344.5h3.3v26h-3.3z"/>
<path fill="#008B00" d="M178.8 1344.5h3.3v26h-3.3zM205.3 1344.5h3.3v26h-3.3zM225.2 1344.5h3.3v26h-3.3zM274.8 1344.5h3.3v26h-3.3zM281.5 1344.5h3.3v26h-3.3zM294.7 1344.5h6.6v26h-6.6zM324.5 1344.5h6.6v26h-6.6zM334.4 1344.5h3.3v26h-3.3zM347.7 1344.5h3.3v26h-3.3zM374.2 1344.5h6.6v26h-6.6zM407.3 1344.5h3.3v26h-3.3zM413.9 1344.5h3.3v26h-3.3zM420.6 1344.5h3.3v26h-3.3zM430.5 1344.5h3.3v26h-3.3zM440.4 1344.5h3.3v26h-3.3zM533.2 1344.5h3.3v26h-3.3zM576.2 1344.5h3.3v26h-3.3zM599.4 1344.5h3.3v26h-3.3zM612.7 1344.5h6.6v26h-6.6zM632.5 1344.5h3.3v26h-3.3zM639.2 1344.5h3.3v26h-3.3zM662.3 1344.5h3.3v26h-3.3zM669 1344.5h3.3v26h-3.3zM682.2 1344.5h3.3v26h-3.3zM728.6 1344.5h6.6v26h-6.6z"/>
<path fill="#FF0000" d="M192 1344.5h3.3v26h-3.3zM211.9 1344.5h3.3v26h-3.3zM228.5 1344.5h3.3v26h-3.3zM245 1344.5h6.6v26h-6.6zM284.8 1344.5h3.3v26h-3.3zM291.4 1344.5h3.3v26h-3.3zM308 1344.5h6.6v26h-6.6zM380.8 1344.5h3.3v26h-3.3zM394.1 1344.5h3.3v26h-3.3zM410.6 1344.5h3.3v26h-3.3zM423.9 1344.5h6.6v26h-6.6zM443.7 1344.5h6.6v26h-6.6zM549.7 1344.5h6.6v26h-6.6zM566.3 1344.5h6.6v26h-6.6zM579.5 1344.5h3.3v26h-3.3zM629.2 1344.5h3.3v26h-3.3zM645.8 1344.5h6.6v26h-6.6zM675.6 1344.5h3.3v26h-3.3zM688.8 1344.5h3.3v26h-3.3zM695.5 1344.5h6.6v26h-6.6zM705.4 1344.5h3.3v26h-3.3zM712 1344.5h3.3v26h-3.3z"/>
<rect x="155.6" y="1344.5" width="589.5" height="26" fill="none" stroke="#bdbdbd" stroke-width="1"/>
<rect x="155.6" y="1376.7" width="589.5" height="25.9" fill="#66CD00"/>
<path fill="#4D4D4D" d="M155.6 1376.7h3.3v25.9h-3.3zM162.2 1376.7h3.3v25.9h-3.3zM175.5 1376.7h3.3v25.9h-3.3zM185.4 1376.7h3.3v25.9h-3.3zM195.3 1376.7h3.3v25.9h-3.3zM202 1376.7h6.6v25.9h-6.6zM218.5 1376.7h6.6v25.9h-6.6zM231.8 1376.7h3.3v25.9h-3.3zM304.6 1376.7h3.3v25.9h-3.3zM324.5 1376.7h3.3v25.9h-3.3zM351 1376.7h3.3v25.9h-3.3zM387.4 1376.7h9.9v25.9h-9.9zM400.7 1376.7h6.6v25.9h-6.6zM410.6 1376.7h3.3v25.9h-3.3zM417.2 1376.7h3.3v25.9h-3.3zM427.2 1376.7h3.3v25.9h-3.3zM443.7 1376.7h3.3v25.9h-3.3zM450.4 1376.7h3.3v25.9h-3.3zM457 1376.7h3.3v25.9h-3.3zM556.4 1376.7h3.3v25.9h-3.3zM563 1376.7h9.9v25.9h-9.9zM592.8 1376.7h3.3v25.9h-3.3zM606 1376.7h3.3v25.9h-3.3zM622.6 1376.7h6.6v25.9h-6.6zM635.8 1376.7h3.3v25.9h-3.3zM642.5 1376.7h9.9v25.9h-9.9zM682.2 1376.7h9.9v25.9h-9.9zM695.5 1376.7h16.6v25.9h-16.6zM715.3 1376.7h6.6v25.9h-6.6zM725.3 1376.7h6.6v25.9h-6.6zM741.8 1376.7h3.3v25.9h-3.3z"/>
<path fill="#FF1493" d="M158.9 1376.7h3.3v25.9h-3.3zM168.8 1376.7h6.6v25.9h-6.6zM178.8 1376.7h6.6v25.9h-6.6zM188.7 1376.7h3.3v25.9h-3.3zM211.9 1376.7h3.3v25.9h-3.3zM238.4 1376.7h3.3v25.9h-3.3zM281.5 1376.7h3.3v25.9h-3.3zM453.7 1376.7h3.3v25.9h-3.3zM460.3 1376.7h16.6v25.9h-16.6zM480.2 1376.7h62.9v25.9h-62.9zM546.4 1376.7h3.3v25.9h-3.3zM582.8 1376.7h9.9v25.9h-9.9zM599.4 1376.7h3.3v25.9h-3.3zM609.3 1376.7h3.3v25.9h-3.3zM665.6 1376.7h3.3v25.9h-3.3zM735.2 1376.7h3.3v25.9h-3.3z"/>
<rect x="155.6" y="1409.2" width="589.5" height="25.8" fill="#87CEEB"/>
<path fill="#006400" d="M155.6 1409.2h3.3v25.8h-3.3zM202 1409.2h3.3v25.8h-3.3zM235.1 1409.2h3.3v25.8h-3.3zM251.6 1409.2h3.3v25.8h-3.3zM258.3 1409.2h3.3v25.8h-3.3zM281.5 1409.2h3.3v25.8h-3.3zM311.3 1409.2h3.3v25.8h-3.3zM400.7 1409.2h3.3v25.8h-3.3zM443.7 1409.2h3.3v25.8h-3.3zM506.7 1409.2h3.3v25.8h-3.3zM523.2 1409.2h3.3v25.8h-3.3zM529.9 1409.2h3.3v25.8h-3.3zM543.1 1409.2h3.3v25.8h-3.3zM563 1409.2h3.3v25.8h-3.3zM579.5 1409.2h3.3v25.8h-3.3zM612.7 1409.2h3.3v25.8h-3.3zM625.9 1409.2h6.6v25.8h-6.6zM635.8 1409.2h3.3v25.8h-3.3zM642.5 1409.2h6.6v25.8h-6.6zM655.7 1409.2h3.3v25.8h-3.3zM662.3 1409.2h3.3v25.8h-3.3zM685.5 1409.2h6.6v25.8h-6.6zM698.8 1409.2h3.3v25.8h-3.3zM705.4 1409.2h3.3v25.8h-3.3zM741.8 1409.2h3.3v25.8h-3.3z"/>
<path fill="#A2CD5A" d="M158.9 1409.2h3.3v25.8h-3.3zM168.8 1409.2h23.2v25.8h-23.2zM211.9 1409.2h3.3v25.8h-3.3zM238.4 1409.2h6.6v25.8h-6.6zM417.2 1409.2h3.3v25.8h-3.3zM450.4 1409.2h26.5v25.8h-26.5zM480.2 1409.2h26.5v25.8h-26.5zM510 1409.2h13.2v25.8h-13.2zM526.5 1409.2h3.3v25.8h-3.3zM533.2 1409.2h9.9v25.8h-9.9zM546.4 1409.2h3.3v25.8h-3.3zM559.7 1409.2h3.3v25.8h-3.3zM582.8 1409.2h9.9v25.8h-9.9zM599.4 1409.2h3.3v25.8h-3.3zM606 1409.2h6.6v25.8h-6.6zM735.2 1409.2h3.3v25.8h-3.3z"/>
<path fill="#8A2BE2" d="M162.2 1409.2h6.6v25.8h-6.6zM205.3 1409.2h3.3v25.8h-3.3zM225.2 1409.2h6.6v25.8h-6.6zM274.8 1409.2h3.3v25.8h-3.3zM288.1 1409.2h3.3v25.8h-3.3zM294.7 1409.2h3.3v25.8h-3.3zM304.6 1409.2h3.3v25.8h-3.3zM317.9 1409.2h3.3v25.8h-3.3zM324.5 1409.2h13.2v25.8h-13.2zM341.1 1409.2h6.6v25.8h-6.6zM357.6 1409.2h3.3v25.8h-3.3zM364.3 1409.2h9.9v25.8h-9.9zM377.5 1409.2h19.9v25.8h-19.9zM404 1409.2h3.3v25.8h-3.3zM410.6 1409.2h3.3v25.8h-3.3zM427.2 1409.2h6.6v25.8h-6.6zM437.1 1409.2h3.3v25.8h-3.3zM447.1 1409.2h3.3v25.8h-3.3zM556.4 1409.2h3.3v25.8h-3.3zM566.3 1409.2h6.6v25.8h-6.6zM592.8 1409.2h6.6v25.8h-6.6zM602.7 1409.2h3.3v25.8h-3.3zM622.6 1409.2h3.3v25.8h-3.3zM639.2 1409.2h3.3v25.8h-3.3zM669 1409.2h3.3v25.8h-3.3zM678.9 1409.2h3.3v25.8h-3.3zM695.5 1409.2h3.3v25.8h-3.3zM718.6 1409.2h3.3v25.8h-3.3zM725.3 1409.2h9.9v25.8h-9.9z"/>
</g>
<text x="150.3" y="1052.7" font-size="21.3" text-anchor="end">Histology</text>
<text x="756.2" y="1051.1" font-size="19">p=2.2e-17</text>
<text x="150.3" y="1082.3" font-size="21.3" text-anchor="end">HPV clade</text>
<text x="756.2" y="1083.9" font-size="19">1.8e-3</text>
<text x="150.3" y="1111.7" font-size="21.3" text-anchor="end">HPV integration</text>
<text x="756.2" y="1113.3" font-size="19">0.13</text>
<text x="150.3" y="1142" font-size="21.3" text-anchor="end">UCEC-like</text>
<text x="756.2" y="1143.1" font-size="19">1.3e-05</text>
<text x="150.3" y="1176.5" font-size="21.3" text-anchor="end">APOBEC</text>
<text x="756.2" y="1176.2" font-size="19">0.022</text>
<text x="150.3" y="1209.3" font-size="21.3" text-anchor="end">EMT score</text>
<text x="756.2" y="1207.3" font-size="19">5.0e-05</text>
<text x="150.3" y="1240.8" font-size="21.3" text-anchor="end">Purity</text>
<text x="756.2" y="1237.8" font-size="19">8.2e-05</text>
<text x="150.3" y="1269.7" font-size="21.3" text-anchor="end">DNA meth</text>
<text x="756.2" y="1267.5" font-size="19">2.6e-08</text>
<text x="150.3" y="1302.3" font-size="21.3" text-anchor="end">mRNA</text>
<text x="756.2" y="1299.7" font-size="19">1.2e-19</text>
<text x="150.3" y="1334.6" font-size="21.3" text-anchor="end">Copy number</text>
<text x="756.2" y="1333.5" font-size="19">8.1e-03</text>
<text x="150.3" y="1364.1" font-size="21.3" text-anchor="end">RPPA</text>
<text x="756.2" y="1362.2" font-size="19">3.4e-4</text>
<text x="150.3" y="1396.9" font-size="21.3" text-anchor="end">iCluster</text>
<text x="756.2" y="1396" font-size="19">1.7e-19</text>
<text x="150.3" y="1427.5" font-size="21.3" text-anchor="end">PARADIGM</text>
<text x="756.2" y="1427.8" font-size="19">3.7e-17</text>
<line x1="192.5" x2="192.5" y1="77" y2="1447.5" stroke="#1a1a1a" stroke-width="1.1"/>
<line x1="312.4" x2="312.4" y1="77" y2="1447.5" stroke="#1a1a1a" stroke-width="1.1"/>
<line x1="387.8" x2="387.8" y1="77" y2="1447.5" stroke="#1a1a1a" stroke-width="1.1"/>
<line x1="450.1" x2="450.1" y1="77" y2="1447.5" stroke="#1a1a1a" stroke-width="1.1"/>
<line x1="550.4" x2="550.4" y1="77" y2="1447.5" stroke="#1a1a1a" stroke-width="1.1"/>
<rect x="98.6" y="1462.3" width="55" height="32.7" fill="#ebebeb"/>
<rect x="98.6" y="1500.5" width="55" height="31.6" fill="#ebebeb"/>
<text x="126.1" y="1485.8" font-size="19.5" text-anchor="middle">c</text>
<text x="126.1" y="1523.3" font-size="19.5" text-anchor="middle">n</text>
<rect x="159.1" y="1462.3" width="31.6" height="32.7" fill="#ebebeb"/>
<text x="174.9" y="1485.8" font-size="19.5" text-anchor="middle">6</text>
<text x="174.9" y="1523.3" font-size="19.5" text-anchor="middle">11</text>
<rect x="196.3" y="1462.3" width="115.1" height="32.7" fill="#ebebeb"/>
<text x="253.8" y="1485.8" font-size="19.5" text-anchor="middle">1</text>
<text x="253.8" y="1523.3" font-size="19.5" text-anchor="middle">36</text>
<rect x="317" y="1462.3" width="67.6" height="32.7" fill="#ebebeb"/>
<text x="350.8" y="1485.8" font-size="19.5" text-anchor="middle">2</text>
<text x="350.8" y="1523.3" font-size="19.5" text-anchor="middle">23</text>
<rect x="390.2" y="1462.3" width="59.4" height="32.7" fill="#ebebeb"/>
<text x="419.9" y="1485.8" font-size="19.5" text-anchor="middle">4</text>
<text x="419.9" y="1523.3" font-size="19.5" text-anchor="middle">19</text>
<rect x="455.2" y="1462.3" width="92.9" height="32.7" fill="#ebebeb"/>
<text x="501.6" y="1485.8" font-size="19.5" text-anchor="middle">5</text>
<text x="501.6" y="1523.3" font-size="19.5" text-anchor="middle">30</text>
<rect x="553.3" y="1462.3" width="190.9" height="32.7" fill="#ebebeb"/>
<text x="648.8" y="1485.8" font-size="19.5" text-anchor="middle">3</text>
<text x="648.8" y="1523.3" font-size="19.5" text-anchor="middle">59</text>
<rect x="749.4" y="1462.3" width="68.7" height="32.7" fill="#ebebeb"/>
<rect x="749.4" y="1500.5" width="68.7" height="31.6" fill="#ebebeb"/>
<text x="783.8" y="1485.8" font-size="19.5" text-anchor="middle">all</text>
<text x="783.8" y="1523.3" font-size="19.5" text-anchor="middle">178</text>
<text x="881.2" y="70.9" font-size="21" font-weight="bold">Histology</text>
<rect x="884.7" y="82.5" width="17.3" height="17.3" fill="#08ECF4"/>
<text x="911" y="97.4" font-size="18.5">Squamous</text>
<rect x="884.7" y="105.3" width="17.3" height="17.3" fill="#4D4D4D"/>
<text x="911" y="120.4" font-size="18.5">Adenocarcinoma</text>
<rect x="884.7" y="127.6" width="17.3" height="17.3" fill="#8B8970"/>
<text x="911" y="142.6" font-size="18.5">Adenosquamous</text>
<text x="881.8" y="180" font-size="21" font-weight="bold">HPV clade</text>
<rect x="886.4" y="192" width="17.3" height="17.3" fill="#FFFF00"/>
<text x="912" y="207.2" font-size="18.5">A7</text>
<rect x="886.4" y="214.5" width="17.3" height="17.3" fill="#FF0000"/>
<text x="912" y="229.9" font-size="18.5">A9</text>
<rect x="886.4" y="237" width="17.3" height="17.3" fill="#006400"/>
<text x="912" y="252.4" font-size="18.5">Other</text>
<rect x="886.4" y="259.7" width="17.3" height="17.3" fill="#D3D3D3"/>
<text x="912" y="274.9" font-size="18.5">Negative</text>
<text x="883" y="312" font-size="21" font-weight="bold">HPV integration</text>
<rect x="887.2" y="325.7" width="17.3" height="17.3" fill="#000000"/>
<text x="915" y="341.6" font-size="19">Yes</text>
<rect x="887.2" y="350.3" width="17.3" height="17.3" fill="#D3D3D3"/>
<text x="915" y="366.1" font-size="19">No</text>
<text x="883.2" y="398.1" font-size="21" font-weight="bold">UCEC-like</text>
<rect x="887.3" y="411.5" width="17.3" height="17.3" fill="#000000"/>
<text x="915.5" y="427.9" font-size="19">Yes</text>
<rect x="887.3" y="435.6" width="17.3" height="17.3" fill="#D3D3D3"/>
<text x="915.5" y="452.5" font-size="19">No</text>
<text x="883.2" y="483.4" font-size="21.4" font-weight="bold">APOBEC Mutagenesis Level</text>
<rect x="886.8" y="496.3" width="17.3" height="17.3" fill="#FFA500"/>
<text x="913.8" y="512.6" font-size="19">High</text>
<rect x="886.8" y="520.3" width="17.3" height="17.3" fill="#FFFF00"/>
<text x="913.8" y="536.1" font-size="19">Low</text>
<rect x="886.8" y="544.1" width="17.3" height="17.3" fill="#D3D3D3"/>
<text x="913.8" y="559.4" font-size="19">No</text>
<rect x="886.5" y="583.7" width="17.2" height="86.1" fill="url(#ge)" stroke="#d0d0d0" stroke-width=".8"/>
<text x="914.7" y="595.6" font-size="18">1.2</text>
<text x="913.3" y="633.7" font-size="18.9" font-weight="bold">EMT score</text>
<text x="907" y="666.6" font-size="18">-4.0</text>
<rect x="886.5" y="687" width="17.2" height="85.3" fill="url(#gp)" stroke="#d0d0d0" stroke-width=".8"/>
<text x="910.6" y="701.8" font-size="20.8">1.0</text>
<text x="915.5" y="735.4" font-size="18.9" font-weight="bold">Purity</text>
<text x="910" y="767.7" font-size="20.8">0.2</text>
<text x="881.9" y="807.9" font-size="21" font-weight="bold">mRNA</text>
<rect x="887.3" y="821.5" width="17.3" height="17.3" fill="#EE0000"/>
<text x="914.7" y="838.1" font-size="19.5">C1</text>
<rect x="887.3" y="846.4" width="17.3" height="17.3" fill="#BFEFFF"/>
<text x="914.7" y="862.7" font-size="19.5">C2</text>
<rect x="887.3" y="870.7" width="17.3" height="17.3" fill="#0000CD"/>
<text x="914.7" y="886.8" font-size="19.5">C3</text>
<text x="887.3" y="919.9" font-size="21" font-weight="bold">DNA methylation</text>
<rect x="886.8" y="932.5" width="16.5" height="16.5" fill="#27408B"/>
<text x="913.3" y="947.9" font-size="18.6">CIMP−high</text>
<rect x="886.8" y="955.5" width="16.5" height="16.5" fill="#87CEFA"/>
<text x="913.3" y="970.2" font-size="18.6">CIMP−intermediate</text>
<rect x="886.8" y="978.1" width="16.5" height="16.5" fill="#6B8E23"/>
<text x="913.3" y="993" font-size="18.6">CIMP−low</text>
<text x="881" y="1026" font-size="21" font-weight="bold">Copy number</text>
<rect x="886.5" y="1038.3" width="16.5" height="16.5" fill="#FA8072"/>
<text x="912.7" y="1053.3" font-size="19">High</text>
<rect x="886.5" y="1061" width="16.5" height="16.5" fill="#4169E1"/>
<text x="912.7" y="1077" font-size="19">Low</text>
<text x="880.5" y="1108" font-size="21" font-weight="bold">RPPA</text>
<rect x="886" y="1119.7" width="16.5" height="16.5" fill="#FF0000"/>
<text x="913.3" y="1135.5" font-size="19.5">EMT</text>
<rect x="886" y="1144" width="16.5" height="16.5" fill="#27408B"/>
<text x="913.3" y="1160" font-size="19.5">Hormone</text>
<rect x="886" y="1168.6" width="16.5" height="16.5" fill="#008B00"/>
<text x="913.3" y="1183.8" font-size="19.5">PI3K/AKT</text>
<rect x="886.3" y="1193.2" width="16" height="16" fill="#FFFFFF" stroke="#cfcfcf" stroke-width="1"/>
<text x="913" y="1208.5" font-size="19.5">NA</text>
<text x="883.2" y="1244" font-size="21" font-weight="bold">PARADIGM</text>
<rect x="887" y="1257.2" width="17.6" height="17.6" fill="#87CEEB"/>
<text x="914.9" y="1273.2" font-size="19.5">C1</text>
<rect x="887" y="1281" width="17.6" height="17.6" fill="#A2CD5A"/>
<text x="914.9" y="1297.1" font-size="19.5">C2</text>
<rect x="887" y="1304.4" width="17.6" height="17.6" fill="#8A2BE2"/>
<text x="914.9" y="1320.8" font-size="19.5">C3</text>
<rect x="887" y="1328.3" width="17.6" height="17.6" fill="#006400"/>
<text x="914.9" y="1344.6" font-size="19.5">C4</text>
<text x="883.2" y="1383.3" font-size="21" font-weight="bold">iCluster</text>
<rect x="886.7" y="1396.1" width="17.2" height="17.2" fill="#4D4D4D"/>
<text x="913" y="1413" font-size="19.7">Keratin-low</text>
<rect x="886.7" y="1419.6" width="17.2" height="17.2" fill="#66CD00"/>
<text x="913" y="1436.7" font-size="19.7">Keratin-high</text>
<rect x="886.7" y="1442.2" width="17.2" height="17.2" fill="#FF1493"/>
<text x="913" y="1459.4" font-size="19.7">Adenocarcinoma</text>
<g fill="none" stroke-linecap="butt">
<path d="M1446.2 214.3L1375.1 170.1" stroke="rgba(95,95,250,0.15)" stroke-width="6.5"/>
<path d="M1382.3 158.4L1367.8 181.8" stroke="rgba(95,95,250,0.15)" stroke-width="2.5"/>
<path d="M1446.2 214.3L1423.4 131.7" stroke="rgba(95,95,250,0.15)" stroke-width="6.5"/>
<path d="M1436.6 128.1L1410.1 135.4" stroke="rgba(95,95,250,0.15)" stroke-width="2.5"/>
<path d="M1446.2 214.3L1479 169.3" stroke="rgba(95,95,250,0.19)" stroke-width="6.7"/>
<path d="M1490.4 177.6L1467.7 161" stroke="rgba(95,95,250,0.19)" stroke-width="2.7"/>
<path d="M1446.2 214.3L1426.2 267.2" stroke="rgba(95,95,250,0.13)" stroke-width="6.4"/>
<path d="M1413.4 262.4L1438.9 272" stroke="rgba(95,95,250,0.13)" stroke-width="2.4"/>
<path d="M1446.2 214.3L1673.9 230.3" stroke="rgba(95,95,250,0.34)" stroke-width="7.6"/>
<path d="M1672.8 245.5L1674.9 215.1" stroke="rgba(95,95,250,0.34)" stroke-width="3.5"/>
<path d="M1446.2 214.3L1742.1 493.6" stroke="rgba(95,95,250,0.44)" stroke-width="8.2"/>
<path d="M1731.2 505.2L1753.1 481.9" stroke="rgba(95,95,250,0.44)" stroke-width="4"/>
<path d="M1626.2 167L1581.9 67" stroke="rgba(95,95,250,0.09)" stroke-width="6.2"/>
<path d="M1594.1 61.6L1569.8 72.4" stroke="rgba(95,95,250,0.09)" stroke-width="2.2"/>
<path d="M1626.2 167L1643.3 63.4" stroke="rgba(95,95,250,0.19)" stroke-width="6.7"/>
<path d="M1657.2 65.7L1629.4 61.1" stroke="rgba(95,95,250,0.19)" stroke-width="2.7"/>
<path d="M1626.2 167L1549.5 107.1" stroke="rgba(95,95,250,0.22)" stroke-width="7"/>
<path d="M1558.3 95.8L1540.6 118.5" stroke="rgba(95,95,250,0.22)" stroke-width="2.9"/>
<path d="M1626.2 167L1525.5 150.3" stroke="rgba(95,95,250,0.38)" stroke-width="7.8"/>
<path d="M1528 135L1523 165.7" stroke="rgba(95,95,250,0.38)" stroke-width="3.7"/>
<path d="M1626.2 167L1680.8 213.3" stroke="rgba(95,95,250,0.24)" stroke-width="7.1"/>
<path d="M1671.4 224.4L1690.2 202.3" stroke="rgba(95,95,250,0.24)" stroke-width="3"/>
<path d="M1626.2 167L1440.9 279.5" stroke="rgba(95,95,250,0.13)" stroke-width="6.4"/>
<path d="M1433.9 267.9L1448 291.1" stroke="rgba(95,95,250,0.13)" stroke-width="2.4"/>
<path d="M1626.2 167L1544.7 555.6" stroke="rgba(95,95,250,0.13)" stroke-width="6.4"/>
<path d="M1531.3 552.8L1558 558.4" stroke="rgba(95,95,250,0.13)" stroke-width="2.4"/>
<path d="M1626.2 167L1752.7 486.4" stroke="rgba(95,95,250,0.24)" stroke-width="7.1"/>
<path d="M1739.3 491.7L1766.2 481" stroke="rgba(95,95,250,0.24)" stroke-width="3"/>
<path d="M1739.5 160.5L1732.3 84.6" stroke="rgba(95,95,250,0.17)" stroke-width="6.6"/>
<path d="M1746.1 83.3L1718.5 85.9" stroke="rgba(95,95,250,0.17)" stroke-width="2.6"/>
<path d="M1739.5 160.5L1792.6 111.8" stroke="rgba(95,95,250,0.24)" stroke-width="7.1"/>
<path d="M1802.4 122.5L1782.8 101.2" stroke="rgba(95,95,250,0.24)" stroke-width="3"/>
<path d="M1739.5 160.5L1716.6 206.1" stroke="rgba(95,95,250,0.24)" stroke-width="7.1"/>
<path d="M1703.6 199.5L1729.5 212.6" stroke="rgba(95,95,250,0.24)" stroke-width="3"/>
<path d="M1961 202.4L1732.6 229" stroke="rgba(95,95,250,0.55)" stroke-width="8.8"/>
<path d="M1730.6 212.2L1734.6 245.8" stroke="rgba(95,95,250,0.55)" stroke-width="4.6"/>
<path d="M1961 202.4L1933.7 133" stroke="rgba(95,95,250,0.40)" stroke-width="7.9"/>
<path d="M1948.3 127.2L1919.1 138.7" stroke="rgba(95,95,250,0.40)" stroke-width="3.8"/>
<path d="M1961 202.4L2009.8 145.7" stroke="rgba(95,95,250,0.53)" stroke-width="8.7"/>
<path d="M2022.5 156.6L1997.1 134.8" stroke="rgba(95,95,250,0.53)" stroke-width="4.5"/>
<path d="M1961 202.4L1890.2 172.1" stroke="rgba(95,95,250,0.28)" stroke-width="7.3"/>
<path d="M1896 158.5L1884.4 185.7" stroke="rgba(95,95,250,0.28)" stroke-width="3.2"/>
<path d="M1961 202.4L2038.7 221.2" stroke="rgba(95,95,250,0.44)" stroke-width="8.2"/>
<path d="M2035 236.7L2042.5 205.6" stroke="rgba(95,95,250,0.44)" stroke-width="4"/>
<path d="M1961 202.4L1923.2 266.9" stroke="rgba(95,95,250,0.24)" stroke-width="7.1"/>
<path d="M1910.7 259.6L1935.7 274.3" stroke="rgba(95,95,250,0.24)" stroke-width="3"/>
<path d="M1961 202.4L1990.7 271" stroke="rgba(95,95,250,0.47)" stroke-width="8.4"/>
<path d="M1975.7 277.5L2005.6 264.6" stroke="rgba(95,95,250,0.47)" stroke-width="4.2"/>
<path d="M1744.5 321.4L1520.5 162.6" stroke="rgba(95,95,250,0.13)" stroke-width="6.4"/>
<path d="M1528.3 151.5L1512.6 173.7" stroke="rgba(95,95,250,0.13)" stroke-width="2.4"/>
<path d="M1744.5 321.4L1715.7 259.2" stroke="rgba(95,95,250,0.13)" stroke-width="6.4"/>
<path d="M1728 253.5L1703.4 264.9" stroke="rgba(95,95,250,0.13)" stroke-width="2.4"/>
<path d="M1744.5 321.4L1821.5 277.5" stroke="rgba(95,95,250,0.22)" stroke-width="7"/>
<path d="M1828.6 290L1814.4 265" stroke="rgba(95,95,250,0.22)" stroke-width="2.9"/>
<path d="M1744.5 321.4L1843.6 337" stroke="rgba(95,95,250,0.34)" stroke-width="7.6"/>
<path d="M1841.2 352.1L1845.9 321.9" stroke="rgba(95,95,250,0.34)" stroke-width="3.5"/>
<path d="M1744.5 321.4L1782.8 397.9" stroke="rgba(95,95,250,0.21)" stroke-width="6.9"/>
<path d="M1770.1 404.3L1795.5 391.6" stroke="rgba(95,95,250,0.21)" stroke-width="2.8"/>
<path d="M1744.5 321.4L1871.1 405.6" stroke="rgba(95,95,250,0.19)" stroke-width="6.7"/>
<path d="M1863.4 417.3L1878.9 393.9" stroke="rgba(95,95,250,0.19)" stroke-width="2.7"/>
<path d="M1744.5 321.4L1760.7 484.4" stroke="rgba(95,95,250,0.19)" stroke-width="6.7"/>
<path d="M1746.7 485.8L1774.7 483.1" stroke="rgba(95,95,250,0.19)" stroke-width="2.7"/>
<path d="M1978.4 358.5L1919.1 404" stroke="rgba(95,95,250,0.11)" stroke-width="6.3"/>
<path d="M1910.9 393.3L1927.3 414.6" stroke="rgba(95,95,250,0.11)" stroke-width="2.3"/>
<path d="M1978.4 358.5L1988.9 424.5" stroke="rgba(95,95,250,0.42)" stroke-width="8"/>
<path d="M1973.3 427L2004.6 422" stroke="rgba(95,95,250,0.42)" stroke-width="3.9"/>
<path d="M1915 517.1L1901.6 450.8" stroke="rgba(95,95,250,0.28)" stroke-width="7.3"/>
<path d="M1916.1 447.9L1887.1 453.8" stroke="rgba(95,95,250,0.28)" stroke-width="3.2"/>
<path d="M1915 517.1L1970.7 472.1" stroke="rgba(95,95,250,0.28)" stroke-width="7.3"/>
<path d="M1980 483.7L1961.4 460.6" stroke="rgba(95,95,250,0.28)" stroke-width="3.2"/>
<path d="M1915 517.1L1897.2 589.3" stroke="rgba(95,95,250,0.22)" stroke-width="7"/>
<path d="M1883.3 585.8L1911.2 592.7" stroke="rgba(95,95,250,0.22)" stroke-width="2.9"/>
<path d="M1439.5 531.9L1492.1 174.7" stroke="rgba(95,95,250,0.28)" stroke-width="7.3"/>
<path d="M1506.7 176.8L1477.5 172.5" stroke="rgba(95,95,250,0.28)" stroke-width="3.2"/>
<path d="M1439.5 531.9L1683.8 254.5" stroke="rgba(95,95,250,0.26)" stroke-width="7.2"/>
<path d="M1694.8 264.2L1672.8 244.9" stroke="rgba(95,95,250,0.26)" stroke-width="3.1"/>
<path d="M1439.5 531.9L1418.6 324.2" stroke="rgba(95,95,250,0.19)" stroke-width="6.7"/>
<path d="M1432.6 322.7L1404.7 325.6" stroke="rgba(95,95,250,0.19)" stroke-width="2.7"/>
<path d="M1439.5 531.9L1386 379.8" stroke="rgba(95,95,250,0.22)" stroke-width="7"/>
<path d="M1399.5 375.1L1372.5 384.6" stroke="rgba(95,95,250,0.22)" stroke-width="2.9"/>
<path d="M1439.5 531.9L1378.6 479.7" stroke="rgba(95,95,250,0.09)" stroke-width="6.2"/>
<path d="M1387.3 469.6L1369.9 489.8" stroke="rgba(95,95,250,0.09)" stroke-width="2.2"/>
<path d="M1439.5 531.9L1394.4 589.2" stroke="rgba(95,95,250,0.22)" stroke-width="7"/>
<path d="M1383.2 580.3L1405.7 598.1" stroke="rgba(95,95,250,0.22)" stroke-width="2.9"/>
<path d="M1439.5 531.9L1512.5 570.7" stroke="rgba(95,95,250,0.17)" stroke-width="6.6"/>
<path d="M1506 582.9L1519.1 558.4" stroke="rgba(95,95,250,0.17)" stroke-width="2.6"/>
<path d="M1439.5 531.9L1734.1 515.4" stroke="rgba(95,95,250,0.26)" stroke-width="7.2"/>
<path d="M1735 530.1L1733.3 500.8" stroke="rgba(95,95,250,0.26)" stroke-width="3.1"/>
<path d="M1652.6 546.2L1507.1 173" stroke="rgba(95,95,250,0.19)" stroke-width="6.7"/>
<path d="M1520.2 167.9L1494 178.1" stroke="rgba(95,95,250,0.19)" stroke-width="2.7"/>
<path d="M1652.6 546.2L1698.6 261.5" stroke="rgba(95,95,250,0.17)" stroke-width="6.6"/>
<path d="M1712.3 263.7L1684.9 259.3" stroke="rgba(95,95,250,0.17)" stroke-width="2.6"/>
<path d="M1652.6 546.2L1400.3 369" stroke="rgba(95,95,250,0.26)" stroke-width="7.2"/>
<path d="M1408.8 357L1391.9 380.9" stroke="rgba(95,95,250,0.26)" stroke-width="3.1"/>
<path d="M1652.6 546.2Q1509.2 482.1 1400.3 369" stroke="rgba(70,175,115,0.45)" stroke-width="7.6"/>
<path d="M1411.3 358.4L1389.3 379.5" stroke="rgba(70,175,115,0.45)" stroke-width="3.5"/>
<path d="M1652.6 546.2L1384.5 468.7" stroke="rgba(95,95,250,0.19)" stroke-width="6.7"/>
<path d="M1388.4 455.2L1380.6 482.2" stroke="rgba(95,95,250,0.19)" stroke-width="2.7"/>
<path d="M1652.6 546.2L1773.5 443.4" stroke="rgba(95,95,250,0.19)" stroke-width="6.7"/>
<path d="M1782.6 454.1L1764.4 432.7" stroke="rgba(95,95,250,0.19)" stroke-width="2.7"/>
<path d="M1652.6 546.2L1735.3 522.1" stroke="rgba(95,95,250,0.26)" stroke-width="7.2"/>
<path d="M1739.4 536.1L1731.2 508" stroke="rgba(95,95,250,0.26)" stroke-width="3.1"/>
<path d="M1652.6 546.2L1566.6 575.1" stroke="rgba(95,95,250,0.21)" stroke-width="6.9"/>
<path d="M1562 561.6L1571.1 588.6" stroke="rgba(95,95,250,0.21)" stroke-width="2.8"/>
<path d="M1652.6 546.2L1744.4 574.6" stroke="rgba(95,95,250,0.13)" stroke-width="6.4"/>
<path d="M1740.4 587.6L1748.4 561.6" stroke="rgba(95,95,250,0.13)" stroke-width="2.4"/>
<path d="M1652.6 546.2L1698.1 612.3" stroke="rgba(95,95,250,0.13)" stroke-width="6.4"/>
<path d="M1686.9 620L1709.3 604.6" stroke="rgba(95,95,250,0.13)" stroke-width="2.4"/>
<path d="M1652.6 546.2L1650.8 629.8" stroke="rgba(95,95,250,0.15)" stroke-width="6.5"/>
<path d="M1637.1 629.5L1664.6 630.1" stroke="rgba(95,95,250,0.15)" stroke-width="2.5"/>
<path d="M1278.1 747.9L1267.7 670.9" stroke="rgba(95,95,250,0.38)" stroke-width="7.8"/>
<path d="M1283.1 668.9L1252.3 673" stroke="rgba(95,95,250,0.38)" stroke-width="3.7"/>
<path d="M1278.1 747.9L1210.4 712.5" stroke="rgba(95,95,250,0.11)" stroke-width="6.3"/>
<path d="M1216.7 700.6L1204.2 724.4" stroke="rgba(95,95,250,0.11)" stroke-width="2.3"/>
<path d="M1278.1 747.9L1344.3 709.6" stroke="rgba(95,95,250,0.11)" stroke-width="6.3"/>
<path d="M1351 721.2L1337.5 697.9" stroke="rgba(95,95,250,0.11)" stroke-width="2.3"/>
<path d="M1278.1 747.9L1210.5 782.9" stroke="rgba(95,95,250,0.26)" stroke-width="7.2"/>
<path d="M1203.8 769.8L1217.2 795.9" stroke="rgba(95,95,250,0.26)" stroke-width="3.1"/>
<path d="M1278.1 747.9L1336.7 797.2" stroke="rgba(95,95,250,0.19)" stroke-width="6.7"/>
<path d="M1327.7 808L1345.8 786.5" stroke="rgba(95,95,250,0.19)" stroke-width="2.7"/>
<path d="M1278.1 747.9L1267.8 823.4" stroke="rgba(95,95,250,0.11)" stroke-width="6.3"/>
<path d="M1254.5 821.6L1281.1 825.2" stroke="rgba(95,95,250,0.11)" stroke-width="2.3"/>
<path d="M1453.2 973.7L1402.6 922.5" stroke="rgba(95,95,250,0.09)" stroke-width="6.2"/>
<path d="M1412.1 913.1L1393.2 931.8" stroke="rgba(95,95,250,0.09)" stroke-width="2.2"/>
<path d="M1453.2 973.7L1504.4 922.4" stroke="rgba(95,95,250,0.11)" stroke-width="6.3"/>
<path d="M1513.9 931.9L1494.9 912.9" stroke="rgba(95,95,250,0.11)" stroke-width="2.3"/>
<path d="M1453.2 973.7L1402.7 1024.5" stroke="rgba(95,95,250,0.24)" stroke-width="7.1"/>
<path d="M1392.4 1014.3L1413 1034.7" stroke="rgba(95,95,250,0.24)" stroke-width="3"/>
<path d="M1453.2 973.7L1504.1 1024.6" stroke="rgba(95,95,250,0.32)" stroke-width="7.5"/>
<path d="M1493.5 1035.3L1514.8 1013.9" stroke="rgba(95,95,250,0.32)" stroke-width="3.4"/>
<path d="M1750 835.7L1732.6 757.8" stroke="rgba(95,95,250,0.32)" stroke-width="7.5"/>
<path d="M1747.3 754.5L1717.8 761.1" stroke="rgba(95,95,250,0.32)" stroke-width="3.4"/>
<path d="M1750 835.7L1807.8 774" stroke="rgba(95,95,250,0.11)" stroke-width="6.3"/>
<path d="M1817.6 783.2L1798 764.8" stroke="rgba(95,95,250,0.11)" stroke-width="2.3"/>
<path d="M1750 835.7L1668.8 798.6" stroke="rgba(95,95,250,0.26)" stroke-width="7.2"/>
<path d="M1674.9 785.3L1662.8 811.9" stroke="rgba(95,95,250,0.26)" stroke-width="3.1"/>
<path d="M1750 835.7L1849.2 834.6" stroke="rgba(95,95,250,0.15)" stroke-width="6.5"/>
<path d="M1849.3 848.4L1849.1 820.9" stroke="rgba(95,95,250,0.15)" stroke-width="2.5"/>
<path d="M2010.2 835.7L1912.2 834.6" stroke="rgba(70,175,115,0.43)" stroke-width="8.2"/>
<path d="M1912.4 818.6L1912 850.6" stroke="rgba(70,175,115,0.43)" stroke-width="4"/>
<path d="M1750 835.7L1672 878.2" stroke="rgba(95,95,250,0.11)" stroke-width="6.3"/>
<path d="M1665.5 866.4L1678.4 890" stroke="rgba(95,95,250,0.11)" stroke-width="2.3"/>
<path d="M1750 835.7L1807.8 895" stroke="rgba(95,95,250,0.11)" stroke-width="6.3"/>
<path d="M1798.2 904.4L1817.5 885.7" stroke="rgba(95,95,250,0.11)" stroke-width="2.3"/>
<path d="M1750 835.7L1732.4 913.6" stroke="rgba(95,95,250,0.44)" stroke-width="8.2"/>
<path d="M1716.8 910.1L1748 917.1" stroke="rgba(95,95,250,0.44)" stroke-width="4"/>
<path d="M1364.3 1241.4L1389.2 1165.7" stroke="rgba(95,95,250,0.11)" stroke-width="6.3"/>
<path d="M1401.9 1169.9L1376.4 1161.5" stroke="rgba(95,95,250,0.11)" stroke-width="2.3"/>
<path d="M1364.3 1241.4L1299.9 1194.7" stroke="rgba(95,95,250,0.19)" stroke-width="6.7"/>
<path d="M1308.1 1183.3L1291.6 1206.1" stroke="rgba(95,95,250,0.19)" stroke-width="2.7"/>
<path d="M1364.3 1241.4L1443.9 1241.2" stroke="rgba(95,95,250,0.17)" stroke-width="6.6"/>
<path d="M1443.9 1255.1L1443.9 1227.3" stroke="rgba(95,95,250,0.17)" stroke-width="2.6"/>
<path d="M1364.3 1241.4L1299.9 1287.8" stroke="rgba(95,95,250,0.21)" stroke-width="6.9"/>
<path d="M1291.6 1276.2L1308.2 1299.3" stroke="rgba(95,95,250,0.21)" stroke-width="2.8"/>
<path d="M1364.3 1241.4L1389.1 1316.7" stroke="rgba(95,95,250,0.19)" stroke-width="6.7"/>
<path d="M1375.8 1321.1L1402.5 1312.3" stroke="rgba(95,95,250,0.19)" stroke-width="2.7"/>
<path d="M1943.7 1077.6L1871.8 1040.1" stroke="rgba(95,95,250,0.40)" stroke-width="7.9"/>
<path d="M1879.1 1026.2L1864.5 1054" stroke="rgba(95,95,250,0.40)" stroke-width="3.8"/>
<path d="M1943.7 1077.6L1918 1000.2" stroke="rgba(95,95,250,0.44)" stroke-width="8.2"/>
<path d="M1933.2 995.1L1902.9 1005.2" stroke="rgba(95,95,250,0.44)" stroke-width="4"/>
<path d="M1943.7 1077.6L1978.8 1004" stroke="rgba(95,95,250,0.24)" stroke-width="7.1"/>
<path d="M1991.9 1010.2L1965.7 997.7" stroke="rgba(95,95,250,0.24)" stroke-width="3"/>
<path d="M1943.7 1077.6L2019.4 1040.6" stroke="rgba(95,95,250,0.28)" stroke-width="7.3"/>
<path d="M2025.9 1053.9L2012.9 1027.3" stroke="rgba(95,95,250,0.28)" stroke-width="3.2"/>
<path d="M1943.7 1077.6L2022.3 1096.2" stroke="rgba(95,95,250,0.47)" stroke-width="8.4"/>
<path d="M2018.6 1112.1L2026.1 1080.3" stroke="rgba(95,95,250,0.47)" stroke-width="4.2"/>
<path d="M1943.7 1077.6L1974 1138.1" stroke="rgba(95,95,250,0.53)" stroke-width="8.7"/>
<path d="M1959.1 1145.6L1989 1130.6" stroke="rgba(95,95,250,0.53)" stroke-width="4.5"/>
<path d="M1943.7 1077.6L1892.1 1143" stroke="rgba(95,95,250,0.55)" stroke-width="8.8"/>
<path d="M1878.8 1132.6L1905.3 1153.5" stroke="rgba(95,95,250,0.55)" stroke-width="4.6"/>
<path d="M1758.3 1200.7L1713.5 1116.9" stroke="rgba(95,95,250,0.22)" stroke-width="7"/>
<path d="M1726.2 1110.1L1700.9 1123.6" stroke="rgba(95,95,250,0.22)" stroke-width="2.9"/>
<path d="M1758.3 1200.7L1781.4 1111.8" stroke="rgba(95,95,250,0.09)" stroke-width="6.2"/>
<path d="M1794.2 1115.2L1768.5 1108.5" stroke="rgba(95,95,250,0.09)" stroke-width="2.2"/>
<path d="M1758.3 1200.7L1674 1158.5" stroke="rgba(95,95,250,0.22)" stroke-width="7"/>
<path d="M1680.5 1145.7L1667.6 1171.4" stroke="rgba(95,95,250,0.22)" stroke-width="2.9"/>
<path d="M1758.3 1200.7L1844.7 1175.1" stroke="rgba(95,95,250,0.26)" stroke-width="7.2"/>
<path d="M1848.9 1189.2L1840.6 1161.1" stroke="rgba(95,95,250,0.26)" stroke-width="3.1"/>
<path d="M1758.3 1200.7L1671.1 1226" stroke="rgba(95,95,250,0.26)" stroke-width="7.2"/>
<path d="M1667 1212L1675.2 1240.1" stroke="rgba(95,95,250,0.26)" stroke-width="3.1"/>
<path d="M1758.3 1200.7L1685.5 1288" stroke="rgba(95,95,250,0.17)" stroke-width="6.6"/>
<path d="M1674.8 1279.1L1696.2 1296.9" stroke="rgba(95,95,250,0.17)" stroke-width="2.6"/>
<path d="M1758.3 1200.7L1732.4 1328.8" stroke="rgba(95,95,250,0.28)" stroke-width="7.3"/>
<path d="M1717.8 1325.9L1746.9 1331.7" stroke="rgba(95,95,250,0.28)" stroke-width="3.2"/>
<path d="M1758.3 1200.7L1812.8 1342.6" stroke="rgba(95,95,250,0.19)" stroke-width="6.7"/>
<path d="M1799.6 1347.6L1825.9 1337.6" stroke="rgba(95,95,250,0.19)" stroke-width="2.7"/>
<path d="M1863.8 1284.8L1871 1196.5" stroke="rgba(95,95,250,0.24)" stroke-width="7.1"/>
<path d="M1885.5 1197.7L1856.6 1195.3" stroke="rgba(95,95,250,0.24)" stroke-width="3"/>
<path d="M1863.8 1284.8L1948.2 1251.4" stroke="rgba(95,95,250,0.22)" stroke-width="7"/>
<path d="M1953.5 1264.7L1942.9 1238" stroke="rgba(95,95,250,0.22)" stroke-width="2.9"/>
<path d="M1863.8 1284.8L1950.7 1302.4" stroke="rgba(95,95,250,0.19)" stroke-width="6.7"/>
<path d="M1947.9 1316.1L1953.5 1288.6" stroke="rgba(95,95,250,0.19)" stroke-width="2.7"/>
<path d="M1863.8 1284.8L1909.2 1339.6" stroke="rgba(95,95,250,0.09)" stroke-width="6.2"/>
<path d="M1899 1348.1L1919.5 1331.1" stroke="rgba(95,95,250,0.09)" stroke-width="2.2"/>
<path d="M1863.8 1284.8L1836.3 1343.4" stroke="rgba(95,95,250,0.13)" stroke-width="6.4"/>
<path d="M1823.9 1337.7L1848.6 1349.2" stroke="rgba(95,95,250,0.13)" stroke-width="2.4"/>
<path d="M1863.8 1284.8L1752.9 1344.1" stroke="rgba(95,95,250,0.38)" stroke-width="7.8"/>
<path d="M1745.5 1330.3L1760.2 1357.8" stroke="rgba(95,95,250,0.38)" stroke-width="3.7"/>
<path d="M1863.8 1284.8L1671.6 1241.1" stroke="rgba(95,95,250,0.24)" stroke-width="7.1"/>
<path d="M1674.8 1226.9L1668.3 1255.2" stroke="rgba(95,95,250,0.24)" stroke-width="3"/>
<path d="M1863.8 1284.8L1696 1307.1" stroke="rgba(95,95,250,0.13)" stroke-width="6.4"/>
<path d="M1694.3 1293.6L1697.8 1320.5" stroke="rgba(95,95,250,0.13)" stroke-width="2.4"/>
</g>
<circle cx="1570" cy="40" r="25" fill="#C9C9C9" stroke="#b3b3b3" stroke-width=".7"/>
<circle cx="1648.1" cy="34.3" r="25" fill="#C9C9C9" stroke="#b3b3b3" stroke-width=".7"/>
<circle cx="1526.2" cy="89" r="25" fill="#C9C9C9" stroke="#b3b3b3" stroke-width=".7"/>
<circle cx="1415.5" cy="103.3" r="25" fill="#C9C9C9" stroke="#b3b3b3" stroke-width=".7"/>
<circle cx="1350" cy="154.5" r="25" fill="#CCFFCC" stroke="#a8d6a8" stroke-width=".7"/>
<circle cx="1496.4" cy="145.5" r="25" fill="#CCFFCC" stroke="#a8d6a8" stroke-width=".7"/>
<path d="M1446.2 189.3L1471.2 214.3L1446.2 239.3L1421.2 214.3Z" fill="#FCC436" stroke="#d9a62c" stroke-width=".7"/>
<path d="M1626.2 142L1651.2 167L1626.2 192L1601.2 167Z" fill="#FCC436" stroke="#d9a62c" stroke-width=".7"/>
<circle cx="1415.7" cy="294.8" r="25" fill="#C9C9C9" stroke="#b3b3b3" stroke-width=".7"/>
<circle cx="1376.2" cy="352" r="25" fill="#CCFFCC" stroke="#a8d6a8" stroke-width=".7"/>
<circle cx="1729.5" cy="55.2" r="25" fill="#C9C9C9" stroke="#b3b3b3" stroke-width=".7"/>
<circle cx="1814.3" cy="91.9" r="25" fill="#C9C9C9" stroke="#b3b3b3" stroke-width=".7"/>
<circle cx="1922.9" cy="105.5" r="25" fill="#C9C9C9" stroke="#b3b3b3" stroke-width=".7"/>
<circle cx="2029" cy="123.3" r="25" fill="#C9C9C9" stroke="#b3b3b3" stroke-width=".7"/>
<path d="M1739.5 135.5L1764.5 160.5L1739.5 185.5L1714.5 160.5Z" fill="#FCC436" stroke="#d9a62c" stroke-width=".7"/>
<circle cx="1863.1" cy="160.5" r="25" fill="#C9C9C9" stroke="#b3b3b3" stroke-width=".7"/>
<path d="M1961 177.4L1986 202.4L1961 227.4L1936 202.4Z" fill="#FCC436" stroke="#d9a62c" stroke-width=".7"/>
<circle cx="1703.3" cy="232.4" r="25" fill="#C9C9C9" stroke="#b3b3b3" stroke-width=".7"/>
<circle cx="2067.4" cy="228.1" r="25" fill="#CCFFCC" stroke="#a8d6a8" stroke-width=".7"/>
<circle cx="1847.1" cy="262.9" r="25" fill="#CCFFCC" stroke="#a8d6a8" stroke-width=".7"/>
<circle cx="1908.3" cy="292.4" r="25" fill="#C9C9C9" stroke="#b3b3b3" stroke-width=".7"/>
<circle cx="2002.4" cy="298.1" r="25" fill="#CCFFCC" stroke="#a8d6a8" stroke-width=".7"/>
<path d="M1744.5 296.4L1769.5 321.4L1744.5 346.4L1719.5 321.4Z" fill="#FCC436" stroke="#d9a62c" stroke-width=".7"/>
<circle cx="1872.7" cy="341.6" r="25" fill="#C9C9C9" stroke="#b3b3b3" stroke-width=".7"/>
<path d="M1978.4 333.5L2003.4 358.5L1978.4 383.5L1953.4 358.5Z" fill="#FCC436" stroke="#d9a62c" stroke-width=".7"/>
<circle cx="1356.2" cy="460.5" r="25" fill="#C9C9C9" stroke="#b3b3b3" stroke-width=".7"/>
<path d="M1439.5 506.9L1464.5 531.9L1439.5 556.9L1414.5 531.9Z" fill="#FCC436" stroke="#d9a62c" stroke-width=".7"/>
<path d="M1652.6 521.2L1677.6 546.2L1652.6 571.2L1627.6 546.2Z" fill="#FCC436" stroke="#d9a62c" stroke-width=".7"/>
<circle cx="1376.2" cy="612.4" r="25" fill="#CCFFCC" stroke="#a8d6a8" stroke-width=".7"/>
<circle cx="1538.6" cy="584.5" r="25" fill="#C9C9C9" stroke="#b3b3b3" stroke-width=".7"/>
<circle cx="1763.6" cy="513.8" r="25" fill="#C9C9C9" stroke="#b3b3b3" stroke-width=".7"/>
<circle cx="1772.6" cy="583.3" r="25" fill="#C9C9C9" stroke="#b3b3b3" stroke-width=".7"/>
<circle cx="1714.8" cy="636.6" r="25" fill="#C9C9C9" stroke="#b3b3b3" stroke-width=".7"/>
<circle cx="1650.2" cy="659.3" r="25" fill="#C9C9C9" stroke="#b3b3b3" stroke-width=".7"/>
<circle cx="1796" cy="424.3" r="25" fill="#C9C9C9" stroke="#b3b3b3" stroke-width=".7"/>
<circle cx="1895.7" cy="421.9" r="25" fill="#C9C9C9" stroke="#b3b3b3" stroke-width=".7"/>
<circle cx="1993.6" cy="453.6" r="25" fill="#C9C9C9" stroke="#b3b3b3" stroke-width=".7"/>
<path d="M1915 492.1L1940 517.1L1915 542.1L1890 517.1Z" fill="#FCC436" stroke="#d9a62c" stroke-width=".7"/>
<circle cx="1890.2" cy="617.9" r="25" fill="#C9C9C9" stroke="#b3b3b3" stroke-width=".7"/>
<circle cx="1263.8" cy="641.7" r="25" fill="#C9C9C9" stroke="#b3b3b3" stroke-width=".7"/>
<circle cx="1184.3" cy="698.8" r="25" fill="#C9C9C9" stroke="#b3b3b3" stroke-width=".7"/>
<circle cx="1369.8" cy="694.8" r="25" fill="#C9C9C9" stroke="#b3b3b3" stroke-width=".7"/>
<path d="M1278.1 722.9L1303.1 747.9L1278.1 772.9L1253.1 747.9Z" fill="#FCC436" stroke="#d9a62c" stroke-width=".7"/>
<circle cx="1184.3" cy="796.4" r="25" fill="#C9C9C9" stroke="#b3b3b3" stroke-width=".7"/>
<circle cx="1359.3" cy="816.2" r="25" fill="#C9C9C9" stroke="#b3b3b3" stroke-width=".7"/>
<circle cx="1263.8" cy="852.6" r="25" fill="#C9C9C9" stroke="#b3b3b3" stroke-width=".7"/>
<circle cx="1382.1" cy="901.7" r="24.7" fill="#C9C9C9" stroke="#b3b3b3" stroke-width=".7"/>
<circle cx="1525" cy="901.7" r="24.7" fill="#CCFFCC" stroke="#a8d6a8" stroke-width=".7"/>
<path d="M1453.2 949L1477.9 973.7L1453.2 998.4L1428.5 973.7Z" fill="#FCC436" stroke="#d9a62c" stroke-width=".7"/>
<circle cx="1382.1" cy="1045.2" r="24.7" fill="#CCFFCC" stroke="#a8d6a8" stroke-width=".7"/>
<circle cx="1524.8" cy="1045.2" r="24.7" fill="#C9C9C9" stroke="#b3b3b3" stroke-width=".7"/>
<circle cx="1640.2" cy="785.5" r="27" fill="#C9C9C9" stroke="#b3b3b3" stroke-width=".7"/>
<circle cx="1725.7" cy="727.1" r="27" fill="#C9C9C9" stroke="#b3b3b3" stroke-width=".7"/>
<circle cx="1829.3" cy="751" r="27" fill="#C9C9C9" stroke="#b3b3b3" stroke-width=".7"/>
<path d="M1750 808.7L1777 835.7L1750 862.7L1723 835.7Z" fill="#FCC436" stroke="#d9a62c" stroke-width=".7"/>
<circle cx="1880.7" cy="834.3" r="27" fill="#CCFFCC" stroke="#a8d6a8" stroke-width=".7"/>
<path d="M2010.2 808.7L2037.2 835.7L2010.2 862.7L1983.2 835.7Z" fill="#FCC436" stroke="#d9a62c" stroke-width=".7"/>
<circle cx="1644.3" cy="893.3" r="27" fill="#C9C9C9" stroke="#b3b3b3" stroke-width=".7"/>
<circle cx="1725.5" cy="944.3" r="27" fill="#C9C9C9" stroke="#b3b3b3" stroke-width=".7"/>
<circle cx="1829.8" cy="917.6" r="27" fill="#C9C9C9" stroke="#b3b3b3" stroke-width=".7"/>
<circle cx="1398.9" cy="1136.1" r="26.7" fill="#C9C9C9" stroke="#b3b3b3" stroke-width=".7"/>
<circle cx="1274.6" cy="1176.4" r="26.7" fill="#C9C9C9" stroke="#b3b3b3" stroke-width=".7"/>
<path d="M1364.3 1214.7L1391 1241.4L1364.3 1268.1L1337.6 1241.4Z" fill="#FCC436" stroke="#d9a62c" stroke-width=".7"/>
<circle cx="1475.1" cy="1241.1" r="26.7" fill="#C9C9C9" stroke="#b3b3b3" stroke-width=".7"/>
<circle cx="1274.6" cy="1306" r="26.7" fill="#C9C9C9" stroke="#b3b3b3" stroke-width=".7"/>
<circle cx="1398.9" cy="1346.3" r="26.7" fill="#C9C9C9" stroke="#b3b3b3" stroke-width=".7"/>
<circle cx="1908.6" cy="971.7" r="25.5" fill="#CCFFCC" stroke="#a8d6a8" stroke-width=".7"/>
<circle cx="1991.7" cy="976.9" r="25.5" fill="#C9C9C9" stroke="#b3b3b3" stroke-width=".7"/>
<circle cx="1845.2" cy="1026.2" r="25.5" fill="#C9C9C9" stroke="#b3b3b3" stroke-width=".7"/>
<circle cx="2046.4" cy="1027.4" r="25.5" fill="#C9C9C9" stroke="#b3b3b3" stroke-width=".7"/>
<path d="M1943.7 1052.1L1969.2 1077.6L1943.7 1103.1L1918.2 1077.6Z" fill="#FCC436" stroke="#d9a62c" stroke-width=".7"/>
<circle cx="2051.5" cy="1103.1" r="25.5" fill="#CCFFCC" stroke="#a8d6a8" stroke-width=".7"/>
<circle cx="1699.4" cy="1090.4" r="25.5" fill="#CCFFCC" stroke="#a8d6a8" stroke-width=".7"/>
<circle cx="1788.9" cy="1082.8" r="25.5" fill="#C9C9C9" stroke="#b3b3b3" stroke-width=".7"/>
<circle cx="1647.2" cy="1145.1" r="25.5" fill="#CCFFCC" stroke="#a8d6a8" stroke-width=".7"/>
<circle cx="1873.5" cy="1166.6" r="25.5" fill="#C9C9C9" stroke="#b3b3b3" stroke-width=".7"/>
<circle cx="1987.5" cy="1164.9" r="25.5" fill="#C9C9C9" stroke="#b3b3b3" stroke-width=".7"/>
<path d="M1758.3 1175.2L1783.8 1200.7L1758.3 1226.2L1732.8 1200.7Z" fill="#FCC436" stroke="#d9a62c" stroke-width=".7"/>
<circle cx="1642.3" cy="1234.4" r="25.5" fill="#C9C9C9" stroke="#b3b3b3" stroke-width=".7"/>
<circle cx="1976.1" cy="1240.3" r="25.5" fill="#C9C9C9" stroke="#b3b3b3" stroke-width=".7"/>
<path d="M1863.8 1259.3L1889.3 1284.8L1863.8 1310.3L1838.3 1284.8Z" fill="#FCC436" stroke="#d9a62c" stroke-width=".7"/>
<circle cx="1666.3" cy="1311" r="25.5" fill="#C9C9C9" stroke="#b3b3b3" stroke-width=".7"/>
<circle cx="1980.1" cy="1308.3" r="25.5" fill="#C9C9C9" stroke="#b3b3b3" stroke-width=".7"/>
<circle cx="1726.4" cy="1358.2" r="25.5" fill="#CCFFCC" stroke="#a8d6a8" stroke-width=".7"/>
<circle cx="1823.5" cy="1370.6" r="25.5" fill="#C9C9C9" stroke="#b3b3b3" stroke-width=".7"/>
<circle cx="1928.4" cy="1362.7" r="25.5" fill="#C9C9C9" stroke="#b3b3b3" stroke-width=".7"/>
<g font-size="13.6" text-anchor="middle" letter-spacing="2.1">
<text x="1402.2" y="192.3">-0.25</text>
<text x="1432" y="167.3">-0.25</text>
<text x="1469.6" y="188.9">-0.27</text>
<text x="1432.7" y="258.5">-0.24</text>
<text x="1574.8" y="229.9">-0.35</text>
<text x="1602.8" y="367.4">-0.4</text>
<text x="1600.3" y="116.3">-0.22</text>
<text x="1645" y="112.5">-0.27</text>
<text x="1579.6" y="136.3">-0.29</text>
<text x="1563.6" y="162">-0.37</text>
<text x="1662.9" y="203.2">-0.3</text>
<text x="1524.8" y="235.1">-0.24</text>
<text x="1584.6" y="380.1">-0.24</text>
<text x="1695.2" y="344.3">-0.3</text>
<text x="1736" y="114.4">-0.26</text>
<text x="1775.3" y="134.7">-0.3</text>
<text x="1724.1" y="199.4">-0.3</text>
<text x="1834.3" y="223.5">-0.46</text>
<text x="1943.9" y="162.5">-0.38</text>
<text x="1993.9" y="172">-0.45</text>
<text x="1915.8" y="188.9">-0.32</text>
<text x="2014.1" y="221.6">-0.4</text>
<text x="1937.4" y="250.9">-0.3</text>
<text x="1982" y="254.2">-0.42</text>
<text x="1623.6" y="241.8">-0.24</text>
<text x="1726" y="285.9">-0.24</text>
<text x="1793.9" y="300.9">-0.29</text>
<text x="1808.1" y="336.6">-0.35</text>
<text x="1769.6" y="375.6">-0.28</text>
<text x="1817.7" y="375.6">-0.27</text>
<text x="1754.8" y="423.1">-0.27</text>
<text x="1941" y="393.9">-0.23</text>
<text x="1986.7" y="410.6">-0.39</text>
<text x="1907.2" y="477.8">-0.32</text>
<text x="1952.9" y="493.5">-0.32</text>
<text x="1904.6" y="570.9">-0.29</text>
<text x="1469" y="346.4">-0.32</text>
<text x="1569.8" y="392">-0.31</text>
<text x="1429.1" y="421.3">-0.27</text>
<text x="1409.6" y="450.4">-0.29</text>
<text x="1401.7" y="505.1">-0.22</text>
<text x="1411.5" y="575.4">-0.29</text>
<text x="1487.7" y="562.5">-0.26</text>
<text x="1602" y="529.2">-0.31</text>
<text x="1576" y="355.1">-0.27</text>
<text x="1678.6" y="397">-0.26</text>
<text x="1517.9" y="456.6">-0.31</text>
<text x="1503.6" y="477.3">-0.35</text>
<text x="1507.7" y="510.1">-0.27</text>
<text x="1721.5" y="493.5">-0.27</text>
<text x="1707.2" y="536.3">-0.31</text>
<text x="1599.3" y="570.1">-0.28</text>
<text x="1711.5" y="570.1">-0.24</text>
<text x="1683.4" y="594.7">-0.24</text>
<text x="1652.4" y="608.9">-0.25</text>
<text x="1271.5" y="701.8">-0.37</text>
<text x="1234.6" y="730.4">-0.23</text>
<text x="1322" y="729.4">-0.23</text>
<text x="1234.6" y="776.3">-0.31</text>
<text x="1316.5" y="785.9">-0.27</text>
<text x="1272" y="804.4">-0.23</text>
<text x="1421.5" y="946.1">-0.22</text>
<text x="1487.9" y="946.1">-0.23</text>
<text x="1422.1" y="1012">-0.3</text>
<text x="1488.3" y="1012">-0.34</text>
<text x="1739.3" y="790.4" font-size="14.5">-0.34</text>
<text x="1788.1" y="802.8" font-size="14.5">-0.23</text>
<text x="1698.9" y="819" font-size="14.5">-0.31</text>
<text x="1816" y="841.6" font-size="14.5">-0.25</text>
<text x="1945.8" y="841.6" font-size="14.5">-0.4</text>
<text x="1701.2" y="869" font-size="14.5">-0.23</text>
<text x="1788.1" y="880.9" font-size="14.5">-0.23</text>
<text x="1739.1" y="894.5" font-size="14.5">-0.4</text>
<text x="1382.1" y="1197.5" font-size="14.5">-0.23</text>
<text x="1323.7" y="1217.8" font-size="14.5">-0.27</text>
<text x="1421.8" y="1246.6" font-size="14.5">-0.26</text>
<text x="1323.7" y="1277.2" font-size="14.5">-0.28</text>
<text x="1382.1" y="1297.5" font-size="14.5">-0.27</text>
<text x="1899" y="1060.3" font-size="14.0">-0.38</text>
<text x="1927.9" y="1033.8" font-size="14.0">-0.4</text>
<text x="1969.6" y="1036" font-size="14.0">-0.3</text>
<text x="1993.7" y="1060.3" font-size="14.0">-0.32</text>
<text x="1997.4" y="1095.7" font-size="14.0">-0.42</text>
<text x="1965.7" y="1124.1" font-size="14.0">-0.45</text>
<text x="1912.1" y="1125.4" font-size="14.0">-0.46</text>
<text x="1732.1" y="1159.5" font-size="14.0">-0.29</text>
<text x="1777.3" y="1154.5" font-size="14.0">-0.22</text>
<text x="1707.3" y="1179.8" font-size="14.0">-0.29</text>
<text x="1814.4" y="1190.2" font-size="14.0">-0.31</text>
<text x="1703.6" y="1222.5" font-size="14.0">-0.31</text>
<text x="1716" y="1258.2" font-size="14.0">-0.26</text>
<text x="1743.9" y="1284.1" font-size="14.0">-0.32</text>
<text x="1790.9" y="1289.3" font-size="14.0">-0.27</text>
<text x="1870" y="1232.2" font-size="14.0">-0.3</text>
<text x="1918.3" y="1270" font-size="14.0">-0.29</text>
<text x="1921.2" y="1302.7" font-size="14.0">-0.27</text>
<text x="1895.3" y="1326.9" font-size="14.0">-0.22</text>
<text x="1846.3" y="1330.6" font-size="14.0">-0.24</text>
<text x="1799.6" y="1325.7" font-size="14.0">-0.37</text>
<text x="1756.8" y="1265.6" font-size="14.0">-0.3</text>
<text x="1767.9" y="1303.9" font-size="14.0">-0.24</text>
</g>
<text x="1570" y="48" font-size="19.5" text-anchor="middle" letter-spacing="-0.2">PTPN12</text>
<text x="1648.1" y="42.3" font-size="19.5" text-anchor="middle" letter-spacing="-0.2">RND3</text>
<text x="1526.2" y="97" font-size="19.5" text-anchor="middle" letter-spacing="-0.2">ETS1</text>
<text x="1415.5" y="111.3" font-size="19.5" text-anchor="middle" letter-spacing="-0.2">OSTF1</text>
<text x="1350" y="162.5" font-size="19.5" text-anchor="middle" letter-spacing="-0.2">MYC</text>
<text x="1496.4" y="153.5" font-size="19.5" text-anchor="middle" letter-spacing="-0.2">SHC1</text>
<text x="1447.4" y="222.3" font-size="19.5" text-anchor="middle" letter-spacing="2.44">429</text>
<text x="1627.4" y="175" font-size="19.5" text-anchor="middle" letter-spacing="2.44">200b-3p</text>
<text x="1415.7" y="302.8" font-size="19.5" text-anchor="middle" letter-spacing="-0.2">WASF3</text>
<text x="1376.2" y="360" font-size="19.5" text-anchor="middle" letter-spacing="-0.2">MAPK14</text>
<text x="1729.5" y="63.2" font-size="19.5" text-anchor="middle" letter-spacing="-0.2">CSF1</text>
<text x="1814.3" y="99.9" font-size="19.5" text-anchor="middle" letter-spacing="-0.2">TP53INP1</text>
<text x="1922.9" y="113.5" font-size="19.5" text-anchor="middle" letter-spacing="-0.2">E2F5</text>
<text x="2029" y="131.3" font-size="19.5" text-anchor="middle" letter-spacing="-0.2">CTGF</text>
<text x="1740.7" y="168.5" font-size="19.5" text-anchor="middle" letter-spacing="2.44">130b-3p</text>
<text x="1863.1" y="168.5" font-size="19.5" text-anchor="middle" letter-spacing="-0.2">INPPL1</text>
<text x="1962.2" y="210.4" font-size="19.5" text-anchor="middle" letter-spacing="2.44">205-5p</text>
<text x="1703.3" y="240.4" font-size="19.5" text-anchor="middle" letter-spacing="-0.2">ZEB1</text>
<text x="2067.4" y="236.1" font-size="19.5" text-anchor="middle" letter-spacing="-0.2">ERBB3</text>
<text x="1847.1" y="270.9" font-size="19.5" text-anchor="middle" letter-spacing="-0.2">FN1</text>
<text x="1908.3" y="300.4" font-size="19.5" text-anchor="middle" letter-spacing="-0.2">LRRK2</text>
<text x="2002.4" y="306.1" font-size="19.5" text-anchor="middle" letter-spacing="-0.2">ERBB2</text>
<text x="1745.7" y="329.4" font-size="19.5" text-anchor="middle" letter-spacing="2.44">200c-3p</text>
<text x="1872.7" y="349.6" font-size="19.5" text-anchor="middle" letter-spacing="-0.2">MSN</text>
<text x="1979.6" y="366.5" font-size="19.5" text-anchor="middle" letter-spacing="2.44">203a</text>
<text x="1356.2" y="468.5" font-size="19.5" text-anchor="middle" letter-spacing="-0.2">KLHL20</text>
<text x="1440.7" y="539.9" font-size="19.5" text-anchor="middle" letter-spacing="2.44">200a-3p</text>
<text x="1653.8" y="554.2" font-size="19.5" text-anchor="middle" letter-spacing="2.44">141-3p</text>
<text x="1376.2" y="620.4" font-size="19.5" text-anchor="middle" letter-spacing="-0.2">YAP1</text>
<text x="1538.6" y="592.5" font-size="19.5" text-anchor="middle" letter-spacing="-0.2">SEPT7</text>
<text x="1763.6" y="521.8" font-size="19.5" text-anchor="middle" letter-spacing="-0.2">ZEB2</text>
<text x="1772.6" y="591.3" font-size="19.5" text-anchor="middle" letter-spacing="-0.2">CLOCK</text>
<text x="1714.8" y="644.6" font-size="19.5" text-anchor="middle" letter-spacing="-0.2">E2F3</text>
<text x="1650.2" y="667.3" font-size="19.5" text-anchor="middle" letter-spacing="-0.2">YWHAG</text>
<text x="1796" y="432.3" font-size="19.5" text-anchor="middle" letter-spacing="-0.2">RIN2</text>
<text x="1895.7" y="429.9" font-size="19.5" text-anchor="middle" letter-spacing="-0.2">EDNRA</text>
<text x="1993.6" y="461.6" font-size="19.5" text-anchor="middle" letter-spacing="-0.2">EYA4</text>
<text x="1916.2" y="525.1" font-size="19.5" text-anchor="middle" letter-spacing="2.44">224-5p</text>
<text x="1890.2" y="625.9" font-size="19.5" text-anchor="middle" letter-spacing="-0.2">CXCR4</text>
<text x="1263.8" y="649.7" font-size="19.5" text-anchor="middle" letter-spacing="-0.2">CYLD</text>
<text x="1184.3" y="706.8" font-size="19.5" text-anchor="middle" letter-spacing="-0.2">RARG</text>
<text x="1369.8" y="702.8" font-size="19.5" text-anchor="middle" letter-spacing="-0.2">RECK</text>
<text x="1279.3" y="755.9" font-size="19.5" text-anchor="middle" letter-spacing="2.44">182-5p</text>
<text x="1184.3" y="804.4" font-size="19.5" text-anchor="middle" letter-spacing="-0.2">SNAI2</text>
<text x="1359.3" y="824.2" font-size="19.5" text-anchor="middle" letter-spacing="-0.2">CCND2</text>
<text x="1263.8" y="860.6" font-size="19.5" text-anchor="middle" letter-spacing="-0.2">MTSS1</text>
<text x="1382.1" y="909.5" font-size="19" text-anchor="middle" letter-spacing="-0.2">PIK3CD</text>
<text x="1525" y="909.5" font-size="19" text-anchor="middle" letter-spacing="-0.2">SMAD1</text>
<text x="1454.4" y="981.5" font-size="19" text-anchor="middle" letter-spacing="2.38">30a-5p</text>
<text x="1382.1" y="1053" font-size="19" text-anchor="middle" letter-spacing="-0.2">NOTCH1</text>
<text x="1524.8" y="1053" font-size="19" text-anchor="middle" letter-spacing="-0.2">PRDM1</text>
<text x="1640.2" y="794" font-size="21" text-anchor="middle" letter-spacing="-0.2">KIT</text>
<text x="1725.7" y="735.6" font-size="21" text-anchor="middle" letter-spacing="-0.2">CDKN1B</text>
<text x="1829.3" y="759.5" font-size="21" text-anchor="middle" letter-spacing="-0.2">DKK2</text>
<text x="1751.3" y="844.2" font-size="21" text-anchor="middle" letter-spacing="2.62">221-3p</text>
<text x="1880.7" y="842.8" font-size="21" text-anchor="middle" letter-spacing="-0.2">ESR1</text>
<text x="2011.5" y="844.2" font-size="21" text-anchor="middle" letter-spacing="2.62">193b-3p</text>
<text x="1644.3" y="901.8" font-size="21" text-anchor="middle" letter-spacing="-0.2">TMED7</text>
<text x="1725.5" y="952.8" font-size="21" text-anchor="middle" letter-spacing="-0.2">BMF</text>
<text x="1829.8" y="926.1" font-size="21" text-anchor="middle" letter-spacing="-0.2">CDKN1C</text>
<text x="1398.9" y="1144.4" font-size="20.5" text-anchor="middle" letter-spacing="-0.2">CCND1</text>
<text x="1274.6" y="1184.7" font-size="20.5" text-anchor="middle" letter-spacing="-0.2">JAG1</text>
<text x="1365.6" y="1249.7" font-size="20.5" text-anchor="middle" letter-spacing="2.56">34a-5p</text>
<text x="1475.1" y="1249.4" font-size="20.5" text-anchor="middle" letter-spacing="-0.2">AXL</text>
<text x="1274.6" y="1314.3" font-size="20.5" text-anchor="middle" letter-spacing="-0.2">YY1</text>
<text x="1398.9" y="1354.6" font-size="20.5" text-anchor="middle" letter-spacing="-0.2">CD44</text>
<text x="1908.6" y="979.9" font-size="20" text-anchor="middle" letter-spacing="-0.2">ERBB3</text>
<text x="1991.7" y="985.1" font-size="20" text-anchor="middle" letter-spacing="-0.2">LRRK2</text>
<text x="1845.2" y="1034.4" font-size="20" text-anchor="middle" letter-spacing="-0.2">E2F5</text>
<text x="2046.4" y="1035.6" font-size="20" text-anchor="middle" letter-spacing="-0.2">INPPL1</text>
<text x="1945" y="1085.8" font-size="20" text-anchor="middle" letter-spacing="2.5">205-5p</text>
<text x="2051.5" y="1111.3" font-size="20" text-anchor="middle" letter-spacing="-0.2">ERBB2</text>
<text x="1699.4" y="1098.6" font-size="20" text-anchor="middle" letter-spacing="-0.2">MAPK14</text>
<text x="1788.9" y="1091" font-size="20" text-anchor="middle" letter-spacing="-0.2">KLHL20</text>
<text x="1647.2" y="1153.3" font-size="20" text-anchor="middle" letter-spacing="-0.2">YAP1</text>
<text x="1873.5" y="1174.8" font-size="20" text-anchor="middle" letter-spacing="-0.2">ZEB1</text>
<text x="1987.5" y="1173.1" font-size="20" text-anchor="middle" letter-spacing="-0.2">CTGF</text>
<text x="1759.5" y="1208.9" font-size="20" text-anchor="middle" letter-spacing="2.5">200a-3p</text>
<text x="1642.3" y="1242.6" font-size="20" text-anchor="middle" letter-spacing="-0.2">ZEB2</text>
<text x="1976.1" y="1248.5" font-size="20" text-anchor="middle" letter-spacing="-0.2">ETS1</text>
<text x="1865" y="1293" font-size="20" text-anchor="middle" letter-spacing="2.5">200b-3p</text>
<text x="1666.3" y="1319.2" font-size="20" text-anchor="middle" letter-spacing="-0.2">SEPT7</text>
<text x="1980.1" y="1316.5" font-size="20" text-anchor="middle" letter-spacing="-0.2">RND3</text>
<text x="1726.4" y="1366.4" font-size="20" text-anchor="middle" letter-spacing="-0.2">SHC1</text>
<text x="1823.5" y="1378.8" font-size="20" text-anchor="middle" letter-spacing="-0.2">WASF3</text>
<text x="1928.4" y="1370.9" font-size="20" text-anchor="middle" letter-spacing="-0.2">PTPN12</text>
<circle cx="1401.4" cy="1460.3" r="11.3" fill="#D3D3D3" stroke="#c4c4c4" stroke-width=".6"/>
<circle cx="1401.4" cy="1489.4" r="11.3" fill="#C1E6B3" stroke="#b3d9a5" stroke-width=".6"/>
<path d="M1401.4 1510.3L1414.4 1522.9L1401.4 1535.5L1388.4 1522.9Z" fill="#FDB462" stroke="#e69a45" stroke-width=".8"/>
<text x="1420.6" y="1466.4" font-size="25.6">Gene, mRNAseq data</text>
<text x="1420.6" y="1496.4" font-size="25.6">Gene, mRNAseq, &amp; RPPA data</text>
<text x="1420.6" y="1527.4" font-size="25.6">miR</text>
<rect x="1815.3" y="1457" width="45.1" height="10.6" fill="#8A8AFA"/>
<rect x="1815.3" y="1487" width="45.1" height="10.5" fill="#A6D888"/>
<text x="1869.2" y="1466.4" font-size="25.6">miR-RNA</text>
<text x="1869.2" y="1496.4" font-size="25.6">miR-protein</text>
</svg>
</body></html>
